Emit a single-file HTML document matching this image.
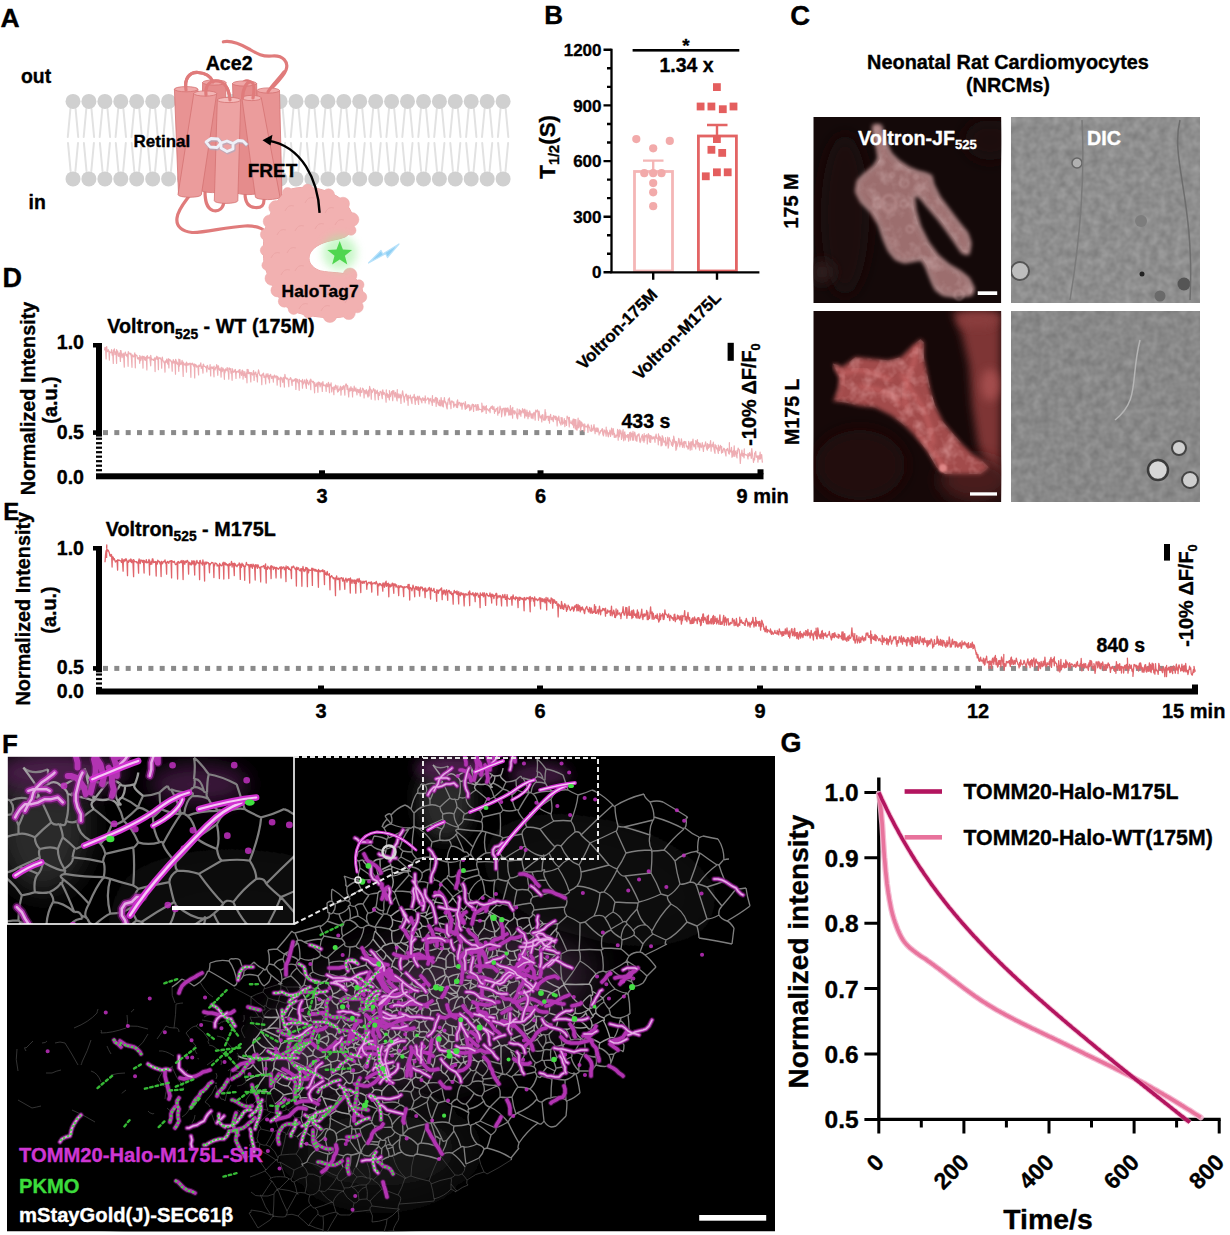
<!DOCTYPE html>
<html><head><meta charset="utf-8"><title>Figure</title>
<style>html,body{margin:0;padding:0;background:#fff;overflow:hidden;width:1230px;height:1235px;} svg{display:block;} text{font-family:'Liberation Sans',Arial,Helvetica,sans-serif;font-weight:bold;stroke:currentColor;stroke-width:0.35px;stroke-linejoin:round;}</style>
</head><body>
<svg width="1230" height="1235" viewBox="0 0 1230 1235">
<defs>
<filter id="blur1" x="-20%" y="-20%" width="140%" height="140%"><feGaussianBlur stdDeviation="1"/></filter>
<filter id="blur2" x="-20%" y="-20%" width="140%" height="140%"><feGaussianBlur stdDeviation="2"/></filter>
<filter id="blur4" x="-50%" y="-50%" width="200%" height="200%"><feGaussianBlur stdDeviation="4"/></filter>
<filter id="blur6" x="-50%" y="-50%" width="200%" height="200%"><feGaussianBlur stdDeviation="6"/></filter>
<filter id="blur8" x="-50%" y="-50%" width="200%" height="200%"><feGaussianBlur stdDeviation="8"/></filter>
<filter id="blur20" x="-50%" y="-50%" width="200%" height="200%"><feGaussianBlur stdDeviation="20"/></filter>
<filter id="noise" x="0" y="0" width="100%" height="100%"><feTurbulence type="fractalNoise" baseFrequency="0.12" numOctaves="2" seed="4"/><feColorMatrix type="matrix" values="0 0 0 0 0  0 0 0 0 0  0 0 0 0 0  0 0 0 -1.2 1.05"/></filter>
<filter id="noise2" x="0" y="0" width="100%" height="100%"><feTurbulence type="fractalNoise" baseFrequency="0.07" numOctaves="3" seed="9"/><feColorMatrix type="matrix" values="0 0 0 0 0.85  0 0 0 0 0.66  0 0 0 0 0.66  0 0 0 2.2 -0.9"/></filter>
<filter id="noise3" x="0" y="0" width="100%" height="100%"><feTurbulence type="fractalNoise" baseFrequency="0.07" numOctaves="3" seed="13"/><feColorMatrix type="matrix" values="0 0 0 0 0.92  0 0 0 0 0.5  0 0 0 0 0.5  0 0 0 2.4 -1.0"/></filter>
</defs>
<rect width="1230" height="1235" fill="#fff"/>
<g stroke="#e2e2e2" stroke-width="2" fill="none" stroke-linecap="round">
<path d="M70.4 109 L67.8 137 M75.6 109 L78.2 137 M68.0 143 L70.6 171 M78.0 143 L75.4 171"/>
<path d="M86.3 109 L83.7 137 M91.5 109 L94.1 137 M83.9 143 L86.5 171 M93.9 143 L91.3 171"/>
<path d="M102.3 109 L99.7 137 M107.5 109 L110.1 137 M99.9 143 L102.5 171 M109.9 143 L107.3 171"/>
<path d="M118.2 109 L115.6 137 M123.4 109 L126.0 137 M115.8 143 L118.4 171 M125.8 143 L123.2 171"/>
<path d="M134.1 109 L131.5 137 M139.3 109 L141.9 137 M131.7 143 L134.3 171 M141.7 143 L139.1 171"/>
<path d="M150.1 109 L147.5 137 M155.2 109 L157.8 137 M147.7 143 L150.2 171 M157.7 143 L155.1 171"/>
<path d="M166.0 109 L163.4 137 M171.2 109 L173.8 137 M163.6 143 L166.2 171 M173.6 143 L171.0 171"/>
<path d="M181.9 109 L179.3 137 M187.1 109 L189.7 137 M179.5 143 L182.1 171 M189.5 143 L186.9 171"/>
<path d="M197.8 109 L195.2 137 M203.0 109 L205.6 137 M195.4 143 L198.0 171 M205.4 143 L202.8 171"/>
<path d="M213.8 109 L211.2 137 M219.0 109 L221.6 137 M211.4 143 L214.0 171 M221.4 143 L218.8 171"/>
<path d="M229.7 109 L227.1 137 M234.9 109 L237.5 137 M227.3 143 L229.9 171 M237.3 143 L234.7 171"/>
<path d="M245.6 109 L243.0 137 M250.8 109 L253.4 137 M243.2 143 L245.8 171 M253.2 143 L250.6 171"/>
<path d="M261.6 109 L259.0 137 M266.8 109 L269.4 137 M259.2 143 L261.8 171 M269.2 143 L266.6 171"/>
<path d="M277.5 109 L274.9 137 M282.7 109 L285.3 137 M275.1 143 L277.7 171 M285.1 143 L282.5 171"/>
<path d="M293.4 109 L290.8 137 M298.6 109 L301.2 137 M291.0 143 L293.6 171 M301.0 143 L298.4 171"/>
<path d="M309.3 109 L306.8 137 M314.6 109 L317.1 137 M306.9 143 L309.6 171 M316.9 143 L314.3 171"/>
<path d="M325.3 109 L322.7 137 M330.5 109 L333.1 137 M322.9 143 L325.5 171 M332.9 143 L330.3 171"/>
<path d="M341.2 109 L338.6 137 M346.4 109 L349.0 137 M338.8 143 L341.4 171 M348.8 143 L346.2 171"/>
<path d="M357.1 109 L354.5 137 M362.3 109 L364.9 137 M354.7 143 L357.3 171 M364.7 143 L362.1 171"/>
<path d="M373.1 109 L370.5 137 M378.3 109 L380.9 137 M370.7 143 L373.3 171 M380.7 143 L378.1 171"/>
<path d="M389.0 109 L386.4 137 M394.2 109 L396.8 137 M386.6 143 L389.2 171 M396.6 143 L394.0 171"/>
<path d="M404.9 109 L402.3 137 M410.1 109 L412.7 137 M402.5 143 L405.1 171 M412.5 143 L409.9 171"/>
<path d="M420.9 109 L418.3 137 M426.1 109 L428.7 137 M418.5 143 L421.1 171 M428.5 143 L425.9 171"/>
<path d="M436.8 109 L434.2 137 M442.0 109 L444.6 137 M434.4 143 L437.0 171 M444.4 143 L441.8 171"/>
<path d="M452.7 109 L450.1 137 M457.9 109 L460.5 137 M450.3 143 L452.9 171 M460.3 143 L457.7 171"/>
<path d="M468.6 109 L466.1 137 M473.9 109 L476.4 137 M466.2 143 L468.9 171 M476.2 143 L473.6 171"/>
<path d="M484.6 109 L482.0 137 M489.8 109 L492.4 137 M482.2 143 L484.8 171 M492.2 143 L489.6 171"/>
<path d="M500.5 109 L497.9 137 M505.7 109 L508.3 137 M498.1 143 L500.7 171 M508.1 143 L505.5 171"/>
</g><g fill="#d0d0d0">
<circle cx="73.0" cy="101.4" r="7.5"/><circle cx="73.0" cy="178.9" r="7.5"/>
<circle cx="88.9" cy="101.4" r="7.5"/><circle cx="88.9" cy="178.9" r="7.5"/>
<circle cx="104.9" cy="101.4" r="7.5"/><circle cx="104.9" cy="178.9" r="7.5"/>
<circle cx="120.8" cy="101.4" r="7.5"/><circle cx="120.8" cy="178.9" r="7.5"/>
<circle cx="136.7" cy="101.4" r="7.5"/><circle cx="136.7" cy="178.9" r="7.5"/>
<circle cx="152.7" cy="101.4" r="7.5"/><circle cx="152.7" cy="178.9" r="7.5"/>
<circle cx="168.6" cy="101.4" r="7.5"/><circle cx="168.6" cy="178.9" r="7.5"/>
<circle cx="184.5" cy="101.4" r="7.5"/><circle cx="184.5" cy="178.9" r="7.5"/>
<circle cx="200.4" cy="101.4" r="7.5"/><circle cx="200.4" cy="178.9" r="7.5"/>
<circle cx="216.4" cy="101.4" r="7.5"/><circle cx="216.4" cy="178.9" r="7.5"/>
<circle cx="232.3" cy="101.4" r="7.5"/><circle cx="232.3" cy="178.9" r="7.5"/>
<circle cx="248.2" cy="101.4" r="7.5"/><circle cx="248.2" cy="178.9" r="7.5"/>
<circle cx="264.2" cy="101.4" r="7.5"/><circle cx="264.2" cy="178.9" r="7.5"/>
<circle cx="280.1" cy="101.4" r="7.5"/><circle cx="280.1" cy="178.9" r="7.5"/>
<circle cx="296.0" cy="101.4" r="7.5"/><circle cx="296.0" cy="178.9" r="7.5"/>
<circle cx="311.9" cy="101.4" r="7.5"/><circle cx="311.9" cy="178.9" r="7.5"/>
<circle cx="327.9" cy="101.4" r="7.5"/><circle cx="327.9" cy="178.9" r="7.5"/>
<circle cx="343.8" cy="101.4" r="7.5"/><circle cx="343.8" cy="178.9" r="7.5"/>
<circle cx="359.7" cy="101.4" r="7.5"/><circle cx="359.7" cy="178.9" r="7.5"/>
<circle cx="375.7" cy="101.4" r="7.5"/><circle cx="375.7" cy="178.9" r="7.5"/>
<circle cx="391.6" cy="101.4" r="7.5"/><circle cx="391.6" cy="178.9" r="7.5"/>
<circle cx="407.5" cy="101.4" r="7.5"/><circle cx="407.5" cy="178.9" r="7.5"/>
<circle cx="423.5" cy="101.4" r="7.5"/><circle cx="423.5" cy="178.9" r="7.5"/>
<circle cx="439.4" cy="101.4" r="7.5"/><circle cx="439.4" cy="178.9" r="7.5"/>
<circle cx="455.3" cy="101.4" r="7.5"/><circle cx="455.3" cy="178.9" r="7.5"/>
<circle cx="471.2" cy="101.4" r="7.5"/><circle cx="471.2" cy="178.9" r="7.5"/>
<circle cx="487.2" cy="101.4" r="7.5"/><circle cx="487.2" cy="178.9" r="7.5"/>
<circle cx="503.1" cy="101.4" r="7.5"/><circle cx="503.1" cy="178.9" r="7.5"/>
</g>
<g fill="none" stroke="#e07b7b" stroke-width="3.2" stroke-linecap="round" stroke-linejoin="round">
<path d="M223.4 41.8 C232 40 242 45 249 49 C256 53 262 57 272 56 C283 55 289 62 286 70 C283 78 275 84 268 92"/>
<path d="M186 90 C184 78 190 72 198 72.5 C206 73 211 77 213 82"/>
<path d="M206 95 C205 86 209 81 216 81 C224 81 229 88 230 100"/>
<path d="M242.5 86 C243 80 249 79 251 84 C253 89 252 93 252 98"/>
<path d="M205 191 C205 200 206 208 213 210.5 C219 212 224 208 224 200"/>
<path d="M245 193 C245 200 247 207 255 207.5 C262 208 264 205 264 200"/>
<path d="M188.5 197 C184 203 178 210 177 218 C176 226 181 231 192 232.5 C205 233 225 227 245 226 C255 225.5 262 228 266 232"/>
</g>
<path d="M202.6 82.5 L201 190 A11.5 2.6 0 0 0 224 190 L226 82.5 Z" fill="#e58c8c" stroke="#d47272" stroke-width="0.8"/><ellipse cx="214.3" cy="82.5" rx="11.700000000000003" ry="2.6" fill="#efa6a6" stroke="#d47272" stroke-width="0.8"/>
<path d="M232.5 83.5 L236 192 A12.0 2.6 0 0 0 260 192 L256.6 83.5 Z" fill="#e58c8c" stroke="#d47272" stroke-width="0.8"/><ellipse cx="244.55" cy="83.5" rx="12.050000000000011" ry="2.6" fill="#efa6a6" stroke="#d47272" stroke-width="0.8"/>
<path d="M174.4 89.2 L178.5 194 A11.25 2.6 0 0 0 201 194 L197.9 89.2 Z" fill="#e89393" stroke="#d47272" stroke-width="0.8"/><ellipse cx="186.15" cy="89.2" rx="11.75" ry="2.6" fill="#f0aaaa" stroke="#d47272" stroke-width="0.8"/>
<path d="M257 90.5 L256 196 A13.0 2.6 0 0 0 282 196 L279.5 90.5 Z" fill="#e89393" stroke="#d47272" stroke-width="0.8"/><ellipse cx="268.25" cy="90.5" rx="11.25" ry="2.6" fill="#f0aaaa" stroke="#d47272" stroke-width="0.8"/>
<path d="M193.8 93.5 L178 194.7 A11.700000000000003 2.6 0 0 0 201.4 194.7 L216.7 93.5 Z" fill="#eb9c9c" stroke="#d47272" stroke-width="0.8"/><ellipse cx="205.25" cy="93.5" rx="11.449999999999989" ry="2.6" fill="#f2b4b4" stroke="#d47272" stroke-width="0.8"/>
<path d="M241.9 98 L255.4 197 A12.299999999999997 2.6 0 0 0 280 197 L261.3 98 Z" fill="#eb9c9c" stroke="#d47272" stroke-width="0.8"/><ellipse cx="251.60000000000002" cy="98" rx="9.700000000000003" ry="2.6" fill="#f2b4b4" stroke="#d47272" stroke-width="0.8"/>
<path d="M217.3 100 L214.3 200.8 A11.75 2.6 0 0 0 237.8 200.8 L240.7 100 Z" fill="#eda3a3" stroke="#d47272" stroke-width="0.8"/><ellipse cx="229.0" cy="100" rx="11.699999999999989" ry="2.6" fill="#f4baba" stroke="#d47272" stroke-width="0.8"/>
<g fill="none" stroke="#e07b7b" stroke-width="3.2" stroke-linecap="round" stroke-linejoin="round">
<path d="M206 95 C205 86 209 81 216 81 C224 81 229 88 230 100"/>
<path d="M186 90 C184 78 190 72 198 72.5 C206 73 211 77 213 82"/>
<path d="M242.5 98 C243 88 247 81 251 82 C255 83 254 92 253 98"/>
<path d="M268 92 C272 85 278 80 284 72"/>
</g>
<g fill="none" stroke="#a8aac0" stroke-width="4.2" stroke-linejoin="round" opacity="0.6" transform="translate(0.6 0.8)"><path d="M206 142 L211 138.5 L218 139 L221 143 L217 147.5 L210 147 Z"/><path d="M221 143 L227 141 L233 143.5 L233 149 L227 151.5 L221 148 Z"/><path d="M233 143.5 L238 140.5 L243 141 L247 145"/></g>
<g fill="none" stroke="#eef0f8" stroke-width="2.8" stroke-linejoin="round"><path d="M206 142 L211 138.5 L218 139 L221 143 L217 147.5 L210 147 Z"/><path d="M221 143 L227 141 L233 143.5 L233 149 L227 151.5 L221 148 Z"/><path d="M233 143.5 L238 140.5 L243 141 L247 145"/></g>
<path d="M286.8 190.6 C296 186 318 186 329 192.7 C340 196 350 205 353.4 218 C356 226 352 233 345 237 C338 240 330 240 322 243.4 C314 247 309 252 309 258.2 C309 264 314 269 320.7 270.9 C330 273 344 272 352 276 C360 281 364 290 363 298.4 C362 306 357 312 350 315 C340 319 322 318 308 315.3 C296 313 288 310 283 303 C277 296 274 288 270 279.4 C265 270 263 262 263.6 250 C263 238 265 228 268 220 C271 212 276 200 286.8 190.6 Z" fill="#f2b1b1" stroke="#eaa2a2" stroke-width="1"/>
<g fill="#f2b1b1" stroke="#eda9a9" stroke-width="0.5"><circle cx="287.6" cy="192.6" r="5.0"/><circle cx="307.5" cy="189.6" r="5.5"/><circle cx="328.5" cy="194.8" r="6.0"/><circle cx="343.0" cy="203.7" r="6.5"/><circle cx="351.9" cy="219.6" r="7.0"/><circle cx="351.0" cy="230.3" r="5.0"/><circle cx="350.0" cy="275.0" r="7.0"/><circle cx="359.0" cy="284.8" r="5.0"/><circle cx="361.3" cy="297.0" r="5.5"/><circle cx="357.3" cy="306.8" r="6.0"/><circle cx="348.8" cy="313.1" r="6.5"/><circle cx="329.9" cy="315.5" r="7.0"/><circle cx="308.3" cy="313.1" r="5.0"/><circle cx="293.7" cy="308.9" r="5.5"/><circle cx="284.3" cy="301.2" r="6.0"/><circle cx="277.4" cy="290.4" r="6.5"/><circle cx="272.0" cy="278.4" r="7.0"/><circle cx="266.9" cy="265.3" r="5.0"/><circle cx="265.8" cy="250.3" r="5.5"/><circle cx="266.4" cy="234.5" r="6.0"/><circle cx="269.7" cy="221.4" r="6.5"/><circle cx="275.8" cy="207.6" r="7.0"/></g>
<path d="M286.8 190.6 C296 186 318 186 329 192.7 C340 196 350 205 353.4 218 C356 226 352 233 345 237 C338 240 330 240 322 243.4 C314 247 309 252 309 258.2 C309 264 314 269 320.7 270.9 C330 273 344 272 352 276 C360 281 364 290 363 298.4 C362 306 357 312 350 315 C340 319 322 318 308 315.3 C296 313 288 310 283 303 C277 296 274 288 270 279.4 C265 270 263 262 263.6 250 C263 238 265 228 268 220 C271 212 276 200 286.8 190.6 Z" fill="#f2b1b1"/>
<g fill="none" stroke="#eaa5a5" stroke-width="0.9" opacity="0.9">
<path d="M285 211 Q288 204 294 206"/>
<path d="M305 203 Q308 196 314 198"/>
<path d="M325 213 Q328 206 334 208"/>
<path d="M277 235 Q280 228 286 230"/>
<path d="M295 231 Q298 224 304 226"/>
<path d="M315 229 Q318 222 324 224"/>
<path d="M335 225 Q338 218 344 220"/>
<path d="M271 258 Q274 251 280 253"/>
<path d="M287 253 Q290 246 296 248"/>
<path d="M281 275 Q284 268 290 270"/>
<path d="M295 271 Q298 264 304 266"/>
<path d="M287 295 Q290 288 296 290"/>
<path d="M307 293 Q310 286 316 288"/>
<path d="M327 295 Q330 288 336 290"/>
<path d="M345 303 Q348 296 354 298"/>
<path d="M299 309 Q302 302 308 304"/>
<path d="M321 311 Q324 304 330 306"/>
</g>
<circle cx="339.7" cy="253" r="17" fill="#9cf09c" opacity="0.55" filter="url(#blur4)"/>
<polygon points="339.7,241.0 342.9,249.6 352.1,250.0 344.9,255.7 347.3,264.5 339.7,259.5 332.1,264.5 334.5,255.7 327.3,250.0 336.5,249.6" fill="#4fd64f"/>
<polygon points="368.5,263 381,250.5 382.8,254 399,244 387.5,257.5 385.6,253.8" fill="#8fd0f5" stroke="#b8e2fa" stroke-width="1.2" stroke-linejoin="round"/>
<path d="M319.6 212.9 C318 180 302 146 268 140.6" fill="none" stroke="#000" stroke-width="2.4"/>
<polygon points="262.5,140.2 272.5,134.8 270.5,145.5" fill="#000"/>
<text x="0.5" y="27" font-size="26.5" text-anchor="start" fill="#000" >A</text>
<text x="21" y="82.5" font-size="19.4" text-anchor="start" fill="#000" >out</text>
<text x="28.5" y="209" font-size="19.4" text-anchor="start" fill="#000" >in</text>
<text x="205.7" y="69.8" font-size="19.6" text-anchor="start" fill="#000" >Ace2</text>
<text x="133.6" y="146.5" font-size="17" text-anchor="start" fill="#000" >Retinal</text>
<text x="247.7" y="177" font-size="19" text-anchor="start" fill="#000" >FRET</text>
<text x="281.6" y="297.3" font-size="17.4" text-anchor="start" fill="#000" >HaloTag7</text>
<rect x="634.5" y="171.5" width="38" height="99.5" fill="none" stroke="#f4b6b6" stroke-width="2.8"/>
<rect x="698.4" y="136" width="38" height="135.0" fill="none" stroke="#e36464" stroke-width="2.8"/>
<path d="M611.5 48.80000000000001 L611.5 272.3 L759.4 272.3" fill="none" stroke="#000" stroke-width="2.3"/>
<path d="M603.5 272.3 L611.5 272.3 M607.0 253.8 L611.5 253.8 M607.0 235.2 L611.5 235.2 M603.5 216.7 L611.5 216.7 M607.0 198.1 L611.5 198.1 M607.0 179.6 L611.5 179.6 M603.5 161.1 L611.5 161.1 M607.0 142.5 L611.5 142.5 M607.0 124.0 L611.5 124.0 M603.5 105.4 L611.5 105.4 M607.0 86.9 L611.5 86.9 M607.0 68.3 L611.5 68.3 M603.5 49.8 L611.5 49.8 M653.2 272.3 L653.2 279.8 M717 272.3 L717 279.8" stroke="#000" stroke-width="2.4"/>
<text x="601.5" y="278.40000000000003" font-size="17" text-anchor="end" fill="#000" >0</text>
<text x="601.5" y="222.775" font-size="17" text-anchor="end" fill="#000" >300</text>
<text x="601.5" y="167.15" font-size="17" text-anchor="end" fill="#000" >600</text>
<text x="601.5" y="111.525" font-size="17" text-anchor="end" fill="#000" >900</text>
<text x="601.5" y="55.90000000000001" font-size="17" text-anchor="end" fill="#000" >1200</text>
<path d="M643 160.6 L663.5 160.6 M653.2 160.6 L653.2 172" stroke="#f4b6b6" stroke-width="2.4"/>
<path d="M707 125 L727.5 125 M717 125 L717 137" stroke="#e36464" stroke-width="2.4"/>
<g fill="#f2aaaa">
<circle cx="636.3" cy="139.1" r="4.1"/>
<circle cx="653.2" cy="148.3" r="4.1"/>
<circle cx="669.8" cy="140.9" r="4.1"/>
<circle cx="644.3" cy="173.2" r="4.1"/>
<circle cx="653.2" cy="173.2" r="4.1"/>
<circle cx="661.5" cy="173.2" r="4.1"/>
<circle cx="653.2" cy="183.1" r="4.1"/>
<circle cx="653.2" cy="192.3" r="4.1"/>
<circle cx="653.2" cy="206.2" r="4.1"/>
</g>
<g fill="#e45e5e">
<rect x="713.0" y="83.2" width="7.8" height="7.8"/>
<rect x="696.7" y="102.6" width="7.8" height="7.8"/>
<rect x="707.5" y="102.6" width="7.8" height="7.8"/>
<rect x="718.9" y="105.3" width="7.8" height="7.8"/>
<rect x="729.6" y="102.6" width="7.8" height="7.8"/>
<rect x="713.0" y="135.2" width="7.8" height="7.8"/>
<rect x="707.5" y="145.9" width="7.8" height="7.8"/>
<rect x="718.3" y="149.0" width="7.8" height="7.8"/>
<rect x="701.9" y="172.4" width="7.8" height="7.8"/>
<rect x="713.0" y="168.4" width="7.8" height="7.8"/>
<rect x="723.8" y="168.4" width="7.8" height="7.8"/>
</g>
<rect x="632.6" y="49" width="106.7" height="2.6" fill="#000"/>
<text x="686" y="51.5" font-size="19" text-anchor="middle" fill="#000" >*</text>
<text x="686.5" y="72.2" font-size="19.5" text-anchor="middle" fill="#000" >1.34 x</text>
<g transform="translate(555.2 146.8) rotate(-90)"><text x="0" y="0" font-size="22.4" text-anchor="middle">T<tspan font-size="14.5" dy="4">1/2</tspan><tspan dy="-4">(S)</tspan></text></g>
<text x="0" y="0" font-size="16.9" text-anchor="end" transform="translate(658.5 295.7) rotate(-45)">Voltron-175M</text>
<text x="0" y="0" font-size="16.9" text-anchor="end" transform="translate(722 298.7) rotate(-45)">Voltron-M175L</text>
<text x="544.3" y="24.2" font-size="26" text-anchor="start" fill="#000" >B</text>
<text x="790.3" y="24.6" font-size="27.5" text-anchor="start" fill="#000" >C</text>
<text x="1008" y="68.9" font-size="19.9" text-anchor="middle" fill="#000" >Neonatal Rat Cardiomyocytes</text>
<text x="1008" y="92.3" font-size="19.9" text-anchor="middle" fill="#000" >(NRCMs)</text>
<text x="0" y="0" font-size="19.8" text-anchor="middle" transform="translate(798.3 201) rotate(-90)">175 M</text>
<text x="0" y="0" font-size="19.6" text-anchor="middle" transform="translate(798.5 411.7) rotate(-90)">M175 L</text>
<defs><clipPath id="cl1"><rect x="813.3" y="117" width="188" height="186"/></clipPath><clipPath id="cl2"><rect x="813.3" y="311" width="188" height="191"/></clipPath><clipPath id="cd1"><rect x="1011" y="117" width="189" height="186"/></clipPath><clipPath id="cd2"><rect x="1011" y="311" width="189" height="191"/></clipPath></defs>
<g clip-path="url(#cl1)"><rect x="813.3" y="117" width="188" height="186" fill="#140909"/>
<ellipse cx="845" cy="215" rx="24" ry="80" fill="#1f1111" filter="url(#blur8)"/>
<ellipse cx="822" cy="272" rx="12" ry="12" fill="#2e1a1a" filter="url(#blur6)"/>
<ellipse cx="990" cy="140" rx="25" ry="20" fill="#1e1010" filter="url(#blur8)"/>
<polygon points="874.2,126.3 879.9,126.3 883.2,139.3 889.7,153.9 897.8,162.0 907.6,168.5 917.3,172.6 923.8,174.2 930.3,176.7 932.0,184.8 938.5,197.8 948.2,210.8 958.0,223.8 966.1,233.6 969.3,243.3 967.7,253.1 962.8,251.5 956.3,241.7 948.2,230.3 938.5,217.3 928.7,205.9 922.2,197.8 916.5,192.9 912.4,196.2 914.1,210.8 918.9,227.1 927.1,243.3 936.8,256.3 948.2,266.1 959.6,272.6 967.7,279.1 972.6,288.9 971.0,293.7 956.3,295.4 943.3,293.7 936.8,288.9 933.6,282.4 930.3,274.2 927.1,266.1 922.2,258.0 914.1,259.6 904.3,261.2 896.2,258.0 889.7,249.8 884.8,238.5 879.9,223.8 871.8,210.8 862.0,201.1 857.2,191.3 858.8,181.5 865.3,175.0 875.0,166.9 879.9,158.8 878.3,147.4 875.0,136.0" fill="#9c6e6e" filter="url(#blur2)"/>
<polygon points="874.2,126.3 879.9,126.3 883.2,139.3 889.7,153.9 897.8,162.0 907.6,168.5 917.3,172.6 923.8,174.2 930.3,176.7 932.0,184.8 938.5,197.8 948.2,210.8 958.0,223.8 966.1,233.6 969.3,243.3 967.7,253.1 962.8,251.5 956.3,241.7 948.2,230.3 938.5,217.3 928.7,205.9 922.2,197.8 916.5,192.9 912.4,196.2 914.1,210.8 918.9,227.1 927.1,243.3 936.8,256.3 948.2,266.1 959.6,272.6 967.7,279.1 972.6,288.9 971.0,293.7 956.3,295.4 943.3,293.7 936.8,288.9 933.6,282.4 930.3,274.2 927.1,266.1 922.2,258.0 914.1,259.6 904.3,261.2 896.2,258.0 889.7,249.8 884.8,238.5 879.9,223.8 871.8,210.8 862.0,201.1 857.2,191.3 858.8,181.5 865.3,175.0 875.0,166.9 879.9,158.8 878.3,147.4 875.0,136.0" fill="none" stroke="#c69a9a" stroke-width="3.5" stroke-linejoin="round" filter="url(#blur2)"/>
<g filter="url(#blur1)"><circle cx="959" cy="295" r="4.6" fill="none" stroke="#c39c9c" stroke-width="1.3" opacity="0.7"/><circle cx="916" cy="177" r="2.0" fill="none" stroke="#c39c9c" stroke-width="1.3" opacity="0.7"/><circle cx="904" cy="204" r="3.6" fill="none" stroke="#c39c9c" stroke-width="1.3" opacity="0.7"/><circle cx="910" cy="229" r="3.6" fill="none" stroke="#c39c9c" stroke-width="1.3" opacity="0.7"/><circle cx="892" cy="175" r="2.2" fill="none" stroke="#c39c9c" stroke-width="1.3" opacity="0.7"/><circle cx="878" cy="203" r="4.7" fill="none" stroke="#c39c9c" stroke-width="1.3" opacity="0.7"/><circle cx="904" cy="183" r="4.4" fill="none" stroke="#c39c9c" stroke-width="1.3" opacity="0.7"/></g>
<clipPath id="cc1"><polygon points="874.2,126.3 879.9,126.3 883.2,139.3 889.7,153.9 897.8,162.0 907.6,168.5 917.3,172.6 923.8,174.2 930.3,176.7 932.0,184.8 938.5,197.8 948.2,210.8 958.0,223.8 966.1,233.6 969.3,243.3 967.7,253.1 962.8,251.5 956.3,241.7 948.2,230.3 938.5,217.3 928.7,205.9 922.2,197.8 916.5,192.9 912.4,196.2 914.1,210.8 918.9,227.1 927.1,243.3 936.8,256.3 948.2,266.1 959.6,272.6 967.7,279.1 972.6,288.9 971.0,293.7 956.3,295.4 943.3,293.7 936.8,288.9 933.6,282.4 930.3,274.2 927.1,266.1 922.2,258.0 914.1,259.6 904.3,261.2 896.2,258.0 889.7,249.8 884.8,238.5 879.9,223.8 871.8,210.8 862.0,201.1 857.2,191.3 858.8,181.5 865.3,175.0 875.0,166.9 879.9,158.8 878.3,147.4 875.0,136.0"/></clipPath>
<g clip-path="url(#cc1)"><rect x="813" y="117" width="188" height="186" filter="url(#noise2)" opacity="0.3"/></g>
<ellipse cx="889" cy="203" rx="7" ry="8" fill="none" stroke="#b08484" stroke-width="2.5" filter="url(#blur1)"/>
<rect x="977.7" y="291.3" width="19.5" height="3.7" fill="#fff"/></g>
<g clip-path="url(#cl2)"><rect x="813.3" y="311" width="188" height="191" fill="#160808"/>
<polygon points="952,311 1001,311 1001,478 988,470 978,445 972,405 969,365 962,335" fill="#7e3636" filter="url(#blur4)"/>
<ellipse cx="990" cy="385" rx="9" ry="16" fill="#a44e4e" filter="url(#blur4)"/>
<ellipse cx="978" cy="320" rx="20" ry="8" fill="#8a3e3e" filter="url(#blur4)"/>
<ellipse cx="975" cy="480" rx="35" ry="22" fill="#4a1e1e" filter="url(#blur8)"/>
<ellipse cx="860" cy="465" rx="45" ry="35" fill="#221010" filter="url(#blur8)"/>
<polygon points="832.8,363.5 842.5,366.8 855.5,357.0 871.8,358.7 888.0,360.3 901.1,357.0 910.8,347.3 920.6,339.1 923.8,342.4 923.8,357.0 927.1,373.3 930.3,389.6 935.2,405.8 943.3,422.1 953.1,433.5 962.8,444.8 972.6,454.6 982.4,461.1 988.9,467.6 980.7,474.1 956.3,474.1 945.0,474.1 936.8,467.6 927.1,451.3 917.3,438.3 904.3,425.3 891.3,415.6 875.0,407.4 858.8,405.8 845.8,402.6 832.8,400.9 839.3,389.6 839.3,376.5" fill="#a24c4c" filter="url(#blur2)"/>
<polyline points="915.7,345.7 914.1,361.9 907.6,378.2 904.3,396.1 907.6,410.7" fill="none" stroke="#d87070" stroke-width="3.5" stroke-linejoin="round" filter="url(#blur2)" opacity="0.6"/>
<polyline points="901.1,373.3 910.8,389.6 923.8,409.1 930.3,428.6 933.6,444.8" fill="none" stroke="#d87070" stroke-width="3.5" stroke-linejoin="round" filter="url(#blur2)" opacity="0.6"/>
<polyline points="917.3,435.1 927.1,444.8 940.1,461.1 943.3,470.9" fill="none" stroke="#d87070" stroke-width="3.5" stroke-linejoin="round" filter="url(#blur2)" opacity="0.6"/>
<polyline points="842.5,373.3 858.8,370.0 875.0,373.3 891.3,379.8" fill="none" stroke="#d87070" stroke-width="3.5" stroke-linejoin="round" filter="url(#blur2)" opacity="0.6"/>
<polyline points="834.4,365.2 842.5,378.2 837.6,396.1" fill="none" stroke="#d87070" stroke-width="3.5" stroke-linejoin="round" filter="url(#blur2)" opacity="0.6"/>
<polyline points="858.8,386.3 878.3,389.6 894.6,396.1 901.1,405.8" fill="none" stroke="#d87070" stroke-width="3.5" stroke-linejoin="round" filter="url(#blur2)" opacity="0.6"/>
<circle cx="943" cy="468" r="4" fill="#e08888" filter="url(#blur1)"/>
<clipPath id="cc2"><polygon points="832.8,363.5 842.5,366.8 855.5,357.0 871.8,358.7 888.0,360.3 901.1,357.0 910.8,347.3 920.6,339.1 923.8,342.4 923.8,357.0 927.1,373.3 930.3,389.6 935.2,405.8 943.3,422.1 953.1,433.5 962.8,444.8 972.6,454.6 982.4,461.1 988.9,467.6 980.7,474.1 956.3,474.1 945.0,474.1 936.8,467.6 927.1,451.3 917.3,438.3 904.3,425.3 891.3,415.6 875.0,407.4 858.8,405.8 845.8,402.6 832.8,400.9 839.3,389.6 839.3,376.5"/></clipPath>
<g clip-path="url(#cc2)"><rect x="813" y="311" width="188" height="191" filter="url(#noise3)" opacity="0.45"/></g>
<rect x="970" y="492.3" width="27" height="3.3" fill="#fff"/></g>
<g clip-path="url(#cd1)"><rect x="1011" y="117" width="189" height="186" fill="#9e9e9e"/>
<rect x="1011" y="117" width="189" height="186" filter="url(#noise)" opacity="0.22"/>
</g>
<g clip-path="url(#cd2)"><rect x="1011" y="311" width="189" height="191" fill="#989898"/>
<rect x="1011" y="311" width="189" height="191" filter="url(#noise)" opacity="0.22"/>
</g>
<g clip-path="url(#cd1)"><circle cx="1020" cy="271" r="9" fill="#bdbdbd" stroke="#555" stroke-width="2"/><circle cx="1077" cy="163" r="5" fill="#b0b0b0" stroke="#666" stroke-width="1.5"/><circle cx="1184" cy="284" r="6.5" fill="#555"/><circle cx="1160" cy="296" r="5.5" fill="#6a6a6a"/><circle cx="1142" cy="274" r="2.5" fill="#222"/><circle cx="1141" cy="221" r="6" fill="#7d7d7d"/><path d="M1082 120 C1085 180 1080 240 1070 300" stroke="#7a7a7a" stroke-width="1.5" fill="none"/><path d="M1180 120 C1170 160 1195 200 1190 300" stroke="#6d6d6d" stroke-width="1.5" fill="none"/></g>
<g clip-path="url(#cd2)"><circle cx="1158" cy="470" r="10" fill="#d6d6d6" stroke="#3a3a3a" stroke-width="2.5"/><circle cx="1179" cy="448" r="7" fill="#d0d0d0" stroke="#444" stroke-width="2"/><circle cx="1190" cy="480" r="8" fill="#cfcfcf" stroke="#444" stroke-width="2"/><path d="M1140 340 C1130 380 1140 400 1115 420" stroke="#b5b5b5" stroke-width="1.5" fill="none"/></g>
<text x="858" y="144.8" font-size="19.7" text-anchor="start" fill="#fff" color="#fff" >Voltron-JF<tspan font-size="13" dy="4">525</tspan></text>
<text x="1104" y="145.4" font-size="19.7" text-anchor="middle" fill="#fff" color="#fff" >DIC</text>
<text x="2.6" y="286.6" font-size="27" text-anchor="start" fill="#000" >D</text>
<text x="0" y="0" font-size="19.8" text-anchor="middle" transform="translate(34.5 398.5) rotate(-90)">Normalized Intensity</text>
<text x="0" y="0" font-size="19.8" text-anchor="middle" transform="translate(56.5 400) rotate(-90)">(a.u.)</text>
<text x="84" y="349.4" font-size="19.6" text-anchor="end" fill="#000" >1.0</text>
<text x="84" y="439.3" font-size="19.6" text-anchor="end" fill="#000" >0.5</text>
<text x="84" y="483.5" font-size="19.6" text-anchor="end" fill="#000" >0.0</text>
<g fill="#8a8a8a"><rect x="103.0" y="430.1" width="5" height="5"/><rect x="114.3" y="430.1" width="5" height="5"/><rect x="125.7" y="430.1" width="5" height="5"/><rect x="137.0" y="430.1" width="5" height="5"/><rect x="148.4" y="430.1" width="5" height="5"/><rect x="159.7" y="430.1" width="5" height="5"/><rect x="171.1" y="430.1" width="5" height="5"/><rect x="182.4" y="430.1" width="5" height="5"/><rect x="193.8" y="430.1" width="5" height="5"/><rect x="205.1" y="430.1" width="5" height="5"/><rect x="216.5" y="430.1" width="5" height="5"/><rect x="227.8" y="430.1" width="5" height="5"/><rect x="239.2" y="430.1" width="5" height="5"/><rect x="250.5" y="430.1" width="5" height="5"/><rect x="261.9" y="430.1" width="5" height="5"/><rect x="273.2" y="430.1" width="5" height="5"/><rect x="284.6" y="430.1" width="5" height="5"/><rect x="295.9" y="430.1" width="5" height="5"/><rect x="307.3" y="430.1" width="5" height="5"/><rect x="318.7" y="430.1" width="5" height="5"/><rect x="330.0" y="430.1" width="5" height="5"/><rect x="341.4" y="430.1" width="5" height="5"/><rect x="352.7" y="430.1" width="5" height="5"/><rect x="364.1" y="430.1" width="5" height="5"/><rect x="375.4" y="430.1" width="5" height="5"/><rect x="386.8" y="430.1" width="5" height="5"/><rect x="398.1" y="430.1" width="5" height="5"/><rect x="409.5" y="430.1" width="5" height="5"/><rect x="420.8" y="430.1" width="5" height="5"/><rect x="432.2" y="430.1" width="5" height="5"/><rect x="443.5" y="430.1" width="5" height="5"/><rect x="454.9" y="430.1" width="5" height="5"/><rect x="466.2" y="430.1" width="5" height="5"/><rect x="477.6" y="430.1" width="5" height="5"/><rect x="488.9" y="430.1" width="5" height="5"/><rect x="500.3" y="430.1" width="5" height="5"/><rect x="511.6" y="430.1" width="5" height="5"/><rect x="523.0" y="430.1" width="5" height="5"/><rect x="534.3" y="430.1" width="5" height="5"/><rect x="545.7" y="430.1" width="5" height="5"/><rect x="557.0" y="430.1" width="5" height="5"/><rect x="568.4" y="430.1" width="5" height="5"/><rect x="579.7" y="430.1" width="5" height="5"/></g>
<polyline points="104.5,350.4 105.0,347.3 105.6,348.7 106.1,359.0 106.3,349.8 106.1,349.1 106.7,346.5 107.2,351.7 107.8,351.4 108.3,349.7 108.9,350.9 109.4,360.1 109.6,351.6 109.4,351.6 110.0,352.9 110.5,352.3 111.1,352.6 111.6,349.7 112.2,355.1 112.7,352.7 113.3,363.5 113.4,350.1 113.3,352.2 113.8,351.9 114.4,348.8 114.9,354.6 115.5,352.1 116.0,351.7 116.6,363.4 116.7,354.8 116.6,349.5 117.1,352.0 117.7,351.2 118.2,355.8 118.8,356.4 119.3,352.9 119.9,355.0 120.4,361.4 120.6,353.3 120.4,350.7 121.0,350.6 121.5,354.4 122.1,357.7 122.6,354.4 123.2,353.2 123.7,357.4 124.3,367.1 124.4,354.6 124.3,354.0 124.8,353.8 125.4,352.0 125.9,355.3 126.5,354.4 127.0,356.7 127.6,354.1 128.1,366.3 128.3,351.6 128.1,354.2 128.7,353.4 129.2,353.0 129.8,353.3 130.3,354.7 130.9,353.2 131.4,357.9 132.0,367.3 132.1,354.9 132.0,358.0 132.5,355.1 133.1,356.2 133.7,356.9 134.2,355.4 134.8,352.8 135.3,367.8 135.5,354.7 135.3,356.7 135.9,355.7 136.4,355.1 137.0,355.7 137.5,358.5 138.1,359.0 138.6,357.6 139.2,357.5 139.7,363.3 139.9,357.8 139.7,355.5 140.3,356.6 140.8,360.6 141.4,358.4 141.9,356.4 142.5,356.2 143.0,368.1 143.2,356.5 143.0,356.3 143.6,358.0 144.1,356.3 144.7,359.8 145.2,357.7 145.8,360.5 146.3,356.9 146.9,369.9 147.0,358.6 146.9,356.1 147.4,355.7 148.0,358.2 148.5,358.0 149.1,357.3 149.6,357.1 150.2,361.2 150.7,365.8 150.9,359.9 150.7,355.4 151.3,358.3 151.8,359.8 152.4,359.4 152.9,359.3 153.5,360.4 154.0,359.3 154.6,357.9 155.1,371.6 155.3,358.4 155.1,358.1 155.7,359.5 156.2,357.4 156.8,356.2 157.3,359.5 157.9,357.2 158.4,369.7 158.6,361.5 158.4,358.0 159.0,358.7 159.5,357.8 160.1,357.7 160.6,359.0 161.2,359.5 161.7,368.2 161.9,358.6 161.7,360.1 162.3,357.1 162.8,359.9 163.4,361.5 163.9,362.2 164.5,363.4 165.0,372.1 165.2,360.8 165.0,361.5 165.6,362.7 166.1,362.4 166.7,359.2 167.2,361.6 167.8,364.1 168.3,358.5 168.9,368.0 169.0,363.3 168.9,362.3 169.4,359.4 170.0,359.9 170.5,360.0 171.1,361.8 171.6,361.4 172.2,371.2 172.3,363.3 172.2,363.3 172.7,362.7 173.3,359.6 173.8,363.1 174.4,361.2 174.9,362.8 175.5,374.2 175.6,359.3 175.5,363.3 176.0,359.9 176.6,363.6 177.1,362.0 177.7,364.5 178.2,363.1 178.8,371.3 178.9,361.4 178.8,359.2 179.3,366.3 179.9,359.6 180.4,364.0 181.0,364.6 181.5,363.4 182.1,360.3 182.6,365.0 183.2,376.5 183.3,362.1 183.2,365.7 183.7,362.8 184.3,364.9 184.8,364.1 185.4,365.1 185.9,363.1 186.5,372.1 186.6,363.6 186.5,362.0 187.0,363.4 187.6,365.1 188.1,363.6 188.7,365.0 189.2,363.3 189.8,363.4 190.3,364.6 190.9,377.3 191.0,366.8 190.9,363.2 191.4,364.3 192.0,364.4 192.5,363.1 193.1,365.0 193.6,366.2 194.2,363.8 194.7,378.0 194.9,364.8 194.7,365.2 195.3,365.0 195.8,364.5 196.4,367.1 196.9,365.7 197.5,366.3 198.0,367.7 198.6,375.0 198.7,365.9 198.6,365.9 199.1,365.0 199.7,366.4 200.2,365.8 200.8,362.9 201.3,368.4 201.9,366.3 202.4,367.6 203.0,373.1 203.1,364.5 203.0,366.3 203.5,364.2 204.1,366.3 204.6,366.3 205.2,366.5 205.7,367.6 206.3,367.1 206.8,372.0 207.0,368.7 206.8,366.3 207.4,365.4 207.9,367.2 208.5,368.4 209.0,369.5 209.6,368.9 210.1,364.6 210.7,376.0 210.8,368.3 210.7,370.1 211.2,367.8 211.8,366.9 212.3,368.4 212.9,367.1 213.4,369.1 214.0,376.8 214.1,366.0 214.0,368.1 214.5,369.3 215.1,369.9 215.6,367.4 216.2,367.8 216.7,364.7 217.3,370.2 217.8,375.3 218.0,365.8 217.8,368.2 218.4,365.8 218.9,368.5 219.5,370.3 220.0,368.9 220.6,370.0 221.1,377.1 221.3,367.4 221.1,370.1 221.7,369.3 222.2,371.6 222.8,367.9 223.3,368.9 223.9,371.4 224.4,379.3 224.6,369.8 224.4,373.7 225.0,372.7 225.5,368.9 226.1,370.6 226.6,369.8 227.2,367.5 227.7,370.7 228.3,371.9 228.8,379.1 229.0,370.2 228.8,368.3 229.4,368.0 229.9,369.5 230.5,368.7 231.0,373.1 231.6,371.4 232.1,380.3 232.3,370.8 232.1,368.6 232.7,369.7 233.2,371.6 233.8,372.3 234.3,371.7 234.9,369.8 235.4,369.5 236.0,378.5 236.1,371.7 236.0,372.4 236.5,372.9 237.1,371.3 237.6,371.3 238.2,372.3 238.7,370.8 239.3,369.7 239.8,378.0 240.0,369.6 239.8,372.7 240.4,372.0 240.9,372.1 241.5,375.4 242.0,370.7 242.6,370.1 243.1,379.1 243.3,371.5 243.1,373.3 243.7,374.0 244.2,375.6 244.8,371.6 245.3,377.5 245.9,376.4 246.4,372.8 247.0,382.8 247.1,369.3 247.0,373.1 247.5,373.4 248.1,369.5 248.6,373.6 249.2,373.2 249.7,372.3 250.3,374.8 250.8,382.0 251.0,375.5 250.8,372.7 251.4,372.6 251.9,374.1 252.5,375.0 253.0,373.2 253.6,370.5 254.1,380.4 254.3,377.1 254.1,375.3 254.7,374.4 255.2,372.5 255.8,372.1 256.3,376.7 256.9,374.7 257.4,381.9 257.6,375.7 257.4,374.3 258.0,373.3 258.5,369.8 259.1,372.5 259.6,375.1 260.2,375.0 260.7,376.0 261.3,375.2 261.8,384.7 262.0,376.7 261.8,375.7 262.4,374.1 262.9,375.2 263.5,373.0 264.0,377.5 264.6,376.0 265.1,376.8 265.7,383.9 265.8,377.0 265.7,376.5 266.2,373.8 266.8,377.0 267.3,376.6 267.9,373.7 268.4,378.8 269.0,375.4 269.5,382.8 269.7,377.4 269.5,378.0 270.1,375.4 270.6,374.3 271.2,376.7 271.7,378.5 272.3,376.5 272.8,376.2 273.4,382.1 273.5,377.2 273.4,376.6 273.9,376.2 274.5,375.1 275.0,378.0 275.6,376.4 276.1,375.8 276.7,377.2 277.2,385.1 277.4,376.7 277.2,376.3 277.8,376.7 278.3,379.6 278.9,377.9 279.4,379.1 280.0,379.1 280.5,386.7 280.7,377.0 280.5,378.9 281.1,377.8 281.6,377.8 282.2,380.0 282.7,382.4 283.3,377.4 283.8,379.8 284.4,387.1 284.5,378.4 284.4,380.8 284.9,374.3 285.5,378.1 286.0,377.6 286.6,379.1 287.1,378.2 287.7,378.4 288.2,380.7 288.8,386.7 288.9,381.8 288.8,379.8 289.3,379.7 289.9,379.2 290.4,377.6 291.0,378.4 291.5,381.3 292.1,385.4 292.2,382.0 292.1,380.3 292.6,379.8 293.2,381.3 293.7,380.6 294.3,379.4 294.8,380.9 295.4,378.7 295.9,389.5 296.1,382.1 295.9,382.8 296.5,378.8 297.0,381.6 297.6,379.3 298.1,382.9 298.7,382.7 299.2,390.3 299.4,379.4 299.2,380.8 299.8,380.4 300.3,381.2 300.9,381.0 301.4,381.9 302.0,380.6 302.5,388.2 302.7,383.1 302.5,379.3 303.1,383.1 303.6,383.9 304.2,381.7 304.7,379.9 305.3,382.6 305.8,384.9 306.4,388.3 306.5,379.2 306.4,380.9 306.9,383.3 307.5,380.3 308.0,383.1 308.6,384.9 309.1,383.1 309.7,381.4 310.2,379.9 310.8,389.7 310.9,381.1 310.8,379.1 311.3,381.3 311.9,381.0 312.4,381.5 313.0,382.8 313.5,381.3 314.1,386.4 314.6,392.8 314.8,382.7 314.6,384.7 315.2,384.2 315.7,386.3 316.3,386.1 316.8,383.1 317.4,384.5 317.9,392.3 318.1,384.4 317.9,382.5 318.5,382.1 319.0,384.6 319.6,382.4 320.1,386.8 320.7,384.6 321.2,382.9 321.8,384.2 322.3,391.5 322.5,384.7 322.3,384.5 322.9,381.7 323.4,385.6 324.0,384.8 324.5,385.4 325.1,386.0 325.6,385.0 326.2,391.4 326.3,384.8 326.2,385.7 326.7,383.6 327.3,386.6 327.8,386.6 328.4,382.4 328.9,383.9 329.5,392.7 329.6,386.4 329.5,387.7 330.0,384.5 330.6,385.7 331.1,382.9 331.7,392.0 332.2,387.4 332.8,388.4 333.3,388.0 333.9,394.7 334.0,387.0 333.9,386.9 334.4,386.8 335.0,389.7 335.5,385.1 336.1,385.6 336.6,388.4 337.2,389.9 337.7,392.2 337.9,385.8 337.7,387.3 338.3,391.5 338.8,389.3 339.4,390.2 339.9,388.1 340.5,386.2 341.0,395.1 341.2,390.2 341.0,387.5 341.6,390.1 342.1,386.8 342.7,389.5 343.2,386.2 343.8,385.7 344.3,389.3 344.9,395.1 345.0,388.8 344.9,388.1 345.4,385.5 346.0,383.9 346.5,384.2 347.1,389.4 347.6,385.7 348.2,391.1 348.7,397.0 348.9,391.9 348.7,389.1 349.3,391.3 349.8,388.2 350.4,391.0 350.9,386.7 351.5,390.4 352.0,388.0 352.6,396.9 352.7,388.8 352.6,389.0 353.1,390.9 353.7,391.1 354.2,386.2 354.8,390.7 355.3,391.1 355.9,387.9 356.4,390.6 357.0,394.8 357.1,391.6 357.0,392.8 357.5,389.3 358.1,389.7 358.6,392.7 359.2,389.7 359.7,391.5 360.3,396.2 360.4,387.8 360.3,389.7 360.8,392.7 361.4,390.9 361.9,392.5 362.5,388.2 363.0,388.6 363.6,389.6 364.1,397.9 364.3,392.1 364.1,392.2 364.7,390.5 365.2,390.9 365.8,394.0 366.3,389.7 366.9,391.6 367.4,394.9 368.0,397.2 368.1,391.5 368.0,392.9 368.5,390.0 369.1,395.9 369.6,386.4 370.2,389.0 370.7,389.3 371.3,399.2 371.4,390.1 371.3,393.1 371.8,392.7 372.4,392.2 372.9,390.4 373.5,388.6 374.0,389.6 374.6,392.7 375.1,400.0 375.3,389.9 375.1,392.2 375.7,392.5 376.2,393.5 376.8,391.0 377.3,390.2 377.9,395.0 378.4,399.7 378.6,393.6 378.4,392.6 379.0,394.3 379.5,395.5 380.1,391.4 380.6,391.6 381.2,392.1 381.7,395.1 382.3,398.6 382.4,390.6 382.3,393.9 382.8,389.8 383.4,394.3 383.9,392.4 384.5,393.1 385.0,394.9 385.6,396.4 386.1,402.2 386.3,389.9 386.1,396.1 386.7,395.2 387.2,393.3 387.8,397.3 388.3,394.6 388.9,397.2 389.4,400.0 389.6,395.9 389.4,390.6 390.0,395.8 390.5,396.5 391.1,393.4 391.6,391.5 392.2,394.2 392.7,400.6 392.9,398.2 392.7,390.5 393.3,393.7 393.8,390.5 394.4,395.2 394.9,397.1 395.5,392.3 396.0,394.3 396.6,398.3 397.1,400.9 397.3,389.7 397.1,394.0 397.7,397.2 398.2,393.8 398.8,398.0 399.3,397.7 399.9,394.2 400.4,394.6 401.0,403.5 401.1,395.5 401.0,396.6 401.5,398.0 402.1,394.0 402.6,390.9 403.2,394.8 403.7,397.3 404.3,402.1 404.4,401.2 404.3,401.2 404.8,396.8 405.4,395.9 405.9,394.1 406.5,394.4 407.0,400.1 407.6,396.2 408.1,405.3 408.3,395.7 408.1,395.5 408.7,398.4 409.2,397.7 409.8,397.7 410.3,395.2 410.9,398.8 411.4,401.1 412.0,403.6 412.1,397.3 412.0,397.9 412.5,396.9 413.1,397.3 413.6,397.7 414.2,394.3 414.7,399.6 415.3,404.4 415.4,398.2 415.3,397.1 415.8,398.5 416.4,400.2 416.9,398.2 417.5,396.2 418.0,401.0 418.6,404.5 418.7,397.4 418.6,398.4 419.1,396.0 419.7,397.3 420.2,399.6 420.8,398.7 421.3,401.1 421.9,402.9 422.0,399.6 421.9,399.4 422.4,398.1 423.0,397.8 423.5,400.5 424.1,399.2 424.6,398.3 425.2,403.0 425.3,401.2 425.2,395.8 425.7,400.4 426.3,400.0 426.8,399.6 427.4,398.6 427.9,397.7 428.5,399.2 429.0,403.9 429.2,400.3 429.0,398.7 429.6,400.7 430.1,400.5 430.7,398.3 431.2,401.9 431.8,402.0 432.3,405.4 432.5,395.6 432.3,398.2 432.9,399.5 433.4,399.6 434.0,402.5 434.5,400.6 435.1,398.4 435.6,397.5 436.2,406.4 436.3,397.6 436.2,404.1 436.7,403.2 437.3,398.4 437.8,401.1 438.4,404.8 438.9,402.5 439.5,405.6 439.6,400.2 439.5,401.3 440.0,404.9 440.6,405.8 441.1,397.6 441.7,403.2 442.2,406.1 442.8,400.5 443.3,406.9 443.5,402.4 443.3,402.8 443.9,401.7 444.4,397.5 445.0,402.8 445.5,401.7 446.1,404.3 446.6,407.1 447.2,409.0 447.3,403.9 447.2,402.8 447.7,404.8 448.3,399.2 448.8,399.9 449.4,397.9 449.9,404.1 450.5,402.8 451.0,408.6 451.2,401.4 451.0,401.2 451.6,401.6 452.1,400.9 452.7,402.4 453.2,402.1 453.8,407.3 453.9,406.5 453.8,401.9 454.3,406.1 454.9,404.5 455.4,404.2 456.0,405.2 456.5,407.3 457.1,400.9 457.6,407.6 457.8,402.1 457.6,399.8 458.2,405.0 458.7,403.1 459.3,402.5 459.8,402.4 460.4,405.8 460.9,403.9 461.5,403.1 462.0,409.2 462.2,405.6 462.0,408.6 462.6,403.6 463.1,403.3 463.7,403.0 464.2,404.4 464.8,406.6 465.3,409.5 465.5,406.6 465.3,401.5 465.9,405.6 466.4,408.5 467.0,407.6 467.5,404.8 468.1,407.1 468.6,404.5 469.2,405.3 469.7,410.6 469.9,405.3 469.7,405.3 470.3,407.3 470.8,410.0 471.4,408.8 471.9,405.1 472.5,404.2 473.0,404.5 473.6,411.5 473.7,406.8 473.6,404.5 474.1,406.6 474.7,406.5 475.2,406.0 475.8,404.6 476.3,410.4 476.9,408.9 477.4,404.5 478.0,410.5 478.1,404.6 478.0,405.3 478.5,406.8 479.1,409.7 479.6,409.2 480.2,409.4 480.7,409.5 481.3,409.6 481.8,412.1 482.0,408.9 481.8,403.2 482.4,407.0 482.9,411.5 483.5,406.2 484.0,406.0 484.6,409.9 485.1,407.8 485.7,406.6 486.2,413.5 486.4,405.7 486.2,409.8 486.8,409.0 487.3,408.8 487.9,409.8 488.4,410.7 489.0,410.8 489.5,408.6 490.1,412.7 490.2,410.9 490.1,409.8 490.6,407.5 491.2,406.7 491.7,408.4 492.3,405.8 492.8,409.5 493.4,409.5 493.9,406.7 494.5,413.3 494.6,409.1 494.5,411.4 495.0,411.5 495.6,411.4 496.1,408.8 496.7,408.5 497.2,408.4 497.8,415.2 497.9,407.0 497.8,409.6 498.3,412.7 498.9,413.2 499.4,412.7 500.0,406.0 500.5,409.2 501.1,408.7 501.6,415.8 501.8,411.7 501.6,416.8 502.2,411.6 502.7,408.7 503.3,408.4 503.8,408.4 504.4,412.8 504.9,415.9 505.1,407.9 504.9,412.5 505.5,414.8 506.0,408.7 506.6,408.3 507.1,411.9 507.7,407.9 508.2,408.8 508.8,415.1 508.9,410.6 508.8,409.9 509.3,412.6 509.9,414.9 510.4,405.7 511.0,414.9 511.5,413.8 512.1,408.4 512.6,418.2 512.8,407.4 512.6,412.6 513.2,410.4 513.7,412.0 514.3,414.1 514.8,410.7 515.4,412.3 515.9,413.3 516.5,414.5 517.0,417.8 517.2,408.8 517.0,412.9 517.6,418.8 518.1,414.0 518.7,413.5 519.2,409.3 519.8,414.6 520.3,410.4 520.9,416.3 521.0,411.8 520.9,411.6 521.4,411.3 522.0,413.0 522.5,408.7 523.1,410.4 523.6,412.8 524.2,409.6 524.7,418.0 524.9,415.1 524.7,409.1 525.3,410.5 525.8,415.5 526.4,416.0 526.9,410.1 527.5,413.7 528.0,418.7 528.2,412.3 528.0,413.0 528.6,415.7 529.1,416.6 529.7,410.8 530.2,412.8 530.8,415.5 531.3,418.1 531.5,413.9 531.3,415.6 531.9,417.7 532.4,413.8 533.0,418.6 533.5,413.2 534.1,412.2 534.6,414.7 535.2,420.1 535.3,414.9 535.2,417.9 535.7,410.2 536.3,412.0 536.8,411.6 537.4,409.8 537.9,411.5 538.5,420.3 538.6,412.3 538.5,414.2 539.0,411.0 539.6,414.7 540.1,418.0 540.7,418.0 541.2,415.8 541.8,422.0 541.9,417.9 541.8,419.7 542.3,414.7 542.9,414.9 543.4,419.9 544.0,420.2 544.5,420.2 545.1,409.5 545.6,420.0 545.8,415.7 545.6,412.1 546.2,418.3 546.7,416.6 547.3,416.7 547.8,416.3 548.4,420.5 548.9,416.2 549.5,423.1 549.6,418.0 549.5,417.9 550.0,417.6 550.6,414.3 551.1,419.6 551.7,419.7 552.2,417.4 552.8,420.0 553.3,421.7 553.5,415.5 553.3,420.8 553.9,417.8 554.4,417.1 555.0,416.0 555.5,419.6 556.1,416.4 556.6,417.7 557.2,425.9 557.3,420.8 557.2,422.6 557.7,417.8 558.3,420.1 558.8,416.1 559.4,421.0 559.9,423.0 560.5,423.3 561.0,425.1 561.2,419.9 561.0,417.5 561.6,422.9 562.1,417.6 562.7,424.3 563.2,423.5 563.8,422.1 564.3,418.7 564.9,426.6 565.0,420.7 564.9,421.9 565.4,420.6 566.0,421.9 566.5,425.4 567.1,416.0 567.6,417.9 568.2,417.5 568.7,420.1 569.3,426.9 569.4,417.3 569.3,421.4 569.8,420.4 570.4,422.9 570.9,423.1 571.5,423.6 572.0,420.8 572.6,424.8 573.1,419.0 573.7,427.7 573.8,419.1 573.7,423.4 574.2,425.6 574.8,419.4 575.3,428.8 575.9,419.5 576.4,429.6 577.0,430.0 577.1,425.4 577.0,430.2 577.5,426.7 578.1,418.1 578.6,427.9 579.2,425.3 579.7,420.3 580.3,427.1 580.8,430.7 581.0,421.7 580.8,423.3 581.4,427.0 581.9,422.5 582.5,426.0 583.0,424.1 583.6,425.3 584.1,431.3 584.7,430.4 584.8,426.4 584.7,423.9 585.2,426.3 585.8,426.8 586.3,426.7 586.9,426.8 587.4,425.2 588.0,432.4 588.1,424.1 588.0,428.0 588.5,425.3 589.1,427.0 589.6,427.5 590.2,431.0 590.7,430.6 591.3,431.4 591.4,425.7 591.3,425.0 591.8,427.9 592.4,429.8 592.9,430.8 593.5,427.4 594.0,424.6 594.6,429.7 595.1,433.7 595.3,428.2 595.1,430.7 595.7,430.7 596.2,431.3 596.8,427.8 597.3,432.0 597.9,428.0 598.4,429.8 599.0,433.2 599.1,434.9 599.0,433.9 599.5,432.6 600.1,433.1 600.6,430.6 601.2,431.2 601.7,429.7 602.3,428.6 602.8,434.1 603.0,434.9 602.8,429.4 603.4,436.0 603.9,433.4 604.5,430.0 605.0,431.1 605.6,432.8 606.1,435.4 606.2,427.2 606.1,436.2 606.6,429.7 607.2,430.7 607.7,434.1 608.3,437.0 608.8,432.6 609.4,433.9 609.9,430.2 610.5,436.5 610.6,434.0 610.5,431.2 611.0,435.0 611.6,428.0 612.1,432.0 612.7,434.8 613.2,428.6 613.8,432.3 614.3,437.4 614.5,433.7 614.3,436.7 614.9,434.6 615.4,437.2 616.0,437.3 616.5,435.0 617.1,435.5 617.6,429.3 618.2,440.2 618.3,430.5 618.2,431.5 618.7,433.4 619.3,437.0 619.8,429.5 620.4,433.7 620.9,430.9 621.5,439.5 621.6,438.6 621.5,433.0 622.0,438.1 622.6,432.3 623.1,429.7 623.7,440.8 624.2,433.9 624.8,431.9 625.3,440.0 625.5,434.7 625.3,436.3 625.9,435.7 626.4,435.6 627.0,437.6 627.5,434.5 628.1,434.6 628.6,441.2 628.8,437.3 628.6,435.0 629.2,435.5 629.7,432.6 630.3,440.1 630.8,432.0 631.4,436.6 631.9,433.6 632.5,440.1 632.6,437.1 632.5,435.6 633.0,431.3 633.6,440.2 634.1,435.1 634.7,432.0 635.2,434.6 635.8,440.3 636.3,440.7 636.5,440.8 636.3,436.2 636.9,441.3 637.4,434.8 638.0,435.9 638.5,434.3 639.1,433.8 639.6,440.5 640.2,442.7 640.3,438.9 640.2,440.0 640.7,441.5 641.3,437.3 641.8,436.4 642.4,434.6 642.9,440.6 643.5,436.2 644.0,442.3 644.2,433.5 644.0,440.0 644.6,440.6 645.1,435.8 645.7,435.6 646.2,437.0 646.8,434.6 647.3,444.0 647.5,440.0 647.3,437.6 647.9,438.3 648.4,433.7 649.0,435.0 649.5,442.0 650.1,435.6 650.6,442.4 650.8,440.6 650.6,435.7 651.2,439.2 651.7,436.2 652.3,438.3 652.8,439.1 653.4,436.9 653.9,438.3 654.5,438.2 655.0,442.3 655.2,438.8 655.0,436.4 655.6,437.4 656.1,434.2 656.7,438.4 657.2,438.6 657.8,437.8 658.3,444.8 658.5,433.8 658.3,441.4 658.9,440.5 659.4,436.2 660.0,440.1 660.5,437.2 661.1,446.0 661.6,438.5 662.2,445.1 662.3,441.9 662.2,435.7 662.7,436.8 663.3,438.7 663.8,442.2 664.4,441.9 664.9,441.2 665.5,445.2 665.6,444.5 665.5,437.6 666.0,445.8 666.6,442.9 667.1,443.5 667.7,437.2 668.2,448.1 668.8,444.8 668.9,441.5 668.8,440.7 669.3,437.7 669.9,440.4 670.4,441.2 671.0,441.9 671.5,445.2 672.1,442.7 672.6,446.5 672.8,442.1 672.6,439.8 673.2,444.8 673.7,436.1 674.3,439.2 674.8,442.9 675.4,441.3 675.9,450.3 676.5,446.1 676.6,449.1 676.5,441.5 677.0,446.9 677.6,445.2 678.1,443.1 678.7,438.3 679.2,439.9 679.8,446.8 679.9,445.9 679.8,441.9 680.3,443.6 680.9,444.7 681.4,438.9 682.0,443.0 682.5,447.3 683.1,443.3 683.6,442.0 684.2,447.7 684.3,444.7 684.2,441.4 684.7,441.8 685.3,443.3 685.8,441.6 686.4,447.0 686.9,445.8 687.5,446.4 688.0,449.1 688.6,448.3 688.7,441.3 688.6,444.1 689.1,444.6 689.7,443.1 690.2,450.2 690.8,441.9 691.3,442.1 691.9,449.7 692.0,441.5 691.9,446.8 692.4,443.4 693.0,439.2 693.5,445.1 694.1,447.0 694.6,444.4 695.2,444.0 695.7,448.9 695.9,446.0 695.7,440.5 696.3,442.9 696.8,444.1 697.4,439.6 697.9,446.9 698.5,442.7 699.0,446.3 699.6,450.2 699.7,445.5 699.6,443.4 700.1,443.2 700.7,446.0 701.2,447.6 701.8,445.4 702.3,442.7 702.9,447.5 703.4,451.2 703.6,447.4 703.4,451.5 704.0,445.2 704.5,446.5 705.1,444.4 705.6,441.9 706.2,446.4 706.7,448.7 707.3,450.1 707.4,443.6 707.3,450.2 707.8,444.8 708.4,448.3 708.9,444.3 709.5,447.1 710.0,445.2 710.6,440.5 711.1,451.2 711.3,447.4 711.1,446.7 711.7,446.1 712.2,444.4 712.8,446.8 713.3,442.2 713.9,448.4 714.4,451.2 715.0,453.4 715.1,444.4 715.0,448.3 715.5,446.6 716.1,445.6 716.6,448.8 717.2,448.0 717.7,450.3 718.3,453.5 718.4,445.3 718.3,445.1 718.8,447.6 719.4,450.6 719.9,446.9 720.5,445.4 721.0,447.6 721.6,453.1 721.7,446.6 721.6,448.2 722.1,451.2 722.7,452.5 723.2,450.1 723.8,448.2 724.3,448.5 724.9,451.6 725.4,453.2 726.0,456.0 726.1,449.5 726.0,449.6 726.5,449.3 727.1,450.0 727.6,448.3 728.2,451.1 728.7,453.3 729.3,454.0 729.4,442.6 729.3,444.2 729.8,451.8 730.4,450.7 730.9,452.1 731.5,447.4 732.0,457.3 732.6,451.7 733.1,456.3 733.3,450.6 733.1,453.9 733.7,454.9 734.2,445.9 734.8,456.5 735.3,451.0 735.9,452.9 736.4,454.8 737.0,457.9 737.1,450.3 737.0,452.2 737.5,453.8 738.1,448.0 738.6,449.3 739.2,449.5 739.7,453.9 740.3,463.4 740.8,456.9 741.0,453.8 740.8,455.8 741.4,455.1 741.9,450.0 742.5,456.2 743.0,453.4 743.6,455.9 744.1,458.0 744.3,448.8 744.1,451.7 744.7,454.9 745.2,454.8 745.8,454.4 746.3,455.1 746.9,455.0 747.4,455.6 748.0,458.9 748.1,454.5 748.0,453.3 748.5,456.3 749.1,455.8 749.6,452.7 750.2,455.5 750.7,454.3 751.3,458.3 751.4,457.7 751.3,452.5 751.8,448.6 752.4,453.7 752.9,457.4 753.5,462.4 754.0,458.5 754.6,460.0 754.7,455.2 754.6,453.0 755.1,453.3 755.7,451.4 756.2,457.3 756.8,456.7 757.3,455.8 757.9,459.8 758.0,457.4 757.9,462.1 758.4,456.8 759.0,455.5 759.5,459.1 760.1,452.2 760.6,459.0 761.2,454.8 761.7,454.7 762.3,462.2 762.4,461.3" fill="none" stroke="#eeadb3" stroke-width="1.2" stroke-linejoin="round"/>
<rect x="96" y="343" width="6" height="93.6" fill="#000"/>
<rect x="93" y="343" width="6" height="4.5" fill="#000"/>
<rect x="93" y="430.3" width="6" height="4.6" fill="#000"/>
<rect x="96" y="437.6" width="6" height="2.2" fill="#000"/>
<rect x="96" y="442.1" width="6" height="2.2" fill="#000"/>
<rect x="96" y="446.6" width="6" height="2.2" fill="#000"/>
<rect x="96" y="451.1" width="6" height="2.2" fill="#000"/>
<rect x="96" y="455.6" width="6" height="2.2" fill="#000"/>
<rect x="96" y="460.1" width="6" height="2.2" fill="#000"/>
<rect x="96" y="464.6" width="6" height="2.2" fill="#000"/>
<rect x="96" y="469.1" width="6" height="2.2" fill="#000"/>
<rect x="96" y="473.3" width="667.5" height="6" fill="#000"/>
<rect x="319.0" y="470.3" width="6" height="4" fill="#000"/>
<rect x="537.5" y="470.3" width="6" height="4" fill="#000"/>
<rect x="757.5" y="469.3" width="6" height="5" fill="#000"/>
<text x="322" y="502.90000000000003" font-size="20" text-anchor="middle" fill="#000" >3</text>
<text x="540.5" y="502.90000000000003" font-size="20" text-anchor="middle" fill="#000" >6</text>
<text x="736.5" y="502.90000000000003" font-size="20" text-anchor="start" fill="#000" >9 min</text>
<text x="107.3" y="333" font-size="19.8">Voltron<tspan font-size="13.8" dy="5.5">525</tspan><tspan dy="-5.5"> - WT (175M)</tspan></text>
<text x="621.5" y="428" font-size="19.5" text-anchor="start" fill="#000" >433 s</text>
<rect x="727.6" y="342.8" width="6.2" height="18" fill="#000"/>
<text x="0" y="0" font-size="19.9" transform="translate(755.7 445.8) rotate(-90)">-10% ΔF/F<tspan font-size="12.7" dy="4">0</tspan></text>
<text x="3.2" y="519.6" font-size="24" text-anchor="start" fill="#000" >E</text>
<text x="0" y="0" font-size="19.8" text-anchor="middle" transform="translate(30 608.7) rotate(-90)">Normalized Intensity</text>
<text x="0" y="0" font-size="19.8" text-anchor="middle" transform="translate(56 610) rotate(-90)">(a.u.)</text>
<text x="84" y="554.6" font-size="19.6" text-anchor="end" fill="#000" >1.0</text>
<text x="84" y="674" font-size="19.6" text-anchor="end" fill="#000" >0.5</text>
<text x="84" y="698" font-size="19.6" text-anchor="end" fill="#000" >0.0</text>
<g fill="#8a8a8a"><rect x="103.0" y="665.9" width="5" height="5"/><rect x="114.3" y="665.9" width="5" height="5"/><rect x="125.7" y="665.9" width="5" height="5"/><rect x="137.0" y="665.9" width="5" height="5"/><rect x="148.4" y="665.9" width="5" height="5"/><rect x="159.7" y="665.9" width="5" height="5"/><rect x="171.1" y="665.9" width="5" height="5"/><rect x="182.4" y="665.9" width="5" height="5"/><rect x="193.8" y="665.9" width="5" height="5"/><rect x="205.1" y="665.9" width="5" height="5"/><rect x="216.5" y="665.9" width="5" height="5"/><rect x="227.8" y="665.9" width="5" height="5"/><rect x="239.2" y="665.9" width="5" height="5"/><rect x="250.5" y="665.9" width="5" height="5"/><rect x="261.9" y="665.9" width="5" height="5"/><rect x="273.2" y="665.9" width="5" height="5"/><rect x="284.6" y="665.9" width="5" height="5"/><rect x="295.9" y="665.9" width="5" height="5"/><rect x="307.3" y="665.9" width="5" height="5"/><rect x="318.7" y="665.9" width="5" height="5"/><rect x="330.0" y="665.9" width="5" height="5"/><rect x="341.4" y="665.9" width="5" height="5"/><rect x="352.7" y="665.9" width="5" height="5"/><rect x="364.1" y="665.9" width="5" height="5"/><rect x="375.4" y="665.9" width="5" height="5"/><rect x="386.8" y="665.9" width="5" height="5"/><rect x="398.1" y="665.9" width="5" height="5"/><rect x="409.5" y="665.9" width="5" height="5"/><rect x="420.8" y="665.9" width="5" height="5"/><rect x="432.2" y="665.9" width="5" height="5"/><rect x="443.5" y="665.9" width="5" height="5"/><rect x="454.9" y="665.9" width="5" height="5"/><rect x="466.2" y="665.9" width="5" height="5"/><rect x="477.6" y="665.9" width="5" height="5"/><rect x="488.9" y="665.9" width="5" height="5"/><rect x="500.3" y="665.9" width="5" height="5"/><rect x="511.6" y="665.9" width="5" height="5"/><rect x="523.0" y="665.9" width="5" height="5"/><rect x="534.3" y="665.9" width="5" height="5"/><rect x="545.7" y="665.9" width="5" height="5"/><rect x="557.0" y="665.9" width="5" height="5"/><rect x="568.4" y="665.9" width="5" height="5"/><rect x="579.7" y="665.9" width="5" height="5"/><rect x="591.1" y="665.9" width="5" height="5"/><rect x="602.4" y="665.9" width="5" height="5"/><rect x="613.8" y="665.9" width="5" height="5"/><rect x="625.1" y="665.9" width="5" height="5"/><rect x="636.5" y="665.9" width="5" height="5"/><rect x="647.8" y="665.9" width="5" height="5"/><rect x="659.2" y="665.9" width="5" height="5"/><rect x="670.5" y="665.9" width="5" height="5"/><rect x="681.9" y="665.9" width="5" height="5"/><rect x="693.2" y="665.9" width="5" height="5"/><rect x="704.6" y="665.9" width="5" height="5"/><rect x="715.9" y="665.9" width="5" height="5"/><rect x="727.3" y="665.9" width="5" height="5"/><rect x="738.6" y="665.9" width="5" height="5"/><rect x="750.0" y="665.9" width="5" height="5"/><rect x="761.3" y="665.9" width="5" height="5"/><rect x="772.7" y="665.9" width="5" height="5"/><rect x="784.0" y="665.9" width="5" height="5"/><rect x="795.4" y="665.9" width="5" height="5"/><rect x="806.7" y="665.9" width="5" height="5"/><rect x="818.1" y="665.9" width="5" height="5"/><rect x="829.4" y="665.9" width="5" height="5"/><rect x="840.8" y="665.9" width="5" height="5"/><rect x="852.1" y="665.9" width="5" height="5"/><rect x="863.5" y="665.9" width="5" height="5"/><rect x="874.8" y="665.9" width="5" height="5"/><rect x="886.2" y="665.9" width="5" height="5"/><rect x="897.5" y="665.9" width="5" height="5"/><rect x="908.9" y="665.9" width="5" height="5"/><rect x="920.2" y="665.9" width="5" height="5"/><rect x="931.6" y="665.9" width="5" height="5"/><rect x="942.9" y="665.9" width="5" height="5"/><rect x="954.3" y="665.9" width="5" height="5"/><rect x="965.6" y="665.9" width="5" height="5"/><rect x="977.0" y="665.9" width="5" height="5"/><rect x="988.3" y="665.9" width="5" height="5"/><rect x="999.7" y="665.9" width="5" height="5"/><rect x="1011.0" y="665.9" width="5" height="5"/><rect x="1022.4" y="665.9" width="5" height="5"/><rect x="1033.7" y="665.9" width="5" height="5"/><rect x="1045.1" y="665.9" width="5" height="5"/><rect x="1056.4" y="665.9" width="5" height="5"/><rect x="1067.8" y="665.9" width="5" height="5"/><rect x="1079.1" y="665.9" width="5" height="5"/><rect x="1090.5" y="665.9" width="5" height="5"/><rect x="1101.8" y="665.9" width="5" height="5"/><rect x="1113.2" y="665.9" width="5" height="5"/><rect x="1124.5" y="665.9" width="5" height="5"/><rect x="1135.9" y="665.9" width="5" height="5"/><rect x="1147.2" y="665.9" width="5" height="5"/><rect x="1158.6" y="665.9" width="5" height="5"/><rect x="1169.9" y="665.9" width="5" height="5"/><rect x="1181.3" y="665.9" width="5" height="5"/></g>
<polyline points="105.0,562.3 105.5,555.2 106.1,550.6 106.6,557.4 106.8,544.9 106.6,547.6 107.2,549.8 107.7,551.0 108.3,550.2 108.8,551.5 109.4,553.2 109.9,555.8 110.5,556.2 111.0,554.3 111.6,555.0 112.1,567.0 112.3,557.3 112.1,556.4 112.7,557.4 113.2,557.1 113.8,559.9 114.3,558.6 114.9,560.4 115.4,562.0 116.0,561.3 116.5,560.6 117.1,561.5 117.6,570.1 117.8,559.7 117.6,560.3 118.2,559.9 118.7,560.3 119.3,560.1 119.8,560.7 120.4,560.7 120.9,561.0 121.5,562.5 122.0,558.7 122.6,562.4 123.1,571.2 123.3,562.8 123.1,560.1 123.7,562.1 124.2,559.4 124.8,561.0 125.3,560.9 125.9,558.6 126.4,559.3 127.0,561.6 127.5,575.7 127.7,561.7 127.5,561.3 128.1,561.0 128.6,562.4 129.2,559.8 129.7,560.7 130.3,561.4 130.8,558.9 131.4,562.7 131.9,559.9 132.5,560.9 133.0,563.8 133.6,576.7 133.8,559.9 133.6,559.6 134.2,560.5 134.7,561.7 135.3,561.7 135.8,561.8 136.4,561.6 136.9,562.9 137.5,562.4 138.0,561.9 138.6,573.2 138.7,560.3 138.6,562.0 139.1,558.8 139.7,562.3 140.2,563.6 140.8,559.8 141.3,560.3 141.9,560.6 142.4,562.3 143.0,560.2 143.5,561.1 144.1,573.0 144.2,561.0 144.1,560.5 144.6,561.4 145.2,561.7 145.7,562.5 146.3,559.7 146.8,562.8 147.4,562.0 147.9,562.6 148.5,561.5 149.0,559.3 149.6,575.1 149.7,560.6 149.6,561.4 150.1,563.8 150.7,564.4 151.2,561.5 151.8,564.1 152.3,559.0 152.9,558.9 153.4,562.7 154.0,561.3 154.5,562.4 155.1,562.3 155.6,561.5 156.2,576.0 156.3,561.8 156.2,562.6 156.7,561.9 157.3,564.1 157.8,560.2 158.4,561.8 158.9,561.2 159.5,561.6 160.0,563.9 160.6,562.3 161.1,576.6 161.3,561.5 161.1,562.0 161.7,561.5 162.2,563.8 162.8,563.0 163.3,561.8 163.9,561.3 164.4,561.7 165.0,559.9 165.5,563.2 166.1,562.4 166.6,574.2 166.8,562.2 166.6,562.6 167.2,562.3 167.7,561.4 168.3,562.7 168.8,563.3 169.4,561.2 169.9,561.4 170.5,561.0 171.0,560.6 171.6,577.9 171.7,563.2 171.6,560.6 172.1,560.8 172.7,562.1 173.2,561.6 173.8,562.3 174.3,561.3 174.9,563.1 175.4,564.6 176.0,564.3 176.5,564.4 177.1,562.4 177.6,579.0 177.8,563.5 177.6,561.8 178.2,561.7 178.7,561.5 179.3,563.2 179.8,562.7 180.4,562.6 180.9,560.9 181.5,562.6 182.0,560.5 182.6,564.4 183.1,579.6 183.3,561.5 183.1,561.5 183.7,560.7 184.2,562.4 184.8,564.4 185.3,561.1 185.9,561.6 186.4,562.5 187.0,560.4 187.5,560.4 188.1,562.1 188.6,574.1 188.8,562.6 188.6,562.1 189.2,564.6 189.7,562.4 190.3,563.1 190.8,564.8 191.4,564.9 191.9,560.6 192.5,562.2 193.0,564.2 193.6,561.0 194.1,561.6 194.7,575.0 194.8,561.1 194.7,563.0 195.2,564.5 195.8,564.8 196.3,562.8 196.9,560.3 197.4,562.8 198.0,562.4 198.5,563.4 199.1,562.7 199.6,579.7 199.8,560.6 199.6,563.5 200.2,560.3 200.7,562.1 201.3,563.4 201.8,563.4 202.4,565.1 202.9,560.0 203.5,563.5 204.0,564.0 204.6,581.1 204.7,562.7 204.6,564.0 205.1,561.8 205.7,564.1 206.2,564.0 206.8,562.0 207.3,562.5 207.9,563.1 208.4,562.6 209.0,564.8 209.5,572.8 209.7,563.7 209.5,565.2 210.1,565.0 210.6,563.6 211.2,563.3 211.7,562.4 212.3,562.6 212.8,562.6 213.4,564.2 213.9,577.6 214.1,565.2 213.9,564.6 214.5,565.9 215.0,562.8 215.6,563.6 216.1,563.4 216.7,563.6 217.2,566.0 217.8,564.9 218.3,565.7 218.9,566.4 219.4,578.5 219.6,563.5 219.4,565.4 220.0,564.0 220.5,565.0 221.1,565.7 221.6,565.8 222.2,564.9 222.7,563.3 223.3,562.3 223.8,579.1 224.0,563.7 223.8,565.6 224.4,563.8 224.9,562.3 225.5,564.8 226.0,563.5 226.6,564.2 227.1,565.6 227.7,564.5 228.2,565.4 228.8,578.5 228.9,566.8 228.8,564.7 229.3,563.5 229.9,565.7 230.4,565.0 231.0,563.9 231.5,561.4 232.1,567.0 232.6,563.4 233.2,563.7 233.7,565.2 234.3,575.6 234.4,565.1 234.3,563.1 234.8,566.2 235.4,563.9 235.9,565.4 236.5,565.9 237.0,566.8 237.6,565.0 238.1,564.9 238.7,565.0 239.2,563.0 239.8,564.4 240.3,579.4 240.5,564.1 240.3,565.0 240.9,567.5 241.4,567.4 242.0,563.1 242.5,565.7 243.1,564.3 243.6,566.4 244.2,565.9 244.7,580.3 244.9,566.2 244.7,566.7 245.3,566.7 245.8,565.4 246.4,562.5 246.9,564.3 247.5,564.8 248.0,565.3 248.6,564.6 249.1,568.1 249.7,583.0 249.8,568.2 249.7,565.6 250.2,564.5 250.8,566.9 251.3,564.4 251.9,566.7 252.4,568.3 253.0,564.1 253.5,565.1 254.1,566.6 254.6,566.1 255.2,580.0 255.3,564.6 255.2,568.0 255.7,566.8 256.3,564.9 256.8,565.8 257.4,568.3 257.9,564.7 258.5,566.0 259.0,567.4 259.6,568.0 260.1,567.8 260.7,581.9 260.8,566.8 260.7,567.3 261.2,566.5 261.8,566.8 262.3,566.8 262.9,566.6 263.4,565.6 264.0,566.5 264.5,568.7 265.1,565.2 265.6,563.9 266.2,583.0 266.3,567.8 266.2,567.5 266.7,568.0 267.3,569.4 267.8,566.2 268.4,567.4 268.9,567.9 269.5,568.9 270.0,568.6 270.6,566.2 271.1,578.6 271.3,565.6 271.1,568.8 271.7,566.9 272.2,567.0 272.8,566.3 273.3,569.5 273.9,567.9 274.4,567.0 275.0,568.4 275.5,567.5 276.1,577.9 276.2,568.5 276.1,569.4 276.6,567.4 277.2,568.4 277.7,568.4 278.3,569.3 278.8,568.6 279.4,567.9 279.9,567.1 280.5,568.4 281.0,578.0 281.2,566.6 281.0,568.9 281.6,568.1 282.1,568.8 282.7,567.4 283.2,567.1 283.8,567.0 284.3,569.7 284.9,568.0 285.4,568.0 286.0,581.6 286.1,566.0 286.0,570.1 286.5,568.0 287.1,568.4 287.6,566.6 288.2,567.0 288.7,569.3 289.3,568.3 289.8,569.1 290.4,570.2 290.9,569.5 291.5,578.6 291.6,568.3 291.5,567.0 292.0,567.2 292.6,567.6 293.1,566.1 293.7,566.1 294.2,567.9 294.8,568.1 295.3,569.6 295.9,568.5 296.4,586.0 296.6,568.5 296.4,567.5 297.0,567.2 297.5,569.4 298.1,568.7 298.6,567.8 299.2,570.2 299.7,570.6 300.3,570.9 300.8,568.7 301.4,569.3 301.9,586.3 302.1,569.6 301.9,568.7 302.5,569.8 303.0,566.5 303.6,570.4 304.1,571.6 304.7,569.5 305.2,570.9 305.8,567.4 306.3,569.2 306.9,567.6 307.4,586.7 307.6,568.7 307.4,571.4 308.0,568.9 308.5,572.9 309.1,569.7 309.6,570.0 310.2,570.3 310.7,570.3 311.3,569.6 311.8,568.2 312.4,585.4 312.5,568.8 312.4,569.7 312.9,568.3 313.5,570.0 314.0,570.1 314.6,569.3 315.1,571.3 315.7,569.4 316.2,570.0 316.8,571.4 317.3,570.6 317.9,571.8 318.4,587.3 318.6,569.3 318.4,569.6 319.0,571.0 319.5,570.7 320.1,572.0 320.6,571.0 321.2,570.5 321.7,571.2 322.3,571.6 322.8,569.7 323.4,571.3 323.9,571.4 324.5,584.6 324.6,570.7 324.5,570.8 325.0,572.5 325.6,574.4 326.1,573.0 326.7,575.2 327.2,571.5 327.8,574.5 328.3,575.0 328.9,575.0 329.4,573.6 330.0,589.8 330.1,576.8 330.0,576.3 330.5,577.6 331.1,576.4 331.6,575.6 332.2,576.8 332.7,577.2 333.3,578.8 333.8,577.7 334.4,578.7 334.9,578.9 335.5,595.7 335.6,578.0 335.5,577.9 336.0,580.2 336.6,575.9 337.1,578.0 337.7,579.5 338.2,579.5 338.8,578.0 339.3,578.4 339.9,589.8 340.0,578.7 339.9,579.0 340.4,578.2 341.0,578.2 341.5,577.6 342.1,578.6 342.6,581.0 343.2,578.0 343.7,580.6 344.3,581.9 344.8,589.3 345.0,579.8 344.8,581.7 345.4,579.5 345.9,578.1 346.5,580.2 347.0,582.2 347.6,579.1 348.1,580.5 348.7,578.7 349.2,578.9 349.8,580.7 350.3,593.0 350.5,578.0 350.3,578.7 350.9,579.4 351.4,580.4 352.0,583.4 352.5,580.1 353.1,579.9 353.6,581.2 354.2,583.4 354.7,580.0 355.3,580.4 355.8,593.2 356.0,581.0 355.8,581.9 356.4,583.8 356.9,579.4 357.5,579.0 358.0,581.4 358.6,582.0 359.1,578.4 359.7,580.6 360.2,582.7 360.8,592.6 360.9,580.9 360.8,582.4 361.3,582.2 361.9,582.0 362.4,583.4 363.0,581.1 363.5,582.1 364.1,583.4 364.6,581.3 365.2,581.6 365.7,581.2 366.3,581.0 366.8,589.3 367.0,585.0 366.8,582.9 367.4,584.8 367.9,583.4 368.5,582.6 369.0,582.2 369.6,583.0 370.1,582.7 370.7,584.0 371.2,581.7 371.8,592.1 371.9,583.2 371.8,582.6 372.3,583.7 372.9,583.8 373.4,583.0 374.0,583.2 374.5,582.6 375.1,584.1 375.6,583.3 376.2,581.4 376.7,583.1 377.3,584.4 377.8,595.2 378.0,584.0 377.8,584.5 378.4,584.5 378.9,585.8 379.5,583.4 380.0,584.7 380.6,583.7 381.1,585.3 381.7,585.6 382.2,584.8 382.8,591.2 382.9,585.2 382.8,583.2 383.3,585.1 383.9,582.8 384.4,587.3 385.0,586.0 385.5,582.6 386.1,581.2 386.6,586.4 387.2,583.7 387.7,585.5 388.3,583.2 388.8,596.8 389.0,585.1 388.8,584.5 389.4,586.9 389.9,584.1 390.5,586.8 391.0,585.2 391.6,586.0 392.1,583.3 392.7,583.1 393.2,586.8 393.8,593.3 393.9,584.0 393.8,584.4 394.3,585.9 394.9,583.8 395.4,584.2 396.0,587.0 396.5,584.8 397.1,586.9 397.6,586.9 398.2,588.1 398.7,595.6 398.9,586.7 398.7,585.6 399.3,587.8 399.8,586.7 400.4,585.7 400.9,587.0 401.5,586.0 402.0,587.3 402.6,586.8 403.1,588.1 403.7,596.6 403.8,587.2 403.7,587.7 404.2,586.6 404.8,587.7 405.3,587.3 405.9,586.9 406.4,586.6 407.0,586.8 407.5,587.9 408.1,584.3 408.6,589.0 409.2,584.4 409.7,600.0 409.9,587.3 409.7,587.8 410.3,587.5 410.8,587.8 411.4,588.9 411.9,590.8 412.5,588.3 413.0,585.2 413.6,587.4 414.1,588.6 414.7,596.8 414.8,592.4 414.7,588.8 415.2,588.6 415.8,586.5 416.3,589.6 416.9,586.7 417.4,588.1 418.0,590.3 418.5,586.9 419.1,588.2 419.6,596.2 419.8,590.9 419.6,588.0 420.2,589.9 420.7,586.8 421.3,588.1 421.8,587.1 422.4,587.6 422.9,590.8 423.5,589.1 424.0,588.7 424.6,589.9 425.1,597.6 425.3,591.1 425.1,588.0 425.7,588.4 426.2,590.5 426.8,591.5 427.3,590.3 427.9,590.4 428.4,588.2 429.0,589.7 429.5,587.5 430.1,591.5 430.6,599.1 430.8,589.9 430.6,591.2 431.2,588.1 431.7,589.7 432.3,591.0 432.8,590.8 433.4,590.4 433.9,588.4 434.5,592.3 435.0,591.5 435.6,592.2 436.1,592.3 436.7,601.3 436.8,590.4 436.7,589.8 437.2,591.4 437.8,590.2 438.3,593.3 438.9,591.3 439.4,589.8 440.0,590.5 440.5,589.5 441.1,588.4 441.6,587.9 442.2,599.7 442.3,590.7 442.2,591.2 442.7,591.9 443.3,594.0 443.8,590.2 444.4,590.2 444.9,593.2 445.5,595.0 446.0,590.9 446.6,589.8 447.1,591.8 447.7,600.3 447.8,591.7 447.7,591.9 448.2,591.9 448.8,590.3 449.3,590.3 449.9,593.1 450.4,593.3 451.0,591.6 451.5,594.7 452.1,594.0 452.6,593.4 453.2,604.2 453.3,593.3 453.2,593.4 453.7,593.0 454.3,590.3 454.8,592.8 455.4,592.0 455.9,591.6 456.5,594.0 457.0,590.9 457.6,594.4 458.1,592.5 458.7,603.9 458.8,591.7 458.7,595.3 459.2,593.0 459.8,594.8 460.3,595.8 460.9,592.4 461.4,593.2 462.0,594.8 462.5,594.2 463.1,593.2 463.6,595.9 464.2,605.9 464.3,594.0 464.2,596.2 464.7,597.3 465.3,594.3 465.8,593.7 466.4,594.1 466.9,595.2 467.5,594.9 468.0,594.6 468.6,592.2 469.1,592.7 469.7,605.6 469.8,593.9 469.7,591.0 470.2,594.1 470.8,593.7 471.3,594.2 471.9,594.7 472.4,593.3 473.0,592.7 473.5,595.8 474.1,595.5 474.6,594.0 475.2,601.7 475.3,595.4 475.2,594.5 475.7,592.8 476.3,595.6 476.8,593.9 477.4,593.3 477.9,594.0 478.5,597.1 479.0,595.5 479.6,595.3 480.1,607.7 480.3,592.9 480.1,595.4 480.7,594.7 481.2,594.2 481.8,595.4 482.3,595.1 482.9,592.6 483.4,596.8 484.0,595.7 484.5,593.0 485.1,596.9 485.6,605.4 485.8,595.6 485.6,595.6 486.2,594.8 486.7,593.3 487.3,594.7 487.8,595.8 488.4,595.7 488.9,596.5 489.5,595.6 490.0,592.8 490.6,596.8 491.1,594.8 491.7,603.0 491.8,594.1 491.7,595.4 492.2,594.1 492.8,596.4 493.3,594.8 493.9,598.6 494.4,595.7 495.0,595.4 495.5,595.3 496.1,593.3 496.6,605.1 496.8,595.1 496.6,593.3 497.2,596.3 497.7,598.0 498.3,595.8 498.8,596.3 499.4,597.0 499.9,595.4 500.5,596.0 501.0,597.8 501.6,605.9 501.7,596.9 501.6,599.7 502.1,597.3 502.7,594.6 503.2,597.0 503.8,597.7 504.3,597.0 504.9,594.4 505.4,599.4 506.0,597.8 506.5,596.8 507.1,606.0 507.2,598.2 507.1,594.6 507.6,597.7 508.2,598.2 508.7,598.5 509.3,599.4 509.8,599.3 510.4,598.6 510.9,596.9 511.5,598.4 512.0,605.2 512.2,599.0 512.0,596.7 512.6,599.2 513.1,594.8 513.7,598.5 514.2,598.6 514.8,597.9 515.3,599.8 515.9,596.7 516.4,598.4 517.0,597.5 517.5,598.0 518.1,607.6 518.2,598.4 518.1,599.5 518.6,598.5 519.2,597.1 519.7,600.3 520.3,597.3 520.8,598.3 521.4,599.1 521.9,598.1 522.5,599.4 523.0,598.7 523.6,600.7 524.1,610.8 524.3,599.1 524.1,597.7 524.7,597.5 525.2,599.2 525.8,600.0 526.3,599.2 526.9,597.5 527.4,598.1 528.0,598.5 528.5,598.9 529.1,597.1 529.6,601.4 530.2,611.8 530.3,598.8 530.2,596.5 530.7,601.5 531.3,597.8 531.8,598.4 532.4,597.8 532.9,598.5 533.5,601.2 534.0,598.4 534.6,606.0 534.7,598.7 534.6,596.9 535.1,598.9 535.7,599.7 536.2,598.8 536.8,599.0 537.3,600.6 537.9,600.3 538.4,599.5 539.0,598.6 539.5,597.7 540.1,601.9 540.6,608.9 540.8,597.8 540.6,598.8 541.2,601.0 541.7,598.9 542.3,601.6 542.8,598.6 543.4,600.6 543.9,601.7 544.5,598.8 545.0,602.9 545.6,601.3 546.1,597.3 546.7,610.0 546.8,602.1 546.7,600.0 547.2,600.8 547.8,597.9 548.3,600.6 548.9,601.7 549.4,599.8 550.0,602.0 550.5,603.4 551.1,598.0 551.6,598.3 552.2,599.8 552.7,608.2 552.9,601.6 552.7,599.2 553.3,599.8 553.8,603.0 554.4,599.9 554.9,600.8 555.5,603.3 556.0,602.1 556.6,601.7 557.1,605.3 557.7,604.3 558.2,616.9 558.4,603.9 558.2,605.1 558.8,606.0 559.3,604.8 559.9,606.0 560.4,608.3 561.0,608.6 561.5,601.3 562.1,604.9 562.6,608.6 562.8,605.3 562.6,606.5 563.2,608.3 563.7,609.4 564.3,605.3 564.8,603.6 565.4,607.1 565.9,605.1 566.5,611.3 567.0,607.8 567.6,609.3 567.7,607.0 567.6,609.5 568.1,605.2 568.7,606.1 569.2,606.6 569.8,608.9 570.3,610.6 570.9,609.4 571.4,609.4 572.0,606.9 572.5,608.5 573.1,607.0 573.6,611.1 573.8,610.7 573.6,608.3 574.2,609.8 574.7,605.9 575.3,607.3 575.8,605.8 576.4,604.5 576.9,610.9 577.5,609.4 578.0,604.3 578.6,610.7 578.7,605.7 578.6,609.7 579.1,606.8 579.7,605.7 580.2,611.8 580.8,607.3 581.3,607.7 581.9,610.2 582.4,606.9 583.0,608.9 583.5,609.3 584.1,611.8 584.2,610.2 584.1,612.2 584.6,613.7 585.2,609.7 585.7,607.8 586.3,607.8 586.8,606.3 587.4,609.3 587.9,609.3 588.5,611.8 589.0,609.8 589.6,607.4 590.1,612.9 590.3,610.8 590.1,611.1 590.7,613.1 591.2,607.9 591.8,609.6 592.3,613.4 592.9,612.6 593.4,611.5 594.0,612.5 594.5,604.6 595.1,609.5 595.6,613.4 595.8,606.6 595.6,611.5 596.2,613.4 596.7,612.5 597.3,611.2 597.8,609.6 598.4,614.0 598.9,611.4 599.5,606.1 600.0,610.6 600.6,614.7 600.7,612.2 600.6,614.8 601.1,610.2 601.7,610.8 602.2,610.9 602.8,608.5 603.3,609.9 603.9,608.6 604.4,610.5 605.0,609.2 605.5,616.2 605.6,613.9 605.5,608.1 606.0,611.4 606.6,613.0 607.1,613.4 607.7,610.0 608.2,611.4 608.8,612.1 609.3,611.0 609.9,610.8 610.4,615.5 610.6,613.4 610.4,610.7 611.0,612.8 611.5,606.1 612.1,615.8 612.6,612.5 613.2,613.9 613.7,610.2 614.3,612.4 614.8,617.4 615.4,617.5 615.9,615.9 616.1,608.8 615.9,612.2 616.5,612.4 617.0,615.2 617.6,610.1 618.1,613.9 618.7,614.0 619.2,613.5 619.8,612.8 620.3,615.7 620.9,616.5 621.0,617.6 620.9,618.6 621.4,614.1 622.0,612.4 622.5,612.6 623.1,606.7 623.6,612.8 624.2,615.0 624.7,615.1 625.3,611.7 625.8,607.3 626.4,610.6 626.9,618.3 627.1,613.2 626.9,607.7 627.5,615.2 628.0,615.3 628.6,613.5 629.1,606.4 629.7,615.4 630.2,614.2 630.8,615.3 631.3,611.4 631.9,618.5 632.0,610.4 631.9,612.5 632.4,612.2 633.0,617.4 633.5,609.8 634.1,612.8 634.6,615.4 635.2,614.2 635.7,616.6 636.3,618.0 636.4,615.5 636.3,614.0 636.8,615.2 637.4,609.8 637.9,618.2 638.5,612.2 639.0,617.6 639.6,618.5 640.1,617.4 640.7,615.3 641.2,613.1 641.8,609.2 642.3,617.8 642.5,616.4 642.3,614.3 642.9,619.5 643.4,614.2 644.0,616.7 644.5,614.0 645.1,616.2 645.6,614.2 646.2,614.7 646.7,610.3 647.3,619.7 647.4,613.4 647.3,616.0 647.8,612.1 648.4,619.5 648.9,616.3 649.5,618.4 650.0,613.1 650.6,606.9 651.1,613.5 651.7,612.9 652.2,619.1 652.4,616.3 652.2,612.0 652.8,616.0 653.3,613.3 653.9,619.4 654.4,617.9 655.0,618.1 655.5,615.3 656.1,616.6 656.6,618.3 657.2,613.8 657.7,618.9 657.9,616.0 657.7,617.7 658.3,619.5 658.8,622.1 659.4,620.3 659.9,613.4 660.5,619.5 661.0,615.5 661.6,615.2 662.1,615.8 662.7,613.3 663.2,619.3 663.4,617.1 663.2,614.6 663.8,619.5 664.3,617.4 664.9,609.8 665.4,614.1 666.0,614.0 666.5,614.9 667.1,615.0 667.6,617.3 668.2,616.4 668.7,614.0 669.3,618.0 669.8,620.6 670.0,617.5 669.8,619.0 670.4,615.5 670.9,616.0 671.5,617.1 672.0,618.5 672.6,617.6 673.1,619.8 673.7,620.3 674.2,614.6 674.8,614.2 675.3,621.6 675.5,617.1 675.3,618.5 675.9,619.8 676.4,619.1 677.0,619.1 677.5,615.1 678.1,618.5 678.6,615.9 679.2,618.7 679.7,620.0 680.3,615.9 680.8,617.1 681.4,624.2 681.9,620.9 682.1,616.6 681.9,615.4 682.5,620.5 683.0,616.1 683.6,616.3 684.1,615.9 684.7,610.6 685.2,620.0 685.8,616.6 686.3,618.0 686.9,621.7 687.0,616.6 686.9,621.2 687.4,616.7 688.0,612.5 688.5,618.4 689.1,620.0 689.6,617.3 690.2,623.7 690.7,621.0 691.3,623.7 691.8,619.0 692.4,622.9 692.5,623.4 692.4,619.0 692.9,617.6 693.5,623.1 694.0,622.3 694.6,617.0 695.1,620.7 695.7,619.2 696.2,619.4 696.8,620.6 697.3,623.6 697.5,617.8 697.3,619.6 697.9,619.9 698.4,617.6 699.0,617.9 699.5,621.5 700.1,619.4 700.6,625.6 701.2,625.0 701.7,617.5 702.3,620.3 702.8,614.2 703.4,622.4 703.5,617.8 703.4,613.8 703.9,620.1 704.5,619.9 705.0,617.4 705.6,619.3 706.1,622.0 706.7,623.8 707.2,616.2 707.8,623.9 708.3,622.9 708.5,615.2 708.3,623.8 708.9,621.3 709.4,621.3 710.0,623.9 710.5,620.5 711.1,618.7 711.6,623.8 712.2,619.4 712.7,616.7 713.3,624.2 713.4,615.5 713.3,622.0 713.8,620.2 714.4,623.3 714.9,616.3 715.5,621.4 716.0,618.9 716.6,623.9 717.1,618.1 717.7,622.5 718.2,620.9 718.8,623.1 718.9,624.3 718.8,620.6 719.3,620.0 719.9,614.8 720.4,624.4 721.0,624.1 721.5,622.0 722.1,624.4 722.6,622.6 723.2,618.6 723.7,615.4 724.3,625.4 724.4,618.1 724.3,620.1 724.8,622.3 725.4,617.2 725.9,618.6 726.5,625.0 727.0,619.2 727.6,619.2 728.1,618.6 728.7,625.0 728.8,624.0 728.7,624.2 729.2,623.7 729.8,624.8 730.3,622.3 730.9,623.6 731.4,623.0 732.0,623.2 732.5,618.4 733.1,620.9 733.6,620.6 734.2,625.7 734.3,619.9 734.2,624.0 734.7,621.8 735.3,622.5 735.8,625.4 736.4,618.5 736.9,622.8 737.5,626.1 738.0,626.5 738.6,624.2 739.1,623.3 739.7,625.4 739.8,617.2 739.7,618.8 740.2,620.5 740.8,622.7 741.3,620.0 741.9,621.5 742.4,623.4 743.0,622.9 743.5,622.6 744.1,624.1 744.6,625.2 745.2,625.5 745.3,621.5 745.2,621.0 745.7,622.2 746.3,618.4 746.8,620.4 747.4,621.8 747.9,626.1 748.5,623.9 749.0,622.2 749.6,624.9 750.1,627.2 750.3,623.1 750.1,623.6 750.7,623.1 751.2,624.6 751.8,621.4 752.3,623.0 752.9,617.4 753.4,621.8 754.0,627.0 754.5,622.1 755.1,623.1 755.6,625.9 755.8,622.1 755.6,617.4 756.2,626.0 756.7,620.9 757.3,623.3 757.8,622.4 758.4,621.8 758.9,626.2 759.5,621.5 760.0,621.5 760.6,630.1 761.1,623.4 761.7,626.4 761.8,626.6 761.7,620.2 762.2,621.5 762.8,623.8 763.3,624.0 763.9,629.5 764.4,628.1 765.0,631.7 765.5,631.7 766.1,626.1 766.6,629.8 766.8,629.4 766.6,629.7 767.2,632.5 767.7,629.6 768.3,630.6 768.8,630.9 769.4,631.5 769.9,632.0 770.5,629.0 771.0,633.6 771.6,634.4 771.7,631.4 771.6,631.1 772.1,631.7 772.7,632.8 773.2,634.3 773.8,633.2 774.3,633.0 774.9,630.5 775.4,633.3 776.0,632.9 776.5,633.1 777.1,634.3 777.2,630.4 777.1,634.1 777.6,632.6 778.2,631.7 778.7,634.9 779.3,629.0 779.8,631.3 780.4,631.8 780.9,634.1 781.5,631.8 782.0,636.3 782.6,634.6 782.7,635.3 782.6,632.0 783.1,631.4 783.7,635.4 784.2,631.9 784.8,633.5 785.3,629.0 785.9,634.3 786.4,633.2 787.0,628.0 787.5,632.7 788.1,634.5 788.2,632.2 788.1,633.5 788.6,636.4 789.2,630.8 789.7,638.0 790.3,633.8 790.8,632.5 791.4,629.6 791.9,628.6 792.5,635.7 793.0,632.1 793.6,631.7 794.1,635.3 794.3,636.1 794.1,629.5 794.7,628.3 795.2,635.9 795.8,633.3 796.3,632.8 796.9,638.5 797.4,632.4 798.0,634.5 798.5,639.2 799.1,635.2 799.6,632.2 800.2,635.3 800.3,631.5 800.2,635.9 800.7,638.0 801.3,633.5 801.8,636.0 802.4,634.0 802.9,637.6 803.5,634.6 804.0,632.1 804.6,634.9 805.1,634.4 805.7,635.5 805.8,631.5 805.7,630.7 806.2,630.9 806.8,631.9 807.3,635.8 807.9,629.4 808.4,635.0 809.0,634.3 809.5,632.8 810.1,638.0 810.6,635.8 810.8,634.6 810.6,634.6 811.2,630.3 811.7,635.0 812.3,633.8 812.8,635.5 813.4,640.0 813.9,632.8 814.5,633.7 815.0,631.5 815.6,635.2 816.1,636.2 816.3,636.3 816.1,628.2 816.7,638.6 817.2,638.9 817.8,627.8 818.3,630.9 818.9,636.1 819.4,635.1 820.0,638.0 820.5,634.2 821.1,638.4 821.6,631.5 822.2,636.4 822.3,636.2 822.2,630.5 822.7,634.1 823.3,638.8 823.8,633.5 824.4,634.6 824.9,635.6 825.5,632.8 826.0,636.1 826.6,636.9 827.1,637.2 827.3,634.8 827.1,635.6 827.7,635.4 828.2,635.0 828.8,634.0 829.3,631.3 829.9,635.5 830.4,636.1 831.0,638.3 831.5,640.0 832.1,633.9 832.6,637.5 832.8,633.6 832.6,637.4 833.2,636.8 833.7,633.4 834.3,637.7 834.8,632.7 835.4,636.1 835.9,635.0 836.5,637.0 837.0,636.8 837.6,636.6 838.1,638.1 838.3,634.9 838.1,634.2 838.7,638.2 839.2,634.6 839.8,636.6 840.3,636.1 840.9,636.2 841.4,638.5 842.0,631.8 842.5,639.9 843.1,632.0 843.6,639.9 844.2,638.4 844.3,638.2 844.2,635.9 844.7,633.6 845.3,640.0 845.8,639.8 846.4,637.9 846.9,641.3 847.5,637.4 848.0,636.3 848.6,640.5 849.1,638.9 849.3,635.1 849.1,637.7 849.7,637.4 850.2,638.5 850.8,637.9 851.3,635.4 851.9,627.9 852.4,636.0 853.0,633.5 853.5,640.0 854.1,636.3 854.6,639.4 854.8,633.7 854.6,640.2 855.2,643.2 855.7,640.0 856.3,639.3 856.8,635.3 857.4,643.0 857.9,639.5 858.5,640.7 859.0,637.0 859.6,642.8 860.1,641.8 860.7,639.6 860.8,642.2 860.7,637.6 861.2,639.6 861.8,639.8 862.3,636.1 862.9,637.0 863.4,640.6 864.0,640.9 864.5,637.9 865.1,637.4 865.6,640.0 865.8,636.7 865.6,637.7 866.2,633.1 866.7,633.4 867.3,635.2 867.8,632.8 868.4,637.1 868.9,637.4 869.5,635.6 870.0,637.1 870.6,639.7 870.7,630.8 870.6,636.9 871.1,643.4 871.7,634.4 872.2,638.4 872.8,637.4 873.3,639.4 873.9,636.4 874.4,639.9 875.0,634.4 875.5,640.5 876.1,640.8 876.2,637.8 876.1,635.4 876.6,637.0 877.2,636.7 877.7,638.4 878.3,639.1 878.8,640.7 879.4,639.4 879.9,638.4 880.5,640.3 881.0,641.6 881.6,641.5 882.1,641.0 882.3,644.5 882.1,635.4 882.7,637.2 883.2,640.7 883.8,642.4 884.3,637.8 884.9,640.4 885.4,639.4 886.0,640.6 886.5,640.6 886.7,638.2 886.5,644.1 887.1,640.3 887.6,639.1 888.2,644.9 888.7,639.6 889.3,641.9 889.8,636.4 890.4,635.9 890.9,640.1 891.5,644.0 892.0,641.9 892.2,640.7 892.0,641.3 892.6,640.9 893.1,639.8 893.7,637.0 894.2,636.8 894.8,638.5 895.3,639.5 895.9,636.5 896.4,644.1 897.0,642.2 897.1,641.5 897.0,646.3 897.5,640.7 898.1,640.6 898.6,642.8 899.2,636.6 899.7,638.7 900.3,638.2 900.8,642.2 901.4,635.9 901.9,641.8 902.1,641.2 901.9,638.9 902.5,644.2 903.0,638.1 903.6,637.3 904.1,641.3 904.7,639.0 905.2,641.9 905.8,640.4 906.3,642.9 906.5,639.7 906.3,644.3 906.9,645.9 907.4,637.6 908.0,642.0 908.5,637.8 909.1,640.5 909.6,640.1 910.2,644.6 910.7,640.3 911.3,636.9 911.8,643.2 912.0,637.2 911.8,646.2 912.4,646.5 912.9,637.3 913.5,640.7 914.0,637.9 914.6,641.9 915.1,643.3 915.7,636.4 916.2,643.5 916.8,643.2 917.3,642.6 917.5,640.6 917.3,636.1 917.9,638.5 918.4,641.7 919.0,644.1 919.5,643.2 920.1,636.4 920.6,638.0 921.2,640.5 921.7,642.0 922.3,642.0 922.8,638.4 923.4,643.7 923.5,640.8 923.4,644.6 923.9,641.4 924.5,637.8 925.0,641.9 925.6,642.3 926.1,640.7 926.7,643.4 927.2,646.7 927.8,640.3 928.3,643.5 928.5,643.1 928.3,645.0 928.9,642.1 929.4,640.5 930.0,644.2 930.5,642.0 931.1,639.0 931.6,639.6 932.2,641.9 932.7,648.0 933.3,645.2 933.8,644.5 934.0,646.0 933.8,646.3 934.4,639.6 934.9,644.1 935.5,644.2 936.0,643.9 936.6,643.7 937.1,636.1 937.7,643.1 938.2,639.2 938.8,645.2 939.3,641.4 939.9,644.4 940.0,642.1 939.9,642.4 940.4,639.5 941.0,645.4 941.5,641.5 942.1,640.0 942.6,646.2 943.2,642.2 943.7,640.5 944.3,642.8 944.8,644.5 945.0,642.6 944.8,645.9 945.4,644.0 945.9,647.4 946.5,644.7 947.0,640.7 947.6,646.1 948.1,642.7 948.7,643.7 949.2,637.0 949.8,640.2 950.3,647.1 950.9,645.4 951.0,646.4 950.9,644.4 951.4,646.8 952.0,640.8 952.5,639.1 953.1,644.5 953.6,642.0 954.2,642.2 954.7,641.5 955.3,647.1 955.8,645.3 956.0,641.6 955.8,646.4 956.4,645.5 956.9,642.3 957.5,646.5 958.0,647.3 958.6,645.0 959.1,643.5 959.7,646.1 960.2,642.3 960.8,645.5 961.3,648.3 961.9,646.2 962.0,640.8 961.9,642.0 962.4,643.2 963.0,644.8 963.5,642.8 964.1,644.8 964.6,641.9 965.2,643.1 965.7,644.3 966.3,646.0 966.8,646.9 967.0,643.5 966.8,645.9 967.4,644.4 967.9,648.1 968.5,642.7 969.0,647.5 969.6,647.4 970.1,647.2 970.7,643.6 971.2,647.4 971.8,646.2 972.3,642.1 972.9,646.9 973.0,644.2 972.9,648.7 973.4,648.5 974.0,644.8 974.5,646.0 975.1,649.4 975.6,650.7 976.2,654.3 976.7,652.8 977.3,657.8 977.8,657.7 978.0,654.8 977.8,654.7 978.4,657.5 978.9,660.8 979.5,661.3 980.0,658.5 980.6,657.2 981.1,661.1 981.7,660.9 982.2,660.0 982.8,661.2 983.3,663.1 983.5,659.0 983.3,658.2 983.9,658.7 984.4,665.0 985.0,664.5 985.5,659.0 986.1,659.3 986.6,656.2 987.2,662.9 987.7,662.0 988.3,661.6 988.8,662.9 989.0,668.3 988.8,662.3 989.4,661.0 989.9,664.9 990.5,661.1 991.0,662.0 991.6,668.4 992.1,659.9 992.7,658.1 993.2,662.2 993.8,663.6 993.9,659.9 993.8,664.3 994.3,657.2 994.9,661.2 995.4,655.5 996.0,664.6 996.5,658.7 997.1,663.8 997.6,667.2 998.2,663.7 998.3,662.6 998.2,666.2 998.7,660.6 999.3,664.3 999.8,660.4 1000.4,661.2 1000.9,666.8 1001.5,657.0 1002.0,658.3 1002.6,661.1 1003.1,665.2 1003.7,663.7 1003.8,654.5 1003.7,664.1 1004.2,670.0 1004.8,663.6 1005.3,665.4 1005.9,666.3 1006.4,661.3 1007.0,662.6 1007.5,661.7 1008.1,662.9 1008.6,661.4 1009.2,660.7 1009.7,663.8 1009.9,660.5 1009.7,662.6 1010.3,666.5 1010.8,658.2 1011.4,657.1 1011.9,664.4 1012.5,660.0 1013.0,660.3 1013.6,664.4 1014.1,663.4 1014.7,660.5 1015.2,664.0 1015.4,661.9 1015.2,661.4 1015.8,661.6 1016.3,658.2 1016.9,660.9 1017.4,662.4 1018.0,664.3 1018.5,664.5 1019.1,667.9 1019.6,662.5 1020.2,664.0 1020.3,663.8 1020.2,666.2 1020.7,659.8 1021.3,663.8 1021.8,663.9 1022.4,664.9 1022.9,664.4 1023.5,663.3 1024.0,660.3 1024.6,662.0 1025.1,663.9 1025.7,665.0 1025.8,665.0 1025.7,664.9 1026.2,667.3 1026.8,663.7 1027.3,661.5 1027.9,658.8 1028.4,663.2 1029.0,665.0 1029.5,662.0 1030.1,667.6 1030.6,660.6 1031.2,662.1 1031.7,664.6 1031.9,663.1 1031.7,659.5 1032.3,666.3 1032.8,661.0 1033.4,659.7 1033.9,657.8 1034.5,666.1 1035.0,667.2 1035.6,660.3 1036.1,659.1 1036.7,662.0 1037.2,663.4 1037.8,661.8 1038.3,664.9 1038.5,664.9 1038.3,670.3 1038.9,666.5 1039.4,662.3 1040.0,666.4 1040.5,668.6 1041.1,661.4 1041.6,664.0 1042.2,666.7 1042.7,665.0 1043.3,661.2 1043.8,665.9 1044.0,662.4 1043.8,661.8 1044.4,664.8 1044.9,657.1 1045.5,664.1 1046.0,666.7 1046.6,666.7 1047.1,662.6 1047.7,664.7 1048.2,664.6 1048.8,663.6 1049.3,661.5 1049.9,666.2 1050.0,659.7 1049.9,662.1 1050.4,660.2 1051.0,657.5 1051.5,667.4 1052.1,659.4 1052.6,661.7 1053.2,661.7 1053.7,658.4 1054.3,665.8 1054.4,656.8 1054.3,665.0 1054.8,661.1 1055.4,663.0 1055.9,663.1 1056.5,663.5 1057.0,666.9 1057.6,667.8 1058.1,671.0 1058.7,660.7 1059.2,667.7 1059.8,665.9 1059.9,666.6 1059.8,672.0 1060.3,668.4 1060.9,659.4 1061.4,669.4 1062.0,666.2 1062.5,665.6 1063.1,667.3 1063.6,663.1 1064.2,664.5 1064.7,667.8 1065.3,667.0 1065.4,663.2 1065.3,667.5 1065.8,659.8 1066.4,667.3 1066.9,661.8 1067.5,663.9 1068.0,663.5 1068.6,666.8 1069.1,666.1 1069.7,662.6 1070.2,667.2 1070.4,665.8 1070.2,668.3 1070.8,666.1 1071.3,663.8 1071.9,664.1 1072.4,664.4 1073.0,665.2 1073.5,666.5 1074.1,666.5 1074.6,664.4 1075.2,664.9 1075.7,667.4 1076.3,666.5 1076.4,666.2 1076.3,662.9 1076.8,665.2 1077.4,661.5 1077.9,665.8 1078.5,665.9 1079.0,665.6 1079.6,667.0 1080.1,663.9 1080.7,665.8 1081.2,658.5 1081.8,667.7 1081.9,670.9 1081.8,665.6 1082.3,664.6 1082.9,667.1 1083.4,664.8 1084.0,663.4 1084.5,668.1 1085.1,665.8 1085.6,663.6 1086.2,667.8 1086.7,667.0 1087.3,666.9 1087.8,667.3 1088.0,664.8 1087.8,668.3 1088.4,670.4 1088.9,663.0 1089.5,666.5 1090.0,660.4 1090.6,665.9 1091.1,660.7 1091.7,661.9 1092.2,666.5 1092.8,669.2 1093.3,667.5 1093.9,668.1 1094.0,665.3 1093.9,663.6 1094.4,666.0 1095.0,673.3 1095.5,670.3 1096.1,662.0 1096.6,663.9 1097.2,661.8 1097.7,667.8 1098.3,665.3 1098.8,661.5 1099.4,665.7 1099.9,668.5 1100.1,664.7 1099.9,663.0 1100.5,665.2 1101.0,668.9 1101.6,663.5 1102.1,665.2 1102.7,662.0 1103.2,665.1 1103.8,670.5 1104.3,668.1 1104.9,668.6 1105.0,664.3 1104.9,666.1 1105.4,664.9 1106.0,670.0 1106.5,665.4 1107.1,664.4 1107.6,667.9 1108.2,662.8 1108.7,665.4 1109.3,664.4 1109.8,668.0 1110.0,667.2 1109.8,666.5 1110.4,672.4 1110.9,669.0 1111.5,667.0 1112.0,668.7 1112.6,666.4 1113.1,667.8 1113.7,668.9 1114.2,668.5 1114.8,671.4 1115.3,668.9 1115.9,668.3 1116.0,665.1 1115.9,673.3 1116.4,661.6 1117.0,666.9 1117.5,668.8 1118.1,664.5 1118.6,666.0 1119.2,670.4 1119.7,663.6 1120.3,670.1 1120.8,666.7 1121.4,669.2 1121.5,673.0 1121.4,666.4 1121.9,666.6 1122.5,668.0 1123.0,666.9 1123.6,673.0 1124.1,668.1 1124.7,665.3 1125.2,666.0 1125.8,668.8 1126.3,664.3 1126.9,665.3 1127.4,669.2 1127.6,665.9 1127.4,658.2 1128.0,673.1 1128.5,669.4 1129.1,668.6 1129.6,664.5 1130.2,667.7 1130.7,668.4 1131.3,665.2 1131.8,670.1 1132.4,671.7 1132.9,669.2 1133.1,669.4 1132.9,676.4 1133.5,670.3 1134.0,664.5 1134.6,664.6 1135.1,666.0 1135.7,665.1 1136.2,668.2 1136.8,665.5 1137.3,668.5 1137.9,666.8 1138.4,670.3 1138.6,671.0 1138.4,667.5 1139.0,665.8 1139.5,663.2 1140.1,668.4 1140.6,662.8 1141.2,665.9 1141.7,669.7 1142.3,672.1 1142.8,667.5 1143.4,669.4 1143.9,672.3 1144.5,669.8 1144.6,669.6 1144.5,666.6 1145.0,664.8 1145.6,664.7 1146.1,671.3 1146.7,672.1 1147.2,666.6 1147.8,668.7 1148.3,671.4 1148.9,667.9 1149.4,662.8 1150.0,670.6 1150.1,669.2 1150.0,671.4 1150.5,664.7 1151.1,672.5 1151.6,667.6 1152.2,663.1 1152.7,669.3 1153.3,664.0 1153.8,672.8 1154.4,670.2 1154.9,674.1 1155.5,663.6 1156.0,670.6 1156.2,669.1 1156.0,670.7 1156.6,669.9 1157.1,670.8 1157.7,671.9 1158.2,674.3 1158.8,663.5 1159.3,665.8 1159.9,667.1 1160.4,669.6 1161.0,670.1 1161.5,670.5 1161.7,668.8 1161.5,669.8 1162.1,671.3 1162.6,672.7 1163.2,666.6 1163.7,668.3 1164.3,669.3 1164.8,676.7 1165.4,667.1 1165.9,670.1 1166.5,670.4 1166.6,665.5 1166.5,676.6 1167.0,667.7 1167.6,669.4 1168.1,670.0 1168.7,667.3 1169.2,667.0 1169.8,672.7 1170.3,667.5 1170.9,672.1 1171.4,668.8 1172.0,666.8 1172.5,671.1 1172.7,673.6 1172.5,668.1 1173.1,668.0 1173.6,666.0 1174.2,667.6 1174.7,669.7 1175.3,673.1 1175.8,667.3 1176.4,664.2 1176.9,670.0 1177.5,668.3 1178.0,671.5 1178.2,666.8 1178.0,673.6 1178.6,666.2 1179.1,664.8 1179.7,667.7 1180.2,668.4 1180.8,671.0 1181.3,669.7 1181.9,664.2 1182.4,670.2 1183.0,670.3 1183.5,671.8 1183.7,669.5 1183.5,667.8 1184.1,665.3 1184.6,669.4 1185.2,671.8 1185.7,663.5 1186.3,669.6 1186.8,671.8 1187.4,670.3 1187.9,674.5 1188.5,672.1 1188.6,672.0 1188.5,670.0 1189.0,670.0 1189.6,666.1 1190.1,669.3 1190.7,667.8 1191.2,673.5 1191.8,674.8 1192.3,675.1 1192.9,672.3 1193.4,669.6 1194.0,672.3 1194.1,668.3 1194.0,666.3 1194.5,669.3 1195.1,670.8 1195.6,671.5" fill="none" stroke="#e0646a" stroke-width="1.3" stroke-linejoin="round"/>
<rect x="96" y="546" width="6" height="126.4" fill="#000"/>
<rect x="93" y="546" width="6" height="4.5" fill="#000"/>
<rect x="93" y="666.1" width="6" height="4.6" fill="#000"/>
<rect x="96" y="673.4" width="6" height="2.2" fill="#000"/>
<rect x="96" y="677.9" width="6" height="2.2" fill="#000"/>
<rect x="96" y="682.4" width="6" height="2.2" fill="#000"/>
<rect x="96" y="686.9" width="6" height="2.2" fill="#000"/>
<rect x="96" y="688.5" width="1102.0" height="6" fill="#000"/>
<rect x="318.0" y="685.5" width="6" height="4" fill="#000"/>
<rect x="537.0" y="685.5" width="6" height="4" fill="#000"/>
<rect x="757.0" y="685.5" width="6" height="4" fill="#000"/>
<rect x="975.0" y="685.5" width="6" height="4" fill="#000"/>
<rect x="1192.0" y="684.5" width="6" height="5" fill="#000"/>
<text x="321" y="718.1" font-size="20" text-anchor="middle" fill="#000" >3</text>
<text x="540" y="718.1" font-size="20" text-anchor="middle" fill="#000" >6</text>
<text x="760" y="718.1" font-size="20" text-anchor="middle" fill="#000" >9</text>
<text x="978" y="718.1" font-size="20" text-anchor="middle" fill="#000" >12</text>
<text x="1162" y="718.1" font-size="20" text-anchor="start" fill="#000" >15 min</text>
<text x="105.8" y="535.8" font-size="19.8">Voltron<tspan font-size="13.8" dy="5.5">525</tspan><tspan dy="-5.5"> - M175L</tspan></text>
<text x="1096.4" y="652.2" font-size="19.5" text-anchor="start" fill="#000" >840 s</text>
<rect x="1164" y="544" width="6" height="16.6" fill="#000"/>
<text x="0" y="0" font-size="19.9" transform="translate(1192.8 646.8) rotate(-90)">-10% ΔF/F<tspan font-size="12.7" dy="4">0</tspan></text>
<text x="2" y="753" font-size="26" text-anchor="start" fill="#000" >F</text>
<defs><clipPath id="cF"><rect x="7" y="756" width="768" height="475.5"/></clipPath><clipPath id="cIn"><rect x="7" y="756" width="287" height="168"/></clipPath></defs>
<g clip-path="url(#cF)"><rect x="7" y="756" width="768" height="475.5" fill="#000"/>
<g id="cellF"><polygon points="300.0,925.0 330.0,890.0 350.0,860.0 365.0,830.0 385.0,803.0 405.0,790.0 423.0,775.0 440.0,757.0 600.0,757.0 640.0,775.0 665.0,791.0 724.0,819.0 751.0,855.0 759.0,906.0 747.0,940.0 705.0,955.0 673.0,966.0 650.0,990.0 640.0,1011.0 634.0,1038.0 620.0,1064.0 591.0,1096.0 575.0,1122.0 543.0,1148.0 510.0,1168.0 478.0,1187.0 445.0,1207.0 412.0,1226.0 400.0,1234.0 120.0,1234.0 40.0,1175.0 8.0,1110.0 8.0,1040.0 60.0,1010.0 150.0,985.0 230.0,955.0" fill="#060606" filter="url(#blur6)"/>
<ellipse cx="425" cy="1012" rx="175" ry="68" transform="rotate(-18 425 1012)" fill="#3a263a" opacity="0.9" filter="url(#blur20)"/>
<ellipse cx="600" cy="880" rx="120" ry="60" transform="rotate(15 600 880)" fill="#101010" filter="url(#blur20)"/>
<ellipse cx="380" cy="1150" rx="90" ry="50" fill="#161616" filter="url(#blur20)"/>
<ellipse cx="445" cy="800" rx="28" ry="40" fill="#2a2a2a" filter="url(#blur8)"/>
<ellipse cx="455" cy="768" rx="40" ry="12" fill="#4a1a4a" filter="url(#blur6)"/>
<ellipse cx="540" cy="775" rx="30" ry="12" fill="#3a143a" filter="url(#blur6)"/>
<path d="M411 809Q413 799 417 793M411 809Q408 806 405 805M418 789Q418 793 417 793M421 784Q421 786 418 789M426 793Q422 794 417 793M426 793Q428 789 425 785M425 785Q424 784 421 784M577 886Q582 879 581 872M577 886Q590 887 600 893M581 872Q595 869 609 865M604 892Q601 892 600 893M604 892Q613 879 617 870M609 865Q614 868 617 869M617 870Q618 867 617 869M469 795Q474 791 476 790M569 1100Q573 1099 580 1093M519 1148Q515 1153 511 1158M511 1160Q512 1158 511 1158M718 839Q712 838 703 836M686 818Q687 825 685 828M685 828Q692 834 699 837M703 836Q699 838 699 837M750 906Q741 913 727 921M727 921Q730 922 734 928M686 816Q675 809 663 802M686 818Q689 818 686 816M685 828Q682 828 684 829M654 817Q669 821 684 829M654 817Q654 810 650 802M650 802Q657 800 663 802M650 802Q644 797 644 794M511 1158Q500 1151 487 1148M487 1148Q487 1148 484 1149M479 1158Q483 1154 484 1149M405 805Q397 808 391 815M391 815Q390 812 385 816M448 766Q439 770 433 765M653 820Q649 828 650 835M653 820Q637 824 624 827M624 827Q635 830 650 835M654 817Q654 820 653 820M618 826Q615 815 615 806M618 826Q619 827 624 827M644 794Q628 798 615 806M626 853Q621 842 616 831M626 853Q637 850 652 850M652 850Q648 844 650 835M618 826Q617 831 616 831M469 795Q468 794 466 797M476 790Q480 793 487 799M487 799Q485 805 480 811M466 797Q466 805 474 809M480 811Q479 809 474 809M508 861Q506 859 505 858M508 861Q515 860 522 860M522 860Q525 855 526 848M526 848Q526 847 525 846M505 858Q514 852 525 846M412 852Q408 852 403 851M412 852Q412 854 417 859M417 859Q414 859 413 863M413 863Q406 860 401 857M403 851Q401 854 401 857M466 797Q463 799 459 797M459 797Q461 791 460 781M487 799Q489 800 494 797M500 813Q491 815 483 817M500 813Q501 813 503 810M503 810Q499 801 494 797M480 811Q482 813 483 817M494 797Q492 798 494 797M628 993Q630 1003 630 1014M569 1100Q567 1101 567 1101M567 1101Q567 1107 566 1116M566 1116Q562 1120 556 1126M551 1127Q553 1127 556 1126M565 895Q569 902 565 907M565 895Q571 892 569 891M565 907Q563 911 567 916M569 891Q574 889 577 886M585 922Q590 918 594 916M585 922Q581 923 580 923M594 916Q599 906 600 893M580 923Q574 919 567 916M585 922Q594 932 602 937M601 950Q605 949 602 948M601 950Q589 949 579 950M579 950Q580 939 580 923M602 937Q601 944 602 948M656 967Q650 959 645 955M645 955Q656 950 667 944M725 881Q721 872 719 865M725 881Q730 885 736 889M729 859Q726 859 724 860M746 888Q741 889 736 889M724 860Q724 859 719 865M718 839Q724 848 724 860M750 906Q747 896 746 888M464 1147Q465 1158 466 1164M464 1147Q463 1146 461 1147M461 1147Q455 1151 452 1153M452 1153Q460 1159 465 1167M479 1158Q473 1161 466 1164M477 1144Q468 1148 464 1147M477 1144Q483 1146 484 1149M398 860Q403 864 409 870M398 860Q398 859 401 857M413 863Q412 866 412 867M412 867Q410 866 409 870M565 895Q556 894 554 891M569 891Q566 880 558 868M554 891Q549 887 546 880M558 868Q553 871 544 872M546 880Q543 875 544 872M527 872Q522 871 524 871M527 872Q527 872 532 872M532 872Q537 871 542 871M524 870Q532 863 543 856M524 870Q525 870 524 871M542 871Q542 863 544 856M544 856Q544 854 543 856M529 887Q528 883 527 872M529 887Q534 889 536 882M536 882Q533 876 532 872M546 880Q536 880 536 882M544 872Q546 868 542 871M522 860Q522 864 524 870M526 848Q536 856 543 856M508 861Q507 870 510 878M510 878Q517 878 524 871M549 853Q554 864 559 867M549 853Q547 855 544 856M558 868Q558 869 559 867M528 890Q522 889 517 890M528 890Q532 893 533 897M531 903Q523 904 514 906M531 903Q530 899 533 897M514 906Q515 897 517 890M554 891Q544 895 533 897M529 887Q528 890 528 890M565 907Q550 908 534 910M534 910Q534 906 531 903M549 853Q552 851 555 847M559 867Q563 862 569 859M555 847Q556 844 561 846M561 846Q564 853 569 859M581 872Q581 868 579 865M579 865Q573 863 569 859M609 865Q600 854 590 843M579 865Q586 853 590 843M626 853Q622 862 617 869M616 831Q602 838 590 843M590 843Q589 844 590 843M503 810Q509 812 516 810M503 789Q503 790 503 789M503 789Q509 790 512 795M494 797Q499 793 503 789M512 795Q512 803 516 810M498 879Q504 881 507 881M498 879Q494 881 495 880M495 880Q493 888 494 899M508 881Q509 880 507 881M508 881Q506 890 502 904M494 899Q495 906 497 905M502 904Q500 907 497 905M482 879Q489 882 495 880M482 879Q484 885 485 894M485 894Q490 898 494 899M510 878Q509 880 507 881M517 890Q511 888 508 881M512 908Q509 905 502 904M512 908Q512 906 514 906M503 789Q503 788 506 782M503 789Q498 785 493 783M494 797Q493 792 490 787M699 938Q718 941 732 944M666 940Q664 946 667 944M666 940Q675 936 687 922M687 922Q692 924 697 926M697 926Q699 933 699 938M734 928Q733 936 732 944M601 950Q604 959 603 971M603 971Q606 972 606 972M629 956Q627 959 627 961M629 956Q624 951 621 949M627 961Q620 966 612 970M621 949Q611 948 602 948M612 970Q607 972 606 972M609 1009Q607 1007 604 1002M609 1009Q618 1001 627 993M615 989Q622 993 627 993M615 989Q608 992 603 998M604 1002Q603 997 603 998M627 961Q639 968 647 976M627 961Q629 972 632 982M632 982Q633 983 633 986M633 986Q637 987 643 983M647 976Q646 979 643 983M629 956Q633 952 640 952M627 961Q626 960 627 961M656 967Q652 971 647 976M640 952Q642 952 645 955M612 970Q621 978 632 982M615 989Q607 981 606 972M627 993Q628 996 628 993M628 993Q631 989 633 986M628 993Q629 992 628 993M530 1049Q529 1050 530 1049M530 1049Q530 1045 532 1040M529 1051Q528 1052 525 1053M529 1051Q530 1050 530 1049M525 1053Q518 1054 511 1050M537 1039Q538 1039 540 1036M609 1009Q611 1015 610 1014M610 1014Q611 1018 620 1018M630 1014Q628 1014 628 1015M628 1015Q624 1017 620 1018M610 1014Q606 1015 604 1018M614 1038Q618 1032 620 1020M620 1018Q622 1018 620 1020M628 1015Q629 1021 629 1029M514 1062Q518 1063 520 1061M514 1062Q512 1055 512 1052M512 1052Q515 1057 520 1061M521 1061Q525 1055 525 1053M521 1061Q520 1061 520 1061M497 1086Q490 1089 484 1092M497 1086Q497 1087 498 1085M498 1085Q491 1086 483 1084M484 1092Q485 1087 483 1084M482 1096Q481 1097 484 1101M482 1096Q483 1094 484 1092M484 1101Q485 1106 490 1107M500 1097Q495 1102 490 1107M500 1097Q501 1088 497 1086M500 1076Q495 1078 484 1079M500 1076Q497 1081 498 1085M483 1082Q483 1079 484 1079M483 1082Q482 1080 483 1084M432 1119Q429 1113 427 1102M432 1119Q434 1112 438 1103M427 1102Q428 1100 429 1097M429 1097Q431 1095 431 1097M438 1103Q434 1101 431 1097M475 1123Q479 1122 480 1121M475 1123Q483 1128 491 1135M480 1121Q486 1124 496 1128M491 1135Q497 1131 496 1128M487 1148Q489 1143 491 1135M477 1144Q469 1135 471 1125M471 1125Q475 1124 475 1123M508 1122Q499 1111 490 1107M508 1122Q503 1125 496 1128M490 1107Q485 1114 480 1121M471 1125Q470 1126 469 1124M461 1147Q459 1139 454 1131M454 1131Q453 1130 454 1126M469 1124Q462 1126 454 1126M596 974Q589 966 580 961M564 984Q572 974 580 961M603 971Q598 972 596 974M579 950Q578 949 579 950M580 961Q581 954 579 950M533 914Q531 918 529 918M533 914Q531 914 534 910M594 916Q603 914 605 918M604 892Q611 895 615 902M605 918Q609 914 613 912M615 902Q614 906 613 912M625 876Q632 886 639 902M625 876Q621 877 617 870M639 902Q638 903 638 903M615 902Q627 903 638 903M602 937Q605 932 611 930M605 918Q608 922 611 929M611 930Q611 931 611 929M613 912Q620 915 623 922M611 929Q616 926 623 922M638 903Q638 905 637 909M637 909Q631 915 626 922M626 922Q625 921 623 922M640 952Q643 944 643 944M666 940Q659 937 653 934M643 944Q646 939 653 934M671 904Q683 910 687 922M671 904Q660 915 652 931M652 931Q651 932 653 934M661 894Q668 896 668 896M661 894Q657 883 651 873M668 896Q675 892 680 884M680 884Q677 874 675 861M651 873Q652 862 652 851M675 861Q669 853 664 850M652 851Q658 851 664 850M639 902Q648 900 661 894M671 904Q666 898 668 896M637 909Q640 920 646 925M646 925Q648 926 652 931M625 876Q642 874 651 873M652 850Q651 853 652 851M684 829Q671 840 664 850M699 837Q697 845 698 851M698 851Q683 853 675 861M725 881Q717 884 707 887M736 889Q729 898 722 906M707 887Q715 898 722 906M727 921Q721 919 719 915M697 926Q702 923 707 919M707 919Q712 919 719 915M719 915Q718 910 722 906M690 882Q695 869 700 853M690 882Q694 882 696 884M698 884Q695 886 696 884M698 884Q707 872 717 865M717 865Q708 859 700 853M698 851Q696 853 700 853M680 884Q682 885 690 882M707 919Q701 900 696 884M707 887Q702 885 698 884M719 865Q716 864 717 865M267 967Q266 971 271 975M267 967Q265 972 264 969M264 969Q262 972 258 976M258 976Q260 983 264 986M271 975Q271 982 264 986M267 967Q268 966 269 964M264 969Q258 967 254 962M268 950Q270 957 269 964M411 809Q413 812 414 813M414 826Q411 829 410 828M414 826Q411 828 414 826M391 815Q393 821 391 824M414 813Q414 822 414 826M391 824Q400 828 410 828M414 826Q412 838 412 852M403 851Q398 847 400 847M400 847Q403 837 409 829M410 828Q410 827 409 829M400 847Q392 846 387 849M389 838Q396 834 409 829M389 838Q387 837 387 840M387 840Q386 843 387 849M411 1092Q408 1091 402 1091M411 1092Q414 1089 414 1087M420 1089Q418 1092 421 1096M420 1089Q418 1088 414 1087M421 1096Q416 1100 414 1101M414 1101Q411 1095 411 1092M408 1129Q405 1122 405 1112M408 1129Q419 1125 427 1124M412 1109Q412 1111 411 1109M412 1109Q420 1115 428 1123M411 1109Q407 1110 406 1109M405 1112Q404 1111 406 1109M428 1123Q429 1124 427 1124M403 1135Q403 1127 402 1115M403 1135Q403 1134 408 1129M402 1115Q404 1117 405 1112M421 1096Q427 1099 429 1097M427 1102Q417 1108 412 1109M414 1101Q413 1106 411 1109M409 875Q413 878 418 882M409 875Q403 882 395 891M395 891Q403 891 410 892M410 892Q414 890 416 889M416 889Q417 886 418 882M409 875Q409 875 408 872M422 873Q419 868 412 867M422 873Q423 879 418 882M408 872Q407 870 409 871M409 870Q412 872 409 871M418 882Q417 880 418 882M571 821Q577 806 578 795M571 821Q575 827 575 832M581 835Q580 831 575 832M581 835Q596 820 613 805M578 795Q586 793 592 790M592 790Q595 791 596 792M596 792Q604 796 613 805M561 846Q567 838 575 832M590 843Q586 840 581 835M615 806Q614 807 613 805M555 847Q548 840 540 829M571 821Q564 820 554 821M554 821Q547 825 540 829M522 834Q524 843 525 846M522 834Q522 830 527 827M540 829Q534 827 527 827M500 813Q501 823 500 836M522 834Q511 836 503 838M516 810Q518 809 518 811M518 811Q520 816 526 822M500 836Q502 837 503 838M527 827Q525 825 526 822M517 790Q524 793 529 793M517 790Q516 785 516 780M516 780Q519 777 521 776M529 793Q527 790 529 793M529 793Q528 787 523 778M521 776Q522 779 523 778M512 795Q516 792 517 790M518 811Q524 800 529 793M506 782Q511 782 516 780M568 790Q565 781 563 775M568 790Q571 792 578 795M482 822Q481 821 483 817M482 822Q483 826 482 831M500 836Q492 834 486 832M486 832Q482 831 482 831M502 857Q498 850 500 848M502 857Q498 860 497 863M500 848Q495 853 486 853M497 863Q490 861 477 862M486 853Q483 854 476 860M477 862Q478 860 476 860M505 858Q502 857 502 857M503 838Q500 842 500 848M498 879Q498 871 497 863M486 832Q483 842 486 853M482 831Q482 832 482 831M482 831Q477 837 473 847M473 847Q469 854 472 856M472 856Q473 859 476 860M478 869Q466 872 461 872M478 869Q476 866 477 862M461 872Q459 864 461 860M469 856Q465 856 461 860M469 856Q468 853 472 856M440 807Q434 804 430 805M440 807Q445 802 450 798M450 798Q448 793 442 781M430 800Q430 800 430 805M430 800Q433 794 436 784M436 784Q438 783 439 782M459 797Q459 801 455 799M455 799Q452 800 450 798M426 793Q429 796 430 800M414 813Q420 806 430 805M425 785Q431 782 436 784M430 869Q430 864 431 858M430 869Q425 870 422 873M417 859Q424 857 430 857M430 857Q431 858 431 858M463 819Q464 813 465 814M463 819Q464 822 458 826M458 826Q454 820 454 814M465 814Q461 810 457 807M457 807Q456 809 454 814M474 809Q470 812 465 814M482 822Q474 820 463 819M455 799Q457 804 457 807M443 814Q450 812 454 814M443 814Q440 811 440 807M603 998Q603 998 603 998M604 1002Q600 1004 596 1009M565 1080Q559 1080 553 1078M565 1080Q570 1079 575 1074M556 1068Q557 1068 562 1067M556 1068Q556 1069 555 1071M555 1071Q554 1072 553 1078M562 1067Q566 1073 575 1074M565 1080Q565 1091 566 1100M580 1093Q578 1080 576 1074M567 1101Q567 1103 566 1100M575 1074Q572 1072 576 1074M624 1045Q624 1044 621 1042M621 1042Q625 1038 627 1030M627 1030Q626 1029 629 1029M629 1029Q630 1029 629 1029M614 1038Q618 1039 621 1042M620 1020Q625 1024 627 1030M506 1074Q509 1076 512 1077M506 1074Q511 1071 514 1062M523 1065Q520 1070 514 1075M523 1065Q521 1063 521 1061M512 1077Q512 1076 514 1075M529 1051Q531 1059 536 1063M523 1065Q530 1065 534 1067M536 1063Q535 1062 534 1067M514 1075Q526 1075 535 1072M534 1067Q537 1069 535 1072M551 1098Q546 1098 542 1102M551 1098Q551 1087 552 1079M542 1102Q538 1102 537 1099M537 1099Q536 1094 530 1089M530 1089Q535 1084 537 1076M552 1079Q546 1077 541 1076M541 1076Q541 1079 537 1076M566 1100Q556 1095 551 1098M551 1127Q547 1126 544 1121M544 1121Q543 1112 542 1102M553 1078Q550 1079 552 1079M518 1087Q524 1087 530 1089M518 1087Q516 1084 512 1077M535 1072Q536 1073 537 1076M555 1071Q551 1069 547 1067M547 1067Q543 1071 541 1076M547 1067Q545 1067 544 1061M544 1061Q545 1061 542 1060M542 1060Q539 1062 536 1063M519 1143Q512 1131 508 1122M519 1143Q527 1131 538 1123M538 1123Q528 1119 517 1113M508 1122Q511 1116 516 1114M516 1114Q517 1113 517 1113M519 1148Q517 1149 519 1143M508 1122Q507 1123 508 1122M544 1121Q541 1126 538 1123M537 1099Q530 1108 517 1113M512 1097Q513 1106 516 1114M512 1097Q505 1098 500 1097M490 1107Q492 1106 490 1107M512 1097Q515 1090 518 1087M624 1045Q624 1050 623 1052M483 1082Q479 1080 472 1082M484 1079Q481 1078 483 1076M483 1076Q480 1075 477 1072M472 1082Q474 1073 477 1072M482 1096Q477 1096 474 1093M474 1093Q471 1090 465 1086M472 1082Q470 1086 465 1086M444 1084Q444 1086 442 1088M444 1084Q436 1082 428 1083M442 1088Q439 1090 432 1093M432 1093Q430 1091 427 1084M438 1103Q441 1102 445 1101M445 1101Q443 1095 442 1088M431 1097Q429 1096 432 1093M420 1089Q424 1087 427 1084M469 1109Q467 1109 469 1113M469 1109Q468 1106 466 1104M469 1113Q460 1107 452 1106M466 1104Q462 1105 457 1099M457 1099Q453 1100 451 1104M451 1104Q452 1104 452 1106M484 1101Q478 1107 469 1109M469 1124Q467 1116 469 1113M474 1093Q472 1098 466 1104M449 1123Q453 1126 454 1126M449 1123Q450 1116 452 1106M461 1085Q462 1086 465 1086M461 1085Q458 1089 457 1099M533 914Q538 919 543 923M567 916Q565 918 558 924M627 924Q622 928 621 938M627 924Q633 929 633 931M634 935Q635 931 633 931M634 935Q630 938 622 940M622 940Q621 938 621 938M611 930Q614 934 621 938M626 922Q628 925 627 924M646 925Q638 924 633 931M643 944Q639 939 634 935M621 949Q622 943 622 940M441 1157Q441 1158 438 1159M452 1153Q448 1152 443 1154M441 1157Q440 1156 443 1154M461 1085Q462 1084 460 1083M477 1072Q475 1071 476 1069M476 1069Q474 1072 471 1070M471 1070Q465 1077 460 1083M488 1068Q486 1065 482 1061M488 1068Q493 1072 503 1074M501 1064Q491 1061 482 1060M501 1064Q502 1068 503 1074M503 1074Q501 1072 503 1074M483 1076Q488 1071 488 1068M500 1076Q500 1075 503 1074M506 1074Q507 1075 503 1074M408 872Q406 872 404 872M382 827Q382 826 384 828M382 827Q383 823 387 819M384 828Q388 824 391 824M387 819Q390 822 391 824M389 838Q386 832 384 828M391 824Q392 823 391 824M385 816Q385 816 387 819M374 836Q372 841 371 845M368 846Q369 845 371 845M387 840Q384 837 374 836M386 851Q376 850 371 845M386 851Q386 848 387 849M403 1135Q404 1135 403 1135M427 1124Q424 1133 421 1143M421 1143Q419 1143 418 1145M403 1135Q412 1138 418 1145M438 1159Q429 1156 417 1154M414 1156Q415 1154 417 1154M382 1160Q387 1157 389 1157M382 1160Q382 1164 383 1168M393 1156Q388 1156 389 1157M402 1115Q397 1118 392 1125M392 1125Q393 1127 392 1127M403 1135Q403 1136 400 1135M400 1135Q398 1134 395 1132M392 1127Q391 1128 395 1132M373 1123Q366 1124 360 1129M373 1123Q372 1124 375 1126M368 1141Q367 1145 366 1143M368 1141Q372 1135 375 1132M360 1129Q361 1136 366 1143M375 1126Q374 1128 375 1132M379 1142Q374 1142 368 1141M379 1142Q380 1140 381 1139M375 1132Q377 1138 381 1139M398 1092Q400 1099 398 1103M383 1103Q394 1101 398 1103M392 1125Q392 1120 388 1115M406 1109Q403 1105 400 1105M388 1115Q395 1108 400 1105M398 1103Q400 1104 400 1105M271 975Q277 980 281 983M280 984Q283 984 281 983M194 986Q196 985 200 982M194 986Q189 982 182 979M207 973Q205 978 200 982M172 987Q178 983 182 979M416 889Q416 891 426 896M418 882Q423 881 428 883M426 896Q427 888 428 883M430 869Q430 873 435 880M435 880Q430 883 428 883M478 869Q479 872 479 875M461 872Q459 873 459 875M459 875Q461 878 466 879M466 879Q471 877 479 875M482 879Q479 877 482 879M482 879Q481 877 479 875M401 909Q399 906 396 897M391 916Q386 914 387 914M387 914Q389 905 396 897M551 799Q553 809 551 814M551 799Q544 804 539 807M551 814Q543 811 539 808M539 807Q540 805 539 808M556 792Q563 789 568 790M556 792Q553 795 551 799M554 821Q552 820 551 814M526 822Q532 816 539 808M536 782Q543 782 546 784M536 782Q532 785 531 793M533 794Q530 792 531 793M533 794Q540 791 552 791M552 791Q547 787 546 784M529 793Q530 792 531 793M523 778Q528 780 535 780M535 780Q537 780 536 782M539 807Q537 797 533 794M556 792Q553 790 552 791M563 775Q553 770 546 769M546 784Q544 782 545 780M545 780Q545 773 546 769M546 769Q541 762 537 759M482 831Q471 831 458 829M473 847Q465 838 457 832M457 832Q454 830 458 829M458 826Q458 828 458 827M458 829Q459 826 458 827M603 998Q601 1000 595 1003M592 1071Q584 1071 579 1071M576 1074Q580 1072 579 1071M579 1071Q579 1072 579 1071M610 1065Q612 1062 609 1055M610 1065Q611 1064 610 1065M610 1065Q613 1058 614 1054M609 1055Q609 1054 614 1054M596 1065Q597 1061 596 1057M596 1065Q606 1068 610 1065M599 1048Q604 1049 609 1055M599 1048Q594 1054 596 1057M592 1071Q594 1067 596 1065M623 1052Q621 1048 614 1054M549 967Q554 970 562 980M562 980Q563 981 564 984M366 1144Q363 1146 361 1152M366 1144Q373 1144 378 1145M379 1146Q375 1151 369 1156M379 1146Q378 1146 378 1145M369 1156Q367 1156 363 1155M363 1155Q364 1154 360 1153M360 1153Q363 1151 361 1152M360 1129Q360 1128 355 1129M355 1129Q358 1141 361 1152M366 1143Q366 1143 366 1144M379 1142Q379 1144 378 1145M382 1148Q381 1155 382 1160M382 1148Q381 1150 379 1146M382 1160Q373 1155 369 1156M360 1153Q358 1162 356 1167M360 1153Q360 1153 360 1153M343 1167Q340 1162 344 1156M349 1169Q351 1163 351 1155M344 1156Q346 1153 351 1155M360 1153Q361 1151 359 1153M359 1153Q353 1155 351 1155M330 1154Q334 1151 333 1152M330 1154Q330 1154 328 1154M328 1154Q327 1160 327 1170M333 1152Q338 1155 344 1156M454 1131Q451 1135 447 1140M443 1154Q441 1152 442 1153M447 1140Q446 1146 442 1153M454 1080Q450 1082 449 1079M460 1083Q458 1083 454 1080M445 1101Q449 1103 451 1104M444 1084Q445 1082 449 1079M382 1160Q383 1162 382 1160M327 903Q327 905 328 913M346 900Q339 893 332 889M346 900Q339 902 335 904M335 904Q333 903 332 901M332 889Q331 895 332 901M333 912Q336 909 335 904M333 912Q333 914 329 914M329 914Q331 912 328 913M327 903Q329 901 332 901M300 989Q300 990 301 988M364 927Q360 929 358 926M364 927Q363 937 356 946M356 946Q353 947 350 947M350 947Q343 947 345 943M342 939Q345 943 345 943M342 939Q341 938 343 936M358 926Q350 932 343 936M368 846Q363 849 358 852M400 1139Q398 1148 402 1152M400 1139Q395 1143 392 1146M392 1146Q393 1145 393 1147M393 1147Q394 1154 395 1155M402 1152Q397 1153 395 1155M400 1135Q400 1136 400 1139M418 1145Q418 1149 417 1154M414 1156Q405 1156 402 1152M393 1156Q391 1155 395 1155M389 1157Q389 1151 387 1149M387 1149Q391 1148 393 1147M385 1140Q384 1139 388 1137M385 1140Q387 1141 385 1145M388 1137Q388 1141 391 1145M391 1145Q387 1144 386 1146M385 1145Q387 1147 386 1146M392 1127Q382 1128 375 1126M395 1132Q392 1137 388 1137M381 1139Q381 1141 385 1140M382 1148Q385 1146 385 1145M392 1146Q392 1146 391 1145M387 1149Q386 1145 386 1146M269 964Q270 964 274 965M274 965Q277 968 280 970M281 983Q282 981 282 980M280 970Q282 974 282 980M209 971Q220 977 234 986M209 971Q207 971 207 973M209 971Q210 967 210 963M268 950Q275 949 277 949M277 949Q285 940 292 931M410 892Q414 896 412 896M412 896Q418 898 424 902M426 896Q426 897 428 900M424 902Q426 903 428 900M485 894Q479 899 477 902M459 875Q454 875 456 876M466 879Q462 882 462 887M462 887Q458 881 456 876M448 862Q454 863 461 860M448 862Q449 868 449 876M456 876Q450 878 449 876M448 862Q446 861 447 862M447 862Q440 860 431 858M441 883Q437 880 435 880M441 883Q444 879 447 878M449 876Q448 874 447 878M453 897Q451 899 453 898M453 897Q455 895 460 892M460 892Q461 891 462 891M462 891Q467 893 469 894M469 894Q469 900 471 900M441 883Q440 883 441 884M441 884Q447 889 453 897M447 878Q455 887 460 892M462 887Q463 888 462 891M482 879Q473 883 469 894M373 939Q374 934 375 931M389 929Q381 927 375 927M375 927Q375 927 375 927M375 927Q377 932 375 931M363 949Q370 945 373 939M364 927Q367 925 369 925M363 949Q357 949 356 946M369 925Q374 927 375 927M368 923Q365 917 368 913M368 923Q364 919 358 916M358 916Q358 911 355 906M355 906Q359 903 363 904M368 913Q365 908 363 904M348 901Q351 899 349 897M348 901Q351 902 350 905M350 905Q353 907 355 906M361 889Q355 893 349 897M361 889Q365 894 369 895M363 904Q366 899 369 895M537 777Q539 776 543 779M537 777Q538 773 537 772M537 772Q541 771 543 779M535 780Q535 777 537 777M545 780Q543 780 543 779M537 759Q538 764 537 772M443 814Q442 816 443 819M458 827Q454 827 445 822M443 819Q443 823 445 822M456 834Q455 837 449 840M456 834Q461 844 464 852M449 840Q452 844 451 846M464 852Q457 846 451 846M469 856Q468 851 464 852M457 832Q457 835 456 834M447 862Q447 853 451 846M556 1068Q554 1061 553 1061M544 1061Q544 1060 551 1060M551 1060Q551 1061 553 1061M562 1067Q562 1063 564 1061M579 1071Q573 1065 571 1057M564 1061Q567 1059 571 1057M557 1058Q553 1060 553 1061M557 1058Q558 1056 559 1057M564 1061Q562 1058 559 1057M562 980Q560 968 561 954M579 950Q569 950 567 951M561 954Q565 952 567 951M556 955Q553 954 559 954M561 954Q561 955 559 954M337 1140Q343 1138 350 1141M337 1140Q337 1137 336 1134M336 1134Q339 1131 348 1127M350 1141Q352 1134 352 1128M348 1127Q349 1127 350 1126M350 1126Q352 1125 352 1128M359 1153Q354 1147 350 1141M333 1152Q334 1148 337 1140M330 1118Q331 1124 329 1129M330 1118Q335 1121 348 1127M329 1129Q335 1130 336 1134M355 1129Q350 1129 352 1128M351 1117Q350 1114 349 1114M351 1117Q350 1123 350 1126M330 1118Q332 1117 330 1115M449 1123Q444 1121 433 1123M447 1140Q442 1143 442 1139M442 1139Q437 1128 433 1123M432 1119Q433 1122 431 1123M433 1123Q432 1122 431 1123M428 1123Q430 1123 431 1123M431 1123Q431 1123 431 1123M436 1146Q436 1147 439 1149M436 1146Q436 1142 435 1136M439 1149Q440 1141 440 1139M435 1136Q438 1137 440 1139M421 1143Q428 1143 436 1146M442 1153Q442 1152 439 1149M431 1123Q433 1128 435 1136M442 1139Q441 1138 440 1139M292 931Q293 933 295 933M295 933Q305 930 319 926M327 921Q327 922 320 927M327 921Q335 924 342 926M342 939Q333 938 324 936M342 926Q341 933 343 936M324 936Q322 932 320 927M327 921Q330 918 329 914M320 927Q321 925 319 926M350 919Q351 914 349 907M350 919Q349 919 350 920M350 920Q344 920 344 923M344 923Q341 921 339 914M339 914Q346 912 349 907M358 916Q354 917 350 919M350 905Q347 907 349 907M369 925Q369 924 368 923M358 926Q355 922 350 920M342 926Q343 927 344 923M333 912Q334 914 339 914M348 901Q346 901 346 900M350 947Q350 954 348 962M345 943Q335 950 327 958M327 958Q329 957 329 963M348 962Q337 960 329 963M363 861Q370 859 373 862M358 852Q357 858 356 857M363 861Q364 859 359 861M359 861Q356 861 356 857M346 886Q346 879 344 876M349 897Q346 893 347 887M346 886Q345 883 347 887M351 1117Q356 1116 362 1116M349 1114Q349 1114 349 1112M363 1106Q361 1110 362 1116M373 1123Q371 1123 372 1121M372 1121Q365 1117 362 1116M388 1115Q384 1115 377 1110M372 1121Q373 1114 377 1110M280 984Q277 983 281 985M282 980Q286 977 291 976M291 976Q299 983 301 987M301 988Q298 987 301 988M301 987Q300 986 301 988M229 961Q230 958 233 959M229 961Q235 969 237 982M233 959Q237 958 240 960M240 960Q241 964 244 971M244 971Q244 974 243 976M243 976Q242 979 237 982M210 963Q219 959 229 961M234 986Q237 985 237 982M254 962Q248 968 244 971M258 976Q249 973 243 976M441 884Q438 893 435 902M428 900Q431 900 432 901M432 901Q433 898 435 902M435 902Q436 901 435 902M412 896Q412 903 413 909M396 897Q396 895 394 892M376 907Q371 908 374 910M376 907Q380 912 384 910M374 910Q378 913 383 915M384 910Q382 913 384 914M384 914Q384 913 383 915M368 913Q373 913 374 910M378 893Q377 902 376 907M378 893Q369 894 369 895M386 891Q383 901 384 910M375 927Q379 920 383 915M387 914Q387 914 384 914M440 840Q439 832 442 829M440 840Q437 841 432 842M442 829Q435 826 430 825M432 842Q427 834 418 828M418 828Q425 829 430 825M445 822Q444 827 442 829M449 840Q445 841 440 840M430 857Q430 850 432 842M443 819Q437 822 430 825M414 826Q416 828 418 828M557 1058Q556 1054 553 1048M551 1060Q550 1054 551 1050M553 1048Q551 1048 551 1050M542 1060Q543 1053 544 1050M551 1050Q546 1049 544 1050M537 1039Q539 1043 543 1048M530 1049Q536 1053 544 1050M543 1048Q543 1048 544 1050M544 1050Q543 1049 544 1050M596 1057Q593 1057 584 1055M584 1039Q586 1047 584 1055M579 1071Q578 1063 583 1055M584 1055Q583 1054 583 1055M562 1046Q566 1042 571 1040M562 1046Q563 1049 563 1048M563 1048Q568 1051 572 1054M571 1040Q579 1038 581 1040M581 1040Q577 1048 574 1053M572 1054Q571 1051 574 1053M559 1057Q562 1052 563 1048M571 1057Q572 1058 572 1054M566 1029Q569 1035 571 1040M583 1055Q577 1052 574 1053M557 928Q555 933 558 932M558 932Q555 942 554 947M558 924Q557 925 557 928M567 951Q563 941 558 932M559 954Q555 949 554 947M330 1115Q330 1117 330 1115M320 1115Q318 1113 316 1112M320 1115Q324 1113 330 1115M277 949Q281 952 284 954M295 933Q295 933 298 940M284 954Q294 949 298 940M274 965Q276 960 283 959M280 970Q283 970 286 966M286 966Q284 963 283 959M284 954Q287 954 284 955M283 959Q284 956 284 955M298 943Q291 949 286 955M298 943Q294 942 298 940M298 940Q297 940 298 940M284 955Q286 952 286 955M320 953Q320 943 322 939M320 953Q312 945 304 942M304 942Q314 939 322 939M327 958Q323 957 321 955M321 955Q320 955 320 953M324 936Q323 938 322 939M298 940Q302 940 304 942M358 880Q358 880 358 881M358 880Q358 873 360 868M376 880Q372 876 360 868M376 880Q369 879 358 881M358 881Q357 883 358 881M347 887Q353 882 358 881M344 876Q351 879 358 880M359 861Q360 866 360 868M361 889Q358 883 358 881M367 1105Q373 1107 377 1109M378 1108Q376 1109 377 1109M377 1110Q378 1108 377 1109M383 1103Q381 1104 378 1108M566 1029Q563 1029 560 1030M562 1046Q565 1047 562 1045M562 1045Q561 1038 560 1030M553 1048Q555 1046 555 1046M562 1045Q557 1047 555 1046M303 1105Q303 1107 302 1115M316 1112Q316 1113 309 1115M302 1115Q306 1117 309 1115M316 1150Q309 1155 307 1162M316 1150Q316 1148 315 1147M315 1147Q309 1144 300 1143M307 1162Q305 1163 303 1164M328 1154Q323 1153 316 1150M303 1164Q301 1163 303 1166M297 968Q300 973 306 977M297 968Q296 965 296 965M296 965Q296 964 298 960M313 959Q309 962 300 958M313 959Q311 966 313 972M300 958Q299 961 298 960M313 972Q309 974 310 975M310 975Q308 976 306 977M291 976Q290 974 297 968M301 988Q302 987 304 985M304 985Q305 981 306 977M286 966Q289 963 296 965M286 955Q296 957 298 960M321 955Q318 959 313 959M298 943Q300 948 300 958M329 975Q328 973 329 974M321 984Q313 985 310 975M313 972Q323 978 329 975M329 963Q330 970 329 974M545 1044Q548 1041 553 1043M545 1044Q547 1040 545 1035M553 1043Q549 1041 549 1034M545 1035Q547 1035 549 1034M543 1048Q542 1050 545 1044M555 1046Q555 1046 553 1043M542 1035Q544 1034 545 1035M320 1115Q318 1121 313 1125M309 1115Q313 1116 313 1125M313 1125Q315 1126 313 1125M328 1130Q326 1131 325 1136M328 1130Q328 1128 325 1129M325 1129Q321 1135 315 1140M325 1136Q323 1140 316 1143M316 1143Q317 1144 315 1140M330 1154Q326 1147 325 1136M329 1129Q332 1128 328 1130M317 1129Q316 1128 313 1125M317 1129Q323 1130 325 1129M317 1129Q318 1133 315 1138M315 1138Q314 1136 315 1140M315 1147Q315 1144 316 1143M304 1131Q305 1127 307 1127M304 1131Q301 1133 297 1137M307 1127Q302 1125 301 1118M315 1138Q309 1135 304 1131M313 1125Q310 1126 307 1127M302 1115Q303 1114 301 1118M304 985Q311 988 316 989" fill="none" stroke="#8c8c8c" stroke-width="1.35" opacity="0.9"/>
<path d="M469 795Q466 788 464 782M476 790Q473 787 476 785M476 785Q471 783 464 782M500 927Q496 932 495 932M500 927Q496 919 490 914M490 914Q489 914 490 914M490 914Q493 927 495 932M490 914Q488 917 485 921M495 932Q496 930 495 932M495 932Q490 932 484 928M484 928Q485 924 485 921M448 766Q448 766 448 766M448 775Q448 772 448 766M448 775Q446 776 443 779M443 779Q439 773 433 765M505 926Q505 929 502 927M505 926Q506 925 509 921M502 927Q500 924 500 927M490 914Q487 914 490 912M490 912Q499 918 509 921M464 782Q462 779 463 782M460 781Q462 781 463 782M502 927Q501 931 502 939M495 932Q494 932 495 937M502 939Q497 937 495 937M505 926Q511 931 511 937M511 937Q508 941 510 939M502 939Q505 941 507 942M510 939Q510 940 507 942M516 1018Q519 1018 519 1014M516 1018Q514 1013 508 1012M508 1012Q506 1009 506 1008M519 1014Q520 1013 519 1013M519 1013Q514 1011 510 1006M510 1006Q507 1007 506 1008M530 1003Q532 1004 533 1007M530 1003Q526 1003 520 1004M533 1007Q524 1006 520 1008M520 1004Q521 1004 520 1008M534 1009Q535 1013 534 1014M534 1009Q534 1009 533 1007M534 1014Q526 1014 519 1014M519 1013Q518 1010 520 1008M502 998Q504 1005 505 1008M502 998Q505 996 506 995M506 995Q506 995 507 995M507 995Q511 994 510 996M505 1008Q503 1013 505 1008M505 1008Q507 1010 506 1008M510 1006Q510 1003 513 1001M510 996Q513 999 513 1001M478 936Q473 932 473 929M478 936Q481 931 484 928M485 921Q479 921 473 920M473 929Q471 923 473 920M512 908Q514 911 514 918M490 912Q490 914 490 912M490 912Q493 908 497 905M509 921Q510 922 514 918M448 775Q452 772 456 776M456 776Q464 773 471 766M506 782Q499 777 501 775M501 775Q498 776 495 776M495 776Q495 780 493 783M490 787Q494 788 491 786M491 786Q491 784 493 783M516 1021Q522 1023 524 1026M516 1021Q516 1021 516 1018M534 1014Q534 1014 535 1016M535 1016Q531 1022 524 1026M530 1049Q520 1047 512 1039M532 1040Q526 1036 527 1035M512 1039Q519 1036 525 1034M527 1035Q528 1033 525 1034M511 1050Q511 1050 504 1045M511 1040Q509 1046 504 1045M511 1040Q511 1041 512 1039M537 1039Q535 1042 532 1040M540 1036Q537 1035 534 1030M534 1030Q528 1033 527 1035M590 1038Q590 1032 591 1029M590 1038Q597 1041 600 1043M600 1043Q605 1040 610 1038M610 1038Q607 1027 603 1020M603 1020Q598 1023 592 1026M591 1029Q592 1026 592 1026M610 1038Q612 1037 614 1038M603 1020Q605 1022 604 1018M511 1050Q511 1054 512 1052M377 1045Q382 1045 389 1042M377 1045Q378 1044 378 1042M389 1042Q389 1039 391 1039M385 1036Q381 1040 378 1042M385 1036Q386 1034 388 1035M388 1035Q389 1038 391 1039M589 984Q591 979 596 974M589 984Q575 985 564 984M564 984Q565 986 564 984M479 940Q477 942 478 939M479 940Q485 937 491 939M478 939Q479 936 478 936M495 937Q497 936 495 937M491 939Q491 937 495 937M518 927Q522 926 522 930M518 927Q517 923 517 920M522 930Q526 927 530 924M517 920Q523 917 529 918M529 918Q529 921 530 924M511 937Q517 932 518 927M510 939Q516 940 521 942M521 942Q521 936 525 933M525 933Q521 931 522 930M514 918Q514 916 517 920M314 1024Q306 1029 301 1037M314 1024Q318 1023 320 1026M320 1026Q320 1025 320 1026M320 1026Q319 1032 315 1039M315 1039Q307 1038 303 1041M301 1037Q301 1038 301 1041M301 1041Q303 1038 303 1041M428 1070Q421 1070 417 1069M428 1070Q425 1073 420 1078M417 1069Q415 1072 416 1077M420 1078Q417 1078 416 1077M390 1080Q398 1081 404 1078M390 1080Q389 1079 390 1080M390 1069Q388 1072 390 1080M390 1069Q394 1068 393 1066M393 1066Q394 1066 403 1069M404 1078Q406 1074 403 1069M402 1091Q408 1085 411 1080M414 1087Q412 1084 412 1080M412 1080Q412 1080 411 1080M411 1080Q410 1080 411 1080M390 1083Q389 1081 390 1080M390 1083Q395 1088 398 1092M398 1092Q400 1090 402 1091M404 1078Q407 1078 411 1080M390 1083Q386 1086 382 1091M390 1080Q380 1078 368 1077M368 1077Q369 1079 367 1080M367 1080Q371 1084 374 1090M382 1091Q376 1089 374 1090M290 1040Q286 1041 281 1044M290 1040Q288 1035 287 1030M287 1030Q284 1030 281 1030M281 1030Q280 1034 279 1037M281 1044Q279 1040 279 1037M301 1037Q298 1032 297 1026M297 1025Q297 1025 297 1026M297 1025Q293 1024 293 1024M301 1041Q300 1039 301 1041M301 1041Q295 1041 290 1040M293 1024Q292 1028 287 1030M280 1029Q277 1028 281 1030M280 1029Q280 1022 280 1017M293 1024Q292 1019 288 1017M288 1017Q284 1018 280 1017M325 1028Q329 1025 337 1024M325 1028Q325 1032 329 1034M337 1024Q335 1026 338 1029M338 1029Q338 1031 335 1037M329 1034Q332 1033 335 1037M317 1046Q320 1048 325 1053M317 1046Q317 1038 317 1041M317 1041Q319 1040 319 1041M319 1041Q322 1041 326 1044M326 1044Q327 1045 328 1047M325 1053Q327 1049 328 1049M328 1049Q328 1049 328 1047M315 1039Q317 1039 317 1041M313 1052Q309 1049 303 1041M313 1052Q314 1049 317 1046M325 1028Q322 1027 320 1026M329 1034Q325 1037 328 1036M328 1036Q322 1037 319 1041M328 1036Q330 1042 326 1044M335 1037Q339 1039 337 1039M337 1039Q335 1041 336 1040M336 1040Q331 1045 328 1047M336 1050Q331 1047 328 1049M336 1050Q336 1047 336 1040M343 1030Q340 1029 338 1029M343 1030Q343 1033 345 1036M337 1039Q338 1040 338 1039M345 1036Q340 1037 338 1039M338 1052Q337 1050 336 1050M338 1052Q342 1051 344 1048M344 1048Q342 1049 344 1048M344 1048Q341 1041 338 1039M505 1008Q505 1011 504 1019M508 1012Q507 1015 507 1019M504 1019Q509 1019 507 1019M516 1021Q515 1023 514 1023M507 1019Q510 1021 514 1023M511 1040Q511 1034 512 1027M524 1026Q524 1030 525 1031M525 1031Q525 1031 525 1034M514 1023Q510 1025 512 1027M520 996Q521 996 520 999M520 996Q519 992 518 993M518 993Q520 999 516 1001M520 999Q520 1000 518 1002M518 1002Q515 1003 516 1001M517 990Q516 991 518 993M517 990Q512 993 510 996M513 1001Q515 1000 516 1001M520 1004Q518 1003 518 1002M503 768Q503 770 501 775M442 781Q442 785 440 782M439 782Q439 783 440 782M443 779Q441 780 442 781M456 776Q460 779 460 781M463 782Q465 778 473 776M471 766Q469 766 471 767M473 776Q472 773 471 767M489 773Q487 774 484 774M489 773Q493 775 492 775M492 775Q491 778 490 778M490 778Q487 780 485 784M484 774Q481 778 477 783M485 784Q482 785 477 784M477 784Q474 783 477 783M471 767Q473 775 484 774M495 776Q493 776 492 775M491 786Q488 781 490 778M490 787Q489 785 485 784M473 776Q472 781 477 783M476 785Q476 785 477 784M589 984Q592 985 592 991M592 991Q597 994 603 998M604 1018Q600 1017 597 1014M597 1014Q595 1012 596 1009M543 1018Q544 1021 547 1022M543 1018Q538 1015 536 1017M547 1022Q541 1023 540 1030M536 1017Q537 1020 536 1024M540 1030Q537 1029 536 1024M536 1024Q535 1020 536 1024M547 1000Q551 1004 549 1013M547 1000Q539 1003 534 1009M535 1016Q538 1017 536 1017M549 1013Q546 1016 543 1018M525 1031Q531 1029 536 1024M540 1036Q542 1036 542 1035M542 1035Q539 1034 540 1030M534 1030Q534 1025 536 1024M547 1000Q548 994 552 993M558 1016Q556 1015 549 1013M558 1016Q562 1013 563 1011M552 993Q555 991 558 989M563 1011Q561 1001 558 989M428 1083Q429 1082 427 1084M427 1084Q425 1082 427 1084M420 1078Q420 1079 427 1084M416 1077Q415 1077 412 1080M388 1035Q388 1034 389 1031M389 1031Q388 1030 392 1028M392 1028Q394 1029 396 1035M391 1039Q390 1043 391 1039M391 1039Q394 1038 396 1035M398 1053Q397 1049 394 1050M398 1053Q397 1051 398 1053M398 1053Q391 1056 386 1053M394 1050Q390 1053 386 1051M386 1053Q386 1054 386 1051M393 1064Q396 1060 399 1055M393 1064Q386 1060 383 1055M398 1053Q397 1055 399 1054M399 1054Q399 1052 399 1055M386 1053Q384 1056 383 1055M530 951Q531 949 526 950M530 951Q526 951 528 956M526 950Q526 953 526 953M528 956Q528 952 526 953M508 950Q505 948 507 942M508 950Q510 952 514 951M521 942Q525 945 522 944M507 942Q507 941 507 942M522 944Q523 944 522 946M522 946Q523 948 520 949M520 949Q515 951 514 951M522 946Q521 947 526 950M526 953Q521 951 521 952M520 949Q521 950 521 952M528 956Q529 957 528 961M528 961Q521 961 521 960M521 952Q520 956 521 960M530 1003Q532 999 530 997M552 993Q542 989 532 989M532 989Q529 993 530 997M520 999Q524 997 529 997M530 997Q528 994 529 997M520 996Q519 993 522 995M529 997Q526 997 522 995M530 924Q531 928 532 929M543 923Q538 926 532 929M558 924Q550 923 544 924M543 923Q542 923 544 924M525 933Q527 934 530 933M532 929Q530 931 530 933M522 944Q525 945 524 944M530 951Q532 950 533 948M524 944Q526 944 530 946M533 948Q533 947 530 946M524 944Q530 940 534 937M530 946Q531 942 534 937M530 933Q531 935 534 936M534 936Q532 936 534 937M544 924Q537 928 537 936M534 936Q535 936 536 937M537 936Q535 935 536 937M491 939Q492 943 493 948M495 937Q492 941 497 946M493 948Q494 945 494 948M494 948Q494 944 497 946M507 942Q501 946 499 946M499 946Q501 946 497 946M484 958Q486 959 487 958M484 958Q486 951 487 948M487 958Q487 955 489 948M487 948Q487 948 489 948M492 949Q494 952 491 957M492 949Q491 948 489 948M491 957Q490 959 487 958M479 942Q478 941 479 940M479 942Q487 947 487 948M493 948Q494 947 492 949M516 981Q515 977 515 971M516 981Q513 983 510 982M510 982Q511 984 510 982M510 982Q504 974 499 972M499 972Q512 974 515 971M313 1055Q313 1053 313 1052M313 1055Q311 1056 307 1057M301 1041Q299 1046 298 1052M298 1052Q303 1052 307 1057M482 1060Q484 1061 482 1061M479 1062Q481 1060 482 1061M479 1062Q478 1065 476 1069M501 1046Q502 1045 500 1045M501 1046Q501 1055 501 1064M500 1045Q493 1048 484 1055M484 1055Q483 1061 482 1060M504 1045Q503 1046 501 1046M471 1054Q472 1057 475 1060M471 1054Q468 1057 465 1056M475 1060Q470 1060 464 1062M464 1062Q463 1059 464 1057M464 1057Q467 1057 465 1056M479 1062Q477 1062 475 1060M463 1062Q466 1064 471 1070M463 1062Q468 1063 464 1062M404 872Q395 874 392 872M404 872Q397 876 392 876M392 876Q393 874 392 872M409 871Q398 870 391 866M392 872Q392 869 391 869M391 866Q393 868 391 869M403 1069Q403 1069 404 1069M411 1080Q411 1076 408 1071M408 1071Q405 1071 404 1069M390 1069Q388 1069 386 1068M368 1077Q366 1076 368 1073M386 1068Q380 1067 373 1069M368 1073Q371 1070 373 1069M372 1046Q374 1053 372 1058M372 1046Q370 1046 371 1045M364 1053Q367 1058 368 1059M364 1053Q367 1052 366 1047M371 1045Q370 1045 367 1047M366 1047Q366 1048 367 1047M368 1059Q368 1060 372 1058M382 1091Q381 1097 383 1103M280 1029Q274 1027 267 1029M279 1037Q270 1033 264 1030M264 1030Q265 1029 267 1029M377 1045Q376 1045 377 1045M377 1045Q373 1046 372 1046M378 1042Q378 1040 377 1036M371 1045Q369 1038 367 1033M367 1033Q368 1035 368 1032M377 1036Q372 1034 369 1032M368 1032Q367 1030 369 1032M380 1030Q378 1031 379 1030M380 1030Q379 1030 381 1029M379 1030Q378 1028 375 1027M381 1029Q381 1026 383 1020M374 1025Q374 1026 375 1027M374 1025Q378 1025 381 1020M381 1020Q384 1021 383 1020M385 1036Q384 1032 380 1030M377 1036Q378 1034 379 1030M389 1031Q387 1030 385 1029M385 1029Q385 1029 381 1029M369 1032Q375 1032 375 1027M346 1061Q347 1057 351 1057M346 1061Q344 1054 344 1048M351 1057Q348 1054 348 1050M344 1048Q345 1047 348 1050M338 1052Q339 1058 337 1060M344 1048Q344 1047 344 1048M337 1060Q341 1062 344 1062M345 1062Q346 1062 344 1062M345 1062Q344 1061 346 1061M357 1055Q356 1058 352 1057M357 1055Q357 1059 359 1056M352 1057Q353 1058 356 1064M359 1056Q357 1060 361 1065M361 1065Q359 1065 356 1064M345 1062Q350 1064 350 1066M350 1066Q354 1064 356 1064M351 1057Q351 1057 352 1057M364 1053Q362 1055 359 1056M363 1067Q367 1062 368 1059M363 1067Q360 1067 361 1065M366 1047Q368 1047 365 1047M357 1055Q357 1051 355 1048M365 1047Q362 1047 355 1048M348 1050Q347 1047 354 1047M355 1048Q355 1049 354 1047M367 1033Q364 1033 360 1037M367 1047Q363 1042 360 1039M360 1037Q356 1038 360 1039M343 1030Q342 1027 346 1024M345 1036Q345 1036 349 1035M346 1024Q347 1023 349 1026M349 1026Q353 1030 351 1031M349 1035Q352 1032 351 1031M347 1082Q350 1085 352 1082M347 1082Q346 1079 340 1075M352 1082Q354 1078 353 1073M340 1075Q340 1075 341 1075M341 1075Q347 1070 351 1072M353 1073Q350 1074 351 1072M367 1080Q364 1084 357 1087M368 1073Q368 1072 364 1070M364 1070Q359 1074 353 1073M357 1087Q354 1084 352 1082M344 1062Q343 1067 341 1075M350 1066Q351 1068 351 1072M363 1067Q363 1068 364 1070M510 982Q503 980 493 980M499 972Q501 973 499 972M493 980Q497 978 499 972M386 1005Q381 1004 377 1006M386 1005Q385 1006 387 1004M377 1006Q378 1008 375 1005M378 997Q381 1001 384 999M378 997Q377 997 375 1000M375 1000Q376 1003 375 1005M387 1004Q390 1001 384 999M395 944Q398 950 395 958M395 944Q395 946 396 944M395 958Q402 958 406 956M406 956Q404 954 406 953M406 953Q401 949 396 944M411 938Q408 944 402 943M411 938Q412 942 413 946M413 946Q409 947 408 946M402 943Q407 945 408 946M418 949Q413 949 413 946M418 949Q411 951 406 956M406 956Q407 956 406 956M406 953Q408 949 408 946M396 944Q399 943 400 943M400 943Q401 942 402 943M473 929Q468 930 463 927M463 927Q465 922 467 917M473 920Q473 921 471 918M467 917Q470 920 471 918M488 910Q489 912 490 912M488 910Q482 915 474 914M474 914Q473 919 471 918M385 1029Q381 1022 386 1021M383 1020Q382 1019 383 1020M383 1020Q385 1020 386 1021M372 1017Q376 1018 381 1020M372 1017Q376 1012 378 1012M378 1012Q379 1013 382 1014M383 1020Q382 1019 382 1014M392 1028Q392 1029 393 1025M393 1025Q392 1026 389 1021M389 1021Q389 1021 386 1021M418 949Q420 950 421 949M406 956Q408 957 409 962M416 964Q419 958 421 949M416 964Q413 965 415 964M415 964Q414 960 409 962M386 955Q384 961 382 959M386 955Q388 956 393 962M393 962Q392 964 392 966M392 966Q390 970 386 970M382 959Q383 965 383 968M386 970Q385 969 384 970M383 968Q382 968 384 970M395 958Q395 959 393 962M399 970Q406 966 409 962M399 970Q394 967 392 966M373 953Q372 950 376 952M373 953Q377 961 383 968M376 952Q380 957 382 959M395 891Q396 892 394 892M392 876Q395 883 391 890M391 890Q394 892 394 892M401 909Q397 911 391 916M446 904Q448 903 446 904M446 904Q448 906 446 916M446 904Q451 909 457 913M446 916Q450 918 448 917M448 917Q452 917 456 915M457 913Q458 914 456 915M592 1026Q592 1021 590 1019M597 1014Q595 1012 593 1016M590 1019Q594 1016 593 1016M596 1009Q596 1005 592 1008M595 1003Q596 1005 592 1008M600 1043Q599 1044 599 1048M382 1047Q384 1049 386 1049M382 1047Q386 1047 391 1046M386 1049Q390 1051 391 1047M391 1046Q392 1047 391 1047M377 1045Q375 1045 377 1046M389 1042Q390 1043 391 1046M377 1046Q381 1046 382 1047M394 1050Q392 1048 391 1047M386 1051Q387 1051 386 1049M398 1048Q398 1044 395 1041M398 1048Q397 1049 398 1053M391 1039Q390 1041 395 1041M564 984Q563 982 564 985M549 967Q544 966 542 967M564 985Q560 987 560 988M560 988Q548 984 538 974M542 967Q543 968 541 968M538 974Q537 972 541 968M533 948Q537 950 540 950M536 937Q539 943 541 947M540 950Q538 947 541 947M497 955Q499 959 503 957M497 955Q497 955 497 951M499 951Q497 951 497 951M499 951Q502 951 507 953M503 957Q505 958 506 956M507 953Q508 955 506 956M492 957Q496 956 497 955M492 957Q495 963 498 968M498 968Q501 963 503 957M491 957Q489 957 492 957M494 948Q496 949 497 951M499 946Q499 950 499 951M508 950Q509 956 507 953M517 969Q519 965 520 960M517 969Q516 970 515 970M515 970Q513 966 510 964M517 959Q518 960 520 960M517 959Q515 961 510 960M510 960Q510 961 510 964M528 961Q530 959 529 961M521 969Q520 968 517 969M521 969Q526 963 529 961M521 960Q522 960 520 960M529 961Q530 963 529 961M516 981Q520 980 519 983M519 983Q520 983 523 983M521 969Q524 969 524 970M523 983Q520 974 524 970M515 971Q517 973 515 970M499 972Q500 972 499 970M499 970Q505 967 510 964M514 951Q515 956 517 959M506 956Q507 959 510 960M498 968Q499 967 498 968M498 968Q499 968 499 970M337 1060Q337 1061 331 1062M325 1053Q326 1053 325 1056M331 1062Q329 1061 325 1056M313 1055Q316 1057 318 1058M318 1058Q321 1058 325 1056M340 1075Q337 1072 332 1076M331 1062Q330 1065 331 1064M332 1076Q331 1073 331 1064M459 1062Q456 1063 451 1064M459 1062Q461 1064 462 1063M462 1063Q457 1069 454 1080M449 1079Q448 1076 445 1074M445 1074Q449 1069 451 1064M455 1058Q453 1057 452 1057M455 1058Q456 1059 459 1062M452 1057Q452 1062 451 1064M463 1062Q463 1062 462 1063M464 1057Q459 1056 459 1052M455 1058Q457 1054 459 1052M296 1002Q300 1000 306 999M301 988Q302 993 306 999M373 953Q371 957 368 954M381 973Q381 973 384 970M381 973Q378 974 374 975M368 954Q367 959 366 965M366 965Q370 969 374 975M378 997Q379 993 380 990M380 990Q377 988 371 981M375 1000Q368 1000 368 997M368 997Q369 988 371 981M398 860Q394 857 390 861M391 866Q390 864 391 865M390 861Q390 863 391 865M386 851Q385 853 385 856M390 861Q387 856 385 856M373 1059Q373 1058 375 1060M373 1059Q377 1056 379 1051M375 1060Q379 1059 378 1059M378 1059Q378 1058 381 1054M381 1054Q380 1053 379 1051M373 1069Q374 1064 375 1060M372 1058Q371 1059 373 1059M377 1046Q378 1048 379 1051M386 1068Q380 1065 378 1059M393 1066Q393 1063 393 1064M383 1055Q384 1054 381 1054M357 1087Q355 1088 356 1093M356 1093Q351 1096 350 1096M347 1082Q347 1081 344 1085M350 1096Q349 1093 344 1085M356 1093Q357 1094 356 1093M349 1112Q353 1107 360 1104M349 1112Q348 1105 349 1097M349 1097Q349 1096 350 1096M356 1093Q357 1098 360 1104M300 1014Q307 1019 308 1022M300 1014Q301 1013 300 1014M300 1014Q306 1018 310 1016M310 1016Q311 1019 311 1021M311 1021Q310 1020 308 1022M297 1025Q299 1018 300 1014M297 1026Q301 1024 308 1022M293 1008Q294 1009 299 1010M293 1008Q290 1012 288 1017M299 1010Q298 1014 300 1014M314 1024Q314 1022 311 1021M349 1026Q353 1025 357 1021M351 1031Q351 1030 356 1031M356 1031Q359 1026 360 1027M357 1021Q357 1022 360 1027M368 1032Q364 1028 364 1027M360 1037Q357 1030 356 1031M360 1027Q362 1028 364 1027M375 1005Q372 1008 364 1012M362 999Q367 998 368 997M362 999Q360 1006 361 1011M364 1012Q361 1012 361 1011M359 1040Q353 1035 350 1036M359 1040Q358 1042 356 1044M354 1045Q356 1040 356 1044M354 1045Q351 1040 350 1040M350 1040Q349 1035 350 1036M360 1039Q358 1041 359 1040M349 1035Q349 1034 350 1036M365 1047Q361 1045 356 1044M354 1047Q353 1050 354 1045M344 1048Q345 1046 350 1040M396 1007Q401 1007 402 1002M396 1007Q396 1007 397 1010M402 1002Q400 1011 401 1013M401 1013Q398 1011 397 1010M477 1048Q475 1049 474 1048M477 1048Q478 1043 481 1037M481 1037Q474 1037 471 1039M471 1039Q473 1043 472 1047M472 1047Q472 1047 474 1048M484 1055Q480 1051 477 1048M471 1054Q474 1054 472 1050M472 1050Q474 1050 474 1048M465 1056Q464 1053 466 1051M472 1050Q471 1053 466 1051M452 1057Q450 1056 450 1055M450 1055Q448 1057 446 1057M445 1074Q442 1073 441 1070M446 1057Q441 1062 441 1070M428 1083Q431 1077 435 1069M441 1070Q436 1071 435 1069M428 1070Q431 1071 434 1068M435 1069Q434 1070 434 1068M416 1067Q416 1067 417 1069M416 1067Q421 1066 428 1063M428 1063Q432 1063 433 1067M434 1068Q432 1067 433 1067M432 933Q438 933 439 934M432 933Q436 936 435 941M439 934Q442 936 440 940M435 941Q437 941 440 940M430 931Q429 929 430 927M430 931Q433 933 432 933M442 932Q439 934 439 934M442 932Q441 927 439 923M439 923Q439 923 437 921M437 921Q437 924 430 927M392 919Q394 926 389 929M392 919Q395 921 402 922M392 931Q390 929 389 929M392 931Q397 931 402 927M402 922Q402 924 402 927M488 910Q485 907 478 904M474 914Q475 911 475 913M475 913Q476 908 478 904M477 902Q474 903 478 904M453 898Q457 905 464 910M471 900Q470 903 469 904M464 910Q466 906 469 904M463 911Q463 910 464 910M463 911Q460 913 457 913M446 904Q447 905 453 898M477 902Q475 903 471 900M475 913Q474 907 469 904M463 911Q465 916 467 917M387 1009Q386 1009 384 1012M387 1009Q389 1009 393 1012M384 1012Q389 1012 391 1016M393 1012Q391 1013 391 1016M378 1012Q379 1012 377 1006M386 1005Q385 1009 387 1009M382 1014Q383 1015 384 1012M393 1002Q393 1003 387 1004M393 1002Q396 1007 396 1007M397 1010Q393 1011 393 1012M389 1021Q393 1017 391 1017M391 1017Q391 1016 391 1016M386 945Q382 938 375 931M386 945Q383 945 381 949M381 949Q382 948 381 949M381 949Q376 943 373 939M393 943Q390 943 386 945M393 943Q391 937 392 931M395 944Q396 943 393 943M386 955Q386 953 381 949M376 952Q378 951 381 949M368 954Q366 951 363 949M439 923Q443 924 447 925M446 916Q440 917 438 919M448 917Q446 917 449 920M438 919Q435 919 437 921M447 925Q449 924 449 920M442 932Q443 933 445 932M445 932Q446 932 449 929M447 925Q448 927 449 929M456 915Q456 921 456 925M449 920Q453 922 456 925M463 927Q460 927 458 930M456 925Q458 930 458 930M434 942Q433 947 438 948M434 942Q426 941 424 944M438 948Q431 951 426 951M426 951Q424 950 423 949M424 944Q424 946 423 949M424 939Q427 935 430 931M424 939Q425 943 424 944M435 941Q435 940 434 942M416 964Q421 965 424 970M421 949Q423 947 423 949M432 966Q432 964 432 962M432 966Q432 967 429 969M432 962Q430 957 426 951M429 969Q426 968 424 970M463 940Q470 941 478 939M463 940Q462 941 460 939M458 930Q459 932 458 931M460 939Q459 934 458 931M449 929Q454 932 457 931M458 931Q458 931 457 931M381 973Q384 977 386 983M380 990Q382 991 382 990M386 983Q384 985 384 988M371 981Q373 980 374 975M371 981Q371 981 371 981M371 981Q370 981 371 981M384 988Q381 986 382 990M387 995Q386 1000 384 999M387 995Q385 992 383 991M383 991Q381 992 382 990M527 970Q524 975 523 983M527 970Q531 969 530 968M530 968Q534 969 535 974M535 974Q530 981 529 985M529 985Q529 986 525 984M523 983Q526 982 525 984M523 983Q520 984 523 983M524 970Q525 970 527 970M529 961Q529 962 530 968M529 961Q531 958 530 961M530 961Q534 966 541 968M538 974Q536 976 535 974M558 989Q559 989 560 988M532 989Q532 987 529 985M522 995Q521 989 525 984M519 983Q520 985 517 990M550 962Q545 959 540 955M550 962Q551 958 556 955M556 955Q546 954 541 952M541 952Q539 956 540 955M540 955Q540 954 540 955M549 967Q551 965 550 962M542 967Q541 961 540 955M530 961Q535 957 540 955M540 950Q540 953 541 952M275 1104Q280 1101 284 1095M270 1092Q271 1089 274 1088M284 1095Q281 1092 274 1088M349 1114Q341 1113 336 1111M336 1111Q332 1113 330 1115M355 995Q354 992 356 989M355 995Q359 996 360 998M360 998Q362 989 366 985M356 989Q362 988 366 985M362 999Q362 1001 360 998M371 981Q367 982 366 985M371 981Q366 982 361 980M356 987Q357 983 361 980M356 987Q354 989 356 989M373 862Q377 867 378 875M373 862Q376 859 380 859M380 859Q380 869 381 870M381 870Q381 872 379 874M378 875Q382 874 379 874M377 880Q370 868 363 861M377 880Q379 879 378 875M391 865Q387 867 381 870M385 856Q383 859 380 859M391 869Q387 869 379 874M383 891Q384 890 386 891M383 891Q379 885 377 880M386 891Q389 890 391 890M377 880Q374 878 377 880M406 1066Q409 1065 413 1066M406 1066Q408 1061 408 1058M408 1058Q410 1057 410 1059M410 1059Q413 1060 414 1060M414 1060Q413 1060 414 1065M414 1065Q414 1066 413 1066M408 1071Q407 1070 413 1066M404 1069Q406 1065 406 1066M399 1055Q401 1054 401 1055M401 1055Q403 1057 408 1058M416 1067Q413 1067 414 1065M428 1063Q425 1061 422 1055M422 1055Q420 1057 414 1060M360 1104Q360 1101 363 1106M292 1005Q295 1004 296 1002M292 1005Q293 1004 290 1003M261 1031Q261 1028 262 1031M372 1022Q368 1026 365 1026M372 1022Q372 1017 371 1017M365 1026Q366 1021 364 1013M371 1017Q370 1018 364 1013M374 1025Q374 1021 372 1022M364 1027Q366 1026 365 1026M372 1017Q369 1015 371 1017M357 1021Q359 1015 357 1013M364 1012Q362 1014 364 1013M361 1011Q359 1012 357 1013M432 966Q440 967 444 969M432 962Q436 963 437 958M444 969Q447 970 446 967M446 967Q446 963 446 960M437 958Q440 957 446 960M438 948Q439 950 443 949M437 958Q440 953 443 949M429 969Q434 976 435 981M444 969Q445 974 445 975M435 981Q440 977 445 975M386 983Q387 985 391 985M384 988Q387 984 392 989M392 989Q391 985 391 985M386 970Q387 975 394 981M391 985Q393 981 394 981M393 1002Q392 1000 394 999M387 995Q388 995 393 994M394 999Q396 995 393 994M383 991Q385 991 393 991M393 994Q394 990 393 991M392 989Q392 989 394 991M393 991Q393 992 394 991M446 967Q452 968 455 966M446 960Q445 957 450 953M450 953Q452 952 454 955M455 966Q454 958 454 955M500 1045Q498 1040 491 1034M512 1027Q504 1026 497 1024M491 1034Q496 1031 497 1024M481 1037Q483 1034 486 1032M491 1034Q490 1035 486 1032M505 1008Q501 1012 498 1009M504 1019Q504 1020 498 1022M498 1009Q499 1012 496 1014M496 1014Q497 1015 498 1022M498 1022Q497 1021 497 1024M482 1014Q484 1015 489 1014M482 1014Q481 1012 481 1015M481 1015Q477 1021 477 1021M489 1014Q489 1015 491 1015M491 1015Q487 1022 484 1030M477 1021Q481 1023 481 1028M481 1028Q481 1027 484 1030M486 1032Q485 1029 484 1030M496 1014Q491 1014 491 1015M495 983Q498 985 499 991M495 983Q503 986 507 986M507 987Q500 988 500 990M507 987Q506 987 507 986M500 990Q500 993 499 991M506 995Q505 991 500 990M507 995Q506 993 507 987M510 982Q508 984 507 986M502 998Q498 996 497 996M497 996Q496 995 499 991M498 1009Q497 1010 496 1007M497 996Q495 998 496 997M496 997Q495 1000 496 1007M393 1025Q397 1025 397 1024M391 1017Q392 1020 402 1017M397 1024Q397 1023 401 1020M401 1020Q397 1018 402 1017M401 1013Q401 1013 403 1014M403 1014Q402 1012 403 1015M402 1017Q401 1016 403 1015M395 1041Q395 1039 402 1038M396 1035Q398 1035 398 1034M398 1034Q399 1036 402 1038M397 1024Q400 1026 400 1028M398 1034Q401 1033 400 1028M398 1048Q400 1042 403 1039M403 1039Q400 1039 402 1038M459 1052Q459 1049 459 1049M450 1055Q450 1054 450 1051M450 1051Q450 1048 451 1050M451 1050Q453 1049 459 1049M443 1046Q445 1049 450 1051M443 1046Q446 1044 448 1041M448 1041Q449 1042 449 1041M449 1041Q452 1042 452 1042M451 1050Q452 1049 452 1042M466 1051Q463 1047 462 1044M459 1049Q458 1047 462 1044M472 1047Q468 1047 462 1044M462 1044Q463 1044 462 1044M446 1057Q446 1057 443 1055M433 1067Q435 1062 435 1057M443 1055Q441 1054 435 1057M422 1055Q422 1054 422 1052M422 1052Q426 1054 434 1052M434 1052Q431 1054 435 1057M452 1042Q458 1041 459 1039M462 1044Q462 1044 461 1040M461 1040Q461 1041 460 1039M459 1039Q459 1037 460 1039M469 1033Q469 1036 466 1038M469 1033Q470 1031 467 1030M467 1030Q464 1029 464 1030M464 1030Q464 1036 465 1038M466 1038Q465 1038 465 1038M471 1039Q470 1040 466 1038M481 1028Q476 1029 469 1033M477 1021Q477 1018 475 1021M475 1021Q472 1025 468 1023M468 1023Q471 1028 467 1030M462 1023Q464 1027 468 1023M462 1023Q462 1024 460 1026M460 1026Q460 1027 461 1028M461 1028Q462 1030 464 1030M461 1040Q464 1039 465 1038M461 1028Q458 1029 460 1039M446 904Q441 903 435 902M424 902Q420 907 415 910M432 901Q429 906 427 912M427 912Q420 914 417 913M417 913Q415 911 415 910M401 909Q402 911 403 910M413 909Q405 909 403 910M413 909Q412 910 415 910M391 916Q390 915 392 919M402 922Q403 921 403 918M403 910Q404 917 403 918M400 943Q403 937 406 931M411 938Q412 937 411 937M411 937Q410 933 408 931M406 931Q406 930 408 931M402 927Q401 932 406 930M406 931Q406 931 406 930M403 918Q405 918 412 922M406 930Q410 925 412 922M383 891Q379 890 378 893M446 937Q446 938 447 938M446 937Q444 938 441 941M447 938Q451 943 452 944M441 941Q443 946 444 949M452 944Q452 947 448 949M448 949Q443 949 444 949M445 932Q444 932 446 937M457 931Q453 935 447 938M440 940Q441 944 441 941M460 939Q457 941 452 944M443 949Q443 949 444 949M450 953Q448 951 448 949M588 1018Q588 1018 586 1013M588 1018Q583 1019 579 1020M586 1013Q582 1018 577 1020M579 1020Q576 1021 577 1020M591 1029Q589 1030 587 1027M587 1027Q585 1024 579 1020M590 1019Q587 1018 588 1018M587 1027Q581 1029 573 1027M572 1026Q576 1026 573 1027M572 1026Q576 1023 574 1019M574 1019Q575 1016 577 1020M592 991Q594 997 590 995M595 1003Q592 1002 591 1002M590 995Q592 996 591 1002M592 1008Q591 1008 590 1008M591 1002Q590 1007 590 1008M593 1016Q591 1013 589 1009M589 1009Q589 1011 590 1008M590 1038Q586 1038 584 1039M573 1027Q576 1035 582 1039M584 1039Q584 1040 582 1039M572 1026Q570 1030 566 1029M582 1039Q580 1039 581 1040M557 928Q553 932 550 936M550 936Q547 941 547 943M547 943Q551 946 554 947M537 936Q543 934 550 936M541 947Q542 946 547 943M274 1068Q273 1065 276 1058M274 1068Q272 1071 271 1076M271 1076Q269 1076 266 1076M266 1076Q266 1066 266 1060M266 1060Q270 1058 276 1058M265 1076Q266 1076 266 1076M265 1076Q263 1074 264 1075M264 1075Q263 1068 262 1060M266 1060Q261 1059 262 1060M264 1075Q263 1074 262 1074M262 1074Q255 1069 253 1064M254 1061Q250 1062 253 1064M254 1061Q255 1058 257 1059M262 1060Q260 1056 257 1059M281 1044Q280 1047 278 1050M288 1060Q287 1056 279 1056M288 1060Q289 1058 290 1060M290 1060Q295 1054 298 1052M278 1050Q279 1051 279 1056M261 1031Q261 1031 261 1031M261 1031Q267 1042 277 1050M264 1030Q260 1032 262 1031M278 1050Q278 1047 277 1050M340 1096Q336 1092 336 1090M340 1096Q339 1097 337 1101M337 1101Q329 1099 323 1098M336 1090Q332 1089 328 1085M328 1085Q322 1089 322 1089M322 1089Q322 1093 321 1096M323 1098Q323 1097 321 1096M349 1097Q344 1095 340 1096M344 1085Q340 1088 336 1090M336 1111Q334 1106 337 1101M330 1115Q327 1107 323 1098M332 1076Q328 1079 329 1080M329 1080Q329 1082 328 1085M315 1109Q318 1112 316 1112M315 1109Q319 1102 317 1100M317 1100Q320 1097 321 1096M277 1082Q282 1086 288 1086M277 1082Q283 1075 286 1074M288 1086Q292 1079 292 1075M286 1074Q289 1074 289 1072M289 1072Q288 1071 292 1075M274 1068Q280 1071 286 1074M271 1076Q274 1080 275 1082M275 1082Q275 1081 277 1082M288 1060Q290 1068 289 1072M279 1056Q274 1059 276 1058M284 1095Q282 1095 284 1095M275 1082Q274 1085 274 1088M288 1086Q293 1090 293 1093M284 1095Q287 1094 293 1093M302 1089Q305 1087 313 1086M302 1089Q303 1089 299 1094M313 1086Q317 1087 322 1089M317 1100Q310 1097 300 1098M299 1094Q301 1097 300 1098M303 1105Q308 1107 315 1109M303 1105Q304 1100 300 1099M300 1099Q300 1097 300 1098M302 1089Q303 1089 301 1088M292 1075Q293 1072 293 1075M293 1093Q296 1097 299 1094M293 1075Q299 1079 301 1088M329 1080Q320 1076 315 1071M313 1086Q316 1082 312 1077M312 1077Q313 1074 315 1071M318 1058Q316 1063 314 1069M331 1064Q321 1067 315 1069M314 1069Q314 1069 315 1069M307 1057Q308 1060 307 1067M314 1069Q307 1068 307 1067M315 1071Q314 1070 315 1069M290 1060Q297 1063 305 1067M307 1067Q304 1069 305 1067M270 1092Q269 1093 268 1092M265 1076Q260 1082 256 1090M246 1081Q252 1077 262 1074M268 1092Q264 1091 257 1091M366 965Q358 967 352 969M361 980Q358 977 357 977M352 969Q354 974 357 977M348 962Q351 966 351 968M352 969Q352 969 351 968M377 880Q377 877 376 880M401 1055Q410 1052 412 1048M410 1059Q409 1060 410 1057M412 1048Q411 1051 410 1057M367 1105Q366 1102 366 1096M370 1095Q373 1101 378 1108M370 1095Q366 1094 366 1096M363 1106Q365 1102 367 1105M356 1093Q360 1092 366 1096M374 1090Q372 1093 370 1095M435 981Q436 982 435 986M445 975Q446 974 446 976M446 976Q443 983 440 986M440 986Q438 983 435 986M424 970Q422 972 421 976M421 976Q425 978 430 990M435 986Q435 988 430 990M484 958Q485 959 484 958M498 968Q494 970 484 967M484 967Q485 964 484 958M459 954Q460 960 464 965M459 954Q462 951 464 951M464 951Q463 953 466 953M466 953Q466 956 466 960M466 960Q464 964 464 965M455 966Q461 969 462 971M464 966Q464 968 462 971M464 966Q465 967 464 965M454 955Q457 959 459 954M462 971Q462 972 462 971M463 940Q461 945 464 951M479 942Q479 942 479 944M479 944Q472 949 467 953M467 953Q466 954 466 953M466 972Q471 970 475 966M466 972Q469 975 470 974M475 966Q479 969 483 968M483 968Q480 969 482 972M470 974Q474 974 482 972M448 978Q451 975 459 974M448 978Q449 982 450 985M450 985Q453 985 454 985M454 985Q457 980 459 974M446 976Q450 978 448 978M462 971Q464 971 461 973M461 973Q462 973 459 974M459 1016Q464 1013 467 1011M459 1016Q452 1014 449 1013M454 1009Q453 1011 449 1013M454 1009Q459 1006 465 1005M465 1005Q466 1005 467 1010M449 1013Q448 1016 449 1013M467 1011Q468 1011 467 1010M462 1023Q461 1020 459 1016M475 1021Q471 1018 467 1011M464 999Q464 1004 465 1005M464 999Q462 995 459 998M459 998Q456 1000 454 1009M481 1015Q479 1011 477 1007M467 1010Q470 1012 471 1008M477 1007Q474 1009 471 1008M464 999Q467 997 467 996M467 996Q470 1001 473 1001M471 1008Q473 1003 473 1001M489 1008Q487 1010 485 1007M489 1008Q492 1007 495 1007M495 1007Q492 1002 487 1002M487 1002Q484 1004 485 1005M485 1007Q484 1006 485 1005M482 1014Q482 1008 485 1007M489 1014Q490 1012 489 1008M496 1007Q495 1007 495 1007M496 997Q493 997 494 996M494 996Q488 995 487 999M487 999Q488 1001 487 1002M477 1007Q477 1010 478 1004M478 1004Q482 1005 485 1005M443 1055Q441 1049 439 1046M434 1052Q435 1050 438 1046M438 1046Q437 1048 439 1046M443 1046Q445 1046 439 1046M448 1041Q445 1037 439 1033M439 1033Q441 1039 439 1046M439 1046Q439 1048 439 1046M412 1048Q415 1048 415 1045M410 1057Q412 1052 417 1046M415 1045Q415 1046 417 1046M452 1026Q453 1033 452 1035M452 1026Q454 1026 455 1027M455 1027Q458 1031 456 1036M452 1035Q453 1035 456 1036M446 1023Q443 1025 442 1030M446 1023Q448 1025 452 1026M442 1030Q444 1033 449 1035M449 1035Q451 1035 452 1035M446 1023Q445 1021 446 1017M447 1015Q448 1015 446 1017M447 1015Q449 1013 449 1013M460 1026Q457 1027 455 1027M459 1039Q456 1039 456 1036M449 1035Q448 1036 449 1041M438 919Q436 918 435 914M435 902Q432 906 435 913M435 914Q436 913 435 913M427 912Q426 914 427 915M435 913Q432 911 427 915M419 929Q417 930 414 929M419 929Q420 932 421 937M421 937Q421 936 419 937M419 937Q417 933 414 930M414 930Q412 931 414 929M424 939Q423 940 421 937M411 937Q418 936 419 937M408 931Q411 932 414 930M412 922Q412 920 416 920M416 920Q415 924 414 929M417 914Q417 915 416 920M417 914Q422 916 425 917M416 920Q421 922 422 926M425 917Q425 917 427 919M427 919Q429 925 429 926M429 926Q428 927 422 926M417 913Q417 914 417 914M416 920Q418 920 416 920M427 915Q425 916 425 917M419 929Q422 928 422 926M435 914Q434 918 427 919M430 927Q430 926 429 926M586 1011Q579 1015 575 1013M586 1011Q589 1010 588 1009M588 1009Q585 1008 582 1003M575 1013Q575 1005 578 1003M578 1003Q580 1004 582 1003M573 1016Q572 1016 575 1013M573 1016Q573 1017 574 1019M586 1013Q585 1014 586 1011M589 1009Q587 1009 588 1009M590 995Q584 1000 582 1003M563 1011Q566 1013 573 1016M564 985Q571 997 578 1003M558 1016Q558 1023 556 1028M560 1030Q562 1031 556 1028M547 1022Q550 1025 555 1028M556 1028Q552 1028 555 1028M245 1053Q249 1060 253 1060M253 1060Q244 1059 238 1056M245 1073Q242 1072 246 1069M254 1061Q254 1061 253 1060M253 1064Q251 1069 246 1069M257 1057Q263 1053 266 1048M257 1057Q254 1052 253 1044M266 1048Q261 1047 255 1039M253 1044Q253 1040 254 1039M255 1039Q253 1040 254 1039M257 1059Q256 1056 257 1057M277 1050Q272 1048 266 1048M245 1053Q248 1049 253 1044M261 1031Q258 1036 255 1039M303 1081Q301 1075 301 1073M303 1081Q307 1077 307 1077M307 1077Q307 1073 303 1071M301 1073Q304 1070 303 1071M293 1075Q297 1075 301 1073M301 1088Q303 1084 303 1081M312 1077Q308 1078 307 1077M305 1067Q304 1072 303 1071M357 1013Q349 1013 349 1012M355 995Q352 997 350 996M350 996Q350 997 348 1001M348 1001Q348 1005 349 1012M346 1024Q344 1023 341 1016M349 1012Q345 1015 341 1016M337 1024Q340 1020 341 1016M341 1016Q343 1018 341 1016M320 1026Q321 1024 324 1017M324 1017Q329 1018 328 1015M328 1015Q333 1017 341 1016M341 1016Q339 1015 341 1016M340 999Q341 1003 343 1001M340 999Q337 998 332 996M331 998Q333 998 332 996M331 998Q332 1003 337 1005M337 1005Q339 1002 343 1001M350 996Q350 995 349 995M349 995Q344 996 340 999M348 1001Q342 1004 343 1001M341 1016Q338 1012 337 1005M293 1008Q291 1007 292 1005M299 1010Q303 1010 308 1007M306 999Q307 1000 307 1000M307 1000Q306 1001 308 1007M310 1016Q313 1014 311 1010M311 1010Q309 1009 308 1007M340 990Q337 993 333 994M340 990Q341 984 339 977M333 994Q332 989 326 981M326 981Q330 978 329 975M339 977Q333 975 329 974M345 991Q346 995 349 995M345 991Q342 989 340 990M332 996Q331 999 333 994M321 984Q323 981 326 981M345 991Q344 989 346 989M339 977Q342 976 342 976M346 989Q344 983 342 976M351 968Q347 973 345 975M342 976Q341 977 345 975M353 984Q355 981 353 984M353 984Q347 987 347 987M353 984Q349 981 347 979M347 987Q346 983 347 979M356 987Q351 987 353 984M357 977Q355 982 353 984M346 989Q345 987 347 987M345 975Q347 978 347 979M264 1017Q271 1018 279 1017M279 1017Q280 1016 279 1017M279 1017Q277 1012 276 1009M267 1029Q274 1023 279 1017M280 1017Q278 1016 279 1017M415 964Q412 967 407 975M421 976Q422 980 415 980M415 980Q414 982 413 980M413 980Q409 976 407 975M399 970Q401 972 402 974M402 974Q404 973 407 975M394 981Q397 982 399 981M402 974Q399 979 399 981M450 985Q449 986 449 986M440 986Q442 987 447 988M449 986Q449 986 447 988M427 1006Q429 998 427 995M427 1006Q430 1005 438 1003M438 1003Q435 1000 438 998M438 998Q432 996 430 992M427 995Q429 991 429 992M429 992Q431 991 430 992M427 1007Q430 1008 431 1011M427 1007Q425 1004 427 1006M440 1010Q437 1010 431 1011M440 1010Q438 1005 438 1003M447 1015Q441 1013 440 1010M444 997Q442 999 438 998M444 997Q449 998 449 1001M449 1001Q448 1005 449 1013M444 997Q446 996 446 992M430 990Q428 990 430 992M446 992Q448 990 447 988M415 980Q418 985 425 990M425 991Q424 987 425 990M425 991Q429 988 429 992M472 962Q473 963 474 963M472 962Q473 963 471 959M474 963Q477 958 479 955M471 959Q471 959 472 956M472 956Q475 957 479 955M479 955Q482 957 479 955M466 972Q466 974 462 971M464 966Q465 962 472 962M475 966Q477 963 474 963M466 960Q469 961 471 959M484 967Q485 967 483 968M484 958Q483 955 479 955M467 953Q469 954 472 956M479 944Q479 948 479 955M477 986Q471 987 469 991M477 986Q475 985 477 986M469 991Q471 985 471 983M477 986Q474 985 471 983M470 974Q470 976 471 977M482 972Q485 975 483 975M483 975Q483 978 478 981M478 981Q473 978 471 977M492 991Q486 990 482 989M492 991Q493 985 494 982M482 989Q488 986 490 980M490 980Q490 982 493 981M493 981Q493 978 494 982M495 983Q493 981 494 982M494 996Q494 994 492 991M483 975Q488 978 490 980M477 986Q481 987 482 990M482 990Q481 992 482 989M477 986Q478 983 478 981M493 980Q493 979 493 981M485 997Q480 1001 477 1002M485 997Q484 996 481 992M479 994Q479 994 481 992M479 994Q477 998 476 1001M476 1001Q477 1001 477 1002M487 999Q487 997 485 997M478 1004Q477 1003 477 1002M482 990Q482 991 481 992M468 995Q470 994 468 992M468 995Q473 992 479 994M469 991Q469 991 468 992M467 996Q468 995 468 995M473 1001Q472 1002 476 1001M422 1051Q422 1048 419 1047M422 1051Q426 1050 431 1043M419 1047Q423 1042 425 1038M425 1038Q427 1040 431 1043M431 1043Q430 1045 431 1043M422 1052Q421 1053 422 1051M417 1046Q416 1047 419 1047M438 1046Q434 1045 431 1043M555 1028Q553 1030 549 1034M321 984Q317 984 318 988M331 998Q329 998 330 999M330 999Q323 993 318 988M328 1015Q329 1014 327 1010M327 1010Q327 1007 328 1000M330 999Q331 1001 328 1000M316 989Q317 987 318 988M394 991Q396 990 400 988M399 981Q400 985 401 986M401 986Q398 984 400 988M447 992Q450 994 457 993M447 992Q450 994 457 997M458 997Q456 995 457 997M458 997Q458 996 457 993M457 993Q458 989 457 993M446 992Q444 994 447 992M449 986Q451 989 457 993M449 1001Q450 999 457 997M459 998Q458 997 458 997M454 985Q457 986 460 986M460 986Q458 991 457 993M471 981Q470 983 471 982M471 981Q467 980 462 980M471 982Q466 985 463 985M462 980Q460 981 462 985M462 985Q464 985 463 985M471 977Q472 978 471 981M471 983Q471 982 471 982M461 973Q461 976 462 980M468 992Q467 988 463 985M460 986Q462 985 462 985M399 1054Q404 1049 410 1041M403 1039Q406 1039 406 1039M406 1039Q407 1036 410 1041M415 1045Q412 1040 412 1041M410 1041Q412 1040 412 1041M439 1033Q444 1032 439 1033M431 1043Q431 1044 432 1040M432 1040Q434 1038 439 1033M442 1030Q441 1031 439 1032M439 1032Q441 1035 439 1033M408 1003Q408 1001 408 1000M408 1003Q406 1003 405 1002M408 1000Q408 1002 405 1002M394 999Q397 999 401 999M400 989Q399 987 400 988M400 989Q399 992 403 996M403 996Q401 997 401 999M402 1002Q403 1001 402 1002M401 999Q403 999 402 1002M403 1014Q406 1013 407 1010M407 1010Q407 1005 404 1003M402 1002Q400 1002 404 1003M407 1010Q403 1010 408 1010M410 1005Q410 1005 408 1003M410 1005Q407 1005 409 1009M408 1010Q405 1008 409 1009M404 1003Q406 1001 405 1002M414 998Q415 998 413 998M414 998Q414 994 416 991M413 998Q411 997 410 996M416 991Q415 987 414 986M409 996Q411 996 410 996M409 996Q409 997 409 991M409 991Q410 986 412 984M414 986Q414 986 412 984M412 984Q412 983 412 984M416 999Q415 1000 418 1005M416 999Q417 1000 414 998M418 1005Q414 1011 410 1009M410 1005Q411 1003 413 998M409 1009Q409 1007 410 1009M416 999Q419 995 427 995M425 991Q420 991 416 991M408 1000Q408 998 410 996M425 990Q419 988 414 986M403 996Q406 995 409 996M400 989Q407 989 409 991M401 986Q407 986 412 984M413 980Q412 981 412 984M307 1000Q309 1000 315 996M316 989Q313 996 315 996M315 996Q316 999 315 996M400 1028Q401 1030 401 1029M406 1039Q406 1035 406 1033M401 1029Q406 1031 406 1033M401 1020Q406 1025 408 1025M403 1015Q408 1017 412 1021M412 1021Q410 1024 408 1025M401 1029Q406 1028 408 1026M408 1025Q408 1028 408 1026M406 1033Q407 1031 410 1030M408 1026Q408 1030 410 1030M414 1037Q413 1033 414 1031M414 1037Q415 1037 412 1041M410 1030Q412 1031 414 1031M408 1010Q412 1014 415 1017M410 1009Q413 1011 417 1012M417 1012Q416 1016 415 1017M418 1005Q420 1006 422 1009M417 1012Q420 1008 422 1009M412 1021Q416 1019 416 1021M414 1031Q415 1030 415 1029M415 1029Q420 1028 419 1022M419 1022Q417 1021 416 1021M427 1007Q421 1008 422 1009M422 1009Q424 1011 422 1009M415 1017Q415 1020 416 1021M446 1017Q440 1019 435 1020M431 1011Q430 1016 430 1019M435 1020Q433 1020 430 1019M439 1032Q438 1030 435 1031M435 1020Q433 1026 435 1031M432 1040Q431 1036 429 1030M435 1031Q432 1033 429 1030M425 1038Q424 1040 425 1037M414 1037Q416 1037 418 1036M425 1037Q420 1038 418 1036M415 1029Q415 1031 420 1032M418 1036Q419 1034 420 1032M325 1000Q323 1001 322 1000M325 1000Q323 1003 320 1007M322 1000Q323 1004 316 1005M320 1007Q318 1009 316 1009M316 1005Q316 1007 315 1009M316 1009Q315 1011 315 1009M328 1000Q326 1001 325 1000M315 996Q319 999 322 1000M327 1010Q323 1007 320 1007M315 996Q316 999 316 1005M324 1017Q318 1010 316 1009M311 1010Q314 1011 315 1009M424 1021Q420 1023 420 1022M424 1021Q425 1022 425 1022M420 1022Q418 1026 420 1032M425 1022Q424 1025 429 1030M429 1030Q428 1034 427 1032M427 1032Q423 1031 420 1032M419 1022Q421 1023 420 1022M422 1009Q421 1017 424 1021M430 1019Q428 1018 425 1022M420 1032Q420 1031 420 1032M429 1030Q429 1032 429 1030M425 1037Q427 1036 427 1032" fill="none" stroke="#a8a8a8" stroke-width="1.4" opacity="0.9"/>
<path d="M511 1160Q499 1168 487 1174M487 1174Q486 1173 484 1172M484 1172Q480 1164 479 1158M468 1185Q466 1184 467 1180M467 1180Q476 1173 484 1172M47 1041Q46 1043 42 1043M26 1048Q30 1044 33 1041M26 1048Q23 1046 26 1051M17 1049Q15 1059 18 1071M32 1108Q25 1104 18 1100M32 1108Q37 1107 41 1106M326 1234Q331 1224 338 1213M341 1215Q338 1215 338 1213M465 1167Q467 1165 466 1164M462 1174Q465 1177 467 1180M462 1174Q465 1171 465 1167M394 1231Q389 1231 384 1232M52 1073Q56 1071 61 1070M46 1073Q47 1073 52 1073M65 1043Q60 1041 55 1043M65 1043Q72 1054 78 1065M323 1230Q324 1223 323 1216M323 1230Q315 1228 309 1225M309 1225Q313 1219 318 1214M323 1216Q319 1217 318 1214M326 1234Q322 1231 323 1230M338 1213Q335 1213 336 1212M336 1212Q329 1213 323 1216M308 1225Q309 1227 309 1225M270 1220Q261 1226 258 1228M258 1228Q254 1221 249 1213M394 1231Q392 1230 397 1222M451 1184Q451 1187 451 1189M451 1184Q455 1189 457 1191M451 1189Q453 1190 456 1192M457 1191Q454 1191 456 1192M451 1178Q452 1179 451 1184M451 1178Q439 1180 431 1184M431 1184Q433 1190 434 1199M434 1199Q445 1196 451 1189M455 1175Q455 1176 451 1178M455 1175Q459 1176 462 1174M468 1185Q462 1187 457 1191M434 1199Q435 1197 434 1201M397 1222Q400 1219 398 1211M72 1110Q82 1114 95 1122M74 1028Q89 1022 97 1013M98 1009Q97 1012 97 1013M367 1178Q362 1175 357 1177M367 1178Q363 1175 356 1167M357 1177Q356 1176 353 1173M356 1167Q354 1168 353 1173M251 1210Q252 1213 249 1213M167 1108Q170 1111 171 1111M455 1175Q449 1167 441 1157M429 1181Q432 1183 431 1184M429 1181Q432 1172 438 1159M411 1176Q416 1178 429 1181M411 1176Q410 1176 406 1178M406 1178Q405 1180 405 1178M434 1201Q416 1203 399 1204M399 1204Q403 1197 398 1195M405 1178Q402 1188 398 1195M411 1176Q411 1166 414 1156M406 1178Q396 1170 393 1156M405 1178Q395 1172 383 1168M264 986Q265 988 264 989M264 989Q273 986 280 984M242 1032Q240 1030 244 1025M244 1015Q245 1020 243 1022M231 1026Q230 1024 230 1026M255 1026Q252 1024 250 1017M148 1111Q149 1113 153 1114M154 1114Q154 1113 153 1114M81 1065Q82 1063 82 1062M91 1040Q88 1050 82 1062M91 1071Q98 1073 101 1082M101 1033Q102 1031 101 1030M101 1033Q112 1033 126 1028M127 1026Q128 1021 127 1015M370 1179Q372 1178 367 1178M370 1179Q371 1168 363 1155M328 1189Q336 1190 343 1191M328 1189Q334 1183 337 1177M341 1181Q337 1181 337 1177M341 1181Q342 1184 344 1188M344 1188Q345 1190 343 1191M343 1191Q345 1193 343 1191M357 1177Q354 1180 351 1187M353 1173Q352 1176 352 1173M352 1173Q349 1175 341 1181M351 1187Q350 1188 344 1188M333 1202Q336 1194 343 1191M333 1202Q332 1204 332 1202M328 1189Q325 1193 321 1191M321 1191Q323 1196 332 1202M336 1212Q334 1206 333 1202M318 1214Q319 1211 315 1208M332 1202Q323 1206 315 1208M308 1225Q304 1221 298 1216M298 1216Q302 1210 311 1205M315 1208Q313 1209 311 1205M343 1167Q346 1168 349 1169M337 1176Q338 1177 337 1177M337 1176Q339 1172 343 1167M352 1173Q350 1168 349 1169M337 1176Q331 1174 327 1171M327 1171Q326 1170 327 1170M384 1232Q387 1224 387 1219M398 1211Q398 1210 398 1210M387 1219Q393 1216 398 1210M399 1204Q398 1207 398 1209M398 1210Q401 1209 398 1209M350 1215Q351 1213 353 1212M353 1212Q363 1211 370 1210M372 1222Q374 1216 370 1210M341 1215Q347 1215 350 1215M354 1203Q346 1198 343 1191M354 1203Q353 1206 353 1212M387 1219Q378 1222 372 1222M372 1206Q369 1207 370 1210M372 1206Q386 1208 398 1209M370 1179Q370 1181 371 1179M383 1168Q380 1175 373 1180M371 1179Q372 1177 373 1180M398 1195Q390 1192 382 1189M373 1180Q379 1183 382 1189M372 1206Q372 1205 370 1201M382 1189Q375 1195 370 1201M354 1203Q356 1204 359 1200M359 1200Q361 1199 367 1199M367 1199Q368 1201 370 1201M296 1002Q299 995 300 989M358 1193Q356 1189 352 1187M358 1193Q362 1187 366 1187M352 1187Q360 1184 366 1185M366 1187Q367 1186 366 1185M351 1187Q351 1186 352 1187M359 1200Q359 1199 358 1193M367 1199Q368 1190 366 1187M371 1179Q370 1183 366 1185M202 1020Q210 1021 219 1024M204 1017Q210 1013 218 1013M223 1022Q222 1021 219 1024M200 982Q206 993 213 997M228 1022Q223 1020 223 1022M234 988Q244 993 251 997M251 997Q253 996 251 997M251 997Q251 1002 251 1008M127 1026Q137 1025 148 1029M131 1012Q132 1012 134 1009M171 1111Q173 1111 175 1111M205 1102Q213 1094 216 1085M216 1084Q216 1081 216 1084M192 1123Q195 1119 195 1115M189 1110Q186 1115 182 1117M189 1110Q188 1108 190 1110M216 1079Q218 1076 216 1073M207 1065Q211 1062 214 1060M198 1059Q197 1058 199 1059M217 1036Q222 1037 224 1038M209 1040Q207 1041 209 1044M217 1049Q213 1045 209 1045M275 1104Q272 1097 270 1092M321 1191Q320 1192 319 1190M311 1205Q307 1202 310 1195M319 1190Q316 1195 310 1195M327 1171Q324 1175 320 1177M319 1190Q321 1185 320 1177M291 997Q291 1002 290 1003M291 997Q290 997 290 996M290 996Q285 995 280 995M290 1003Q285 1004 279 1001M279 1001Q278 1000 280 995M300 989Q296 994 291 997M281 985Q285 987 286 987M281 985Q281 990 280 995M286 987Q289 992 290 996M264 989Q264 988 263 992M263 992Q267 996 268 998M279 1001Q273 1000 268 998M279 1001Q276 1000 279 1001M286 987Q292 987 301 987M225 1039Q228 1044 232 1048M224 1038Q223 1038 225 1039M242 1032Q243 1035 245 1038M217 1049Q222 1052 224 1054M251 997Q256 994 263 992M250 1017Q253 1018 259 1017M251 1008Q252 1010 254 1009M254 1009Q255 1011 259 1017M255 1026Q256 1027 261 1031M262 1031Q261 1024 263 1019M263 1019Q260 1016 259 1017M188 1070Q186 1070 186 1074M157 1039Q162 1032 166 1026M172 987Q171 996 175 1003M229 1084Q230 1079 231 1071M231 1071Q229 1068 228 1071M221 1065Q222 1063 221 1060M211 1112Q213 1118 215 1123M221 1099Q225 1099 225 1101M231 1085Q226 1091 225 1101M205 1102Q210 1105 210 1107M216 1085Q217 1092 221 1099M195 1050Q195 1051 197 1054M195 1050Q192 1047 196 1046M275 1104Q275 1107 276 1112M271 1112Q275 1114 276 1112M271 1112Q266 1111 268 1110M268 1092Q266 1096 266 1101M268 1110Q266 1107 266 1101M246 1082Q242 1086 237 1086M246 1100Q251 1093 253 1089M246 1081Q245 1083 246 1082M253 1089Q255 1089 256 1090M256 1090Q256 1092 257 1091M251 997Q257 1003 264 1007M254 1009Q258 1011 262 1010M262 1010Q267 1011 264 1007M268 998Q266 1004 266 1006M266 1006Q263 1005 264 1007M111 1054Q108 1049 107 1046M111 1075Q118 1073 125 1073M135 1050Q144 1043 148 1034M179 1032Q179 1027 174 1028M174 1028Q176 1013 176 1004M186 1033Q192 1026 196 1026M197 1024Q199 1024 196 1026M183 1003Q181 1003 176 1004M166 1026Q169 1028 174 1028M209 1040Q205 1032 196 1026M196 1046Q193 1043 186 1033M237 1053Q239 1055 238 1056M233 1071Q240 1071 245 1073M231 1071Q233 1071 233 1071M238 1056Q240 1057 238 1060M246 1081Q244 1074 245 1073M300 1143Q300 1150 296 1154M296 1154Q300 1157 303 1164M327 1170Q316 1164 307 1162M276 1112Q273 1113 277 1113M284 1095Q287 1102 286 1110M277 1113Q282 1111 286 1110M300 1099Q294 1107 288 1110M288 1110Q286 1109 286 1110M320 1177Q313 1173 308 1174M308 1174Q306 1168 303 1166M242 1114Q240 1111 237 1110M242 1114Q243 1117 243 1118M246 1100Q246 1104 249 1106M261 1108Q260 1105 259 1102M261 1108Q258 1108 252 1111M250 1107Q253 1104 257 1100M250 1107Q253 1109 252 1110M259 1102Q255 1101 257 1100M252 1111Q254 1111 252 1110M268 1110Q262 1110 261 1108M266 1101Q263 1104 259 1102M258 1124Q265 1117 271 1112M258 1124Q255 1122 254 1122M254 1122Q254 1118 252 1111M249 1106Q252 1107 250 1107M257 1091Q257 1096 257 1100M254 1122Q248 1125 246 1124M264 1017Q263 1015 264 1016M264 1016Q266 1011 271 1009M276 1009Q272 1009 271 1009M263 1019Q264 1021 264 1017M262 1010Q263 1016 264 1016M266 1006Q267 1008 271 1009M279 1001Q276 1006 276 1009M297 1137Q293 1133 287 1134M287 1134Q291 1125 295 1118M301 1118Q299 1117 295 1118M300 1143Q301 1142 297 1137M288 1110Q293 1113 295 1118M310 1195Q306 1194 305 1193M308 1174Q308 1176 306 1177M305 1193Q308 1185 306 1177M296 1154Q291 1154 281 1155M287 1134Q287 1136 286 1134M281 1155Q284 1145 286 1134M277 1113Q274 1123 280 1131M286 1134Q287 1133 280 1131M122 1093Q121 1094 126 1090M159 1051Q165 1050 174 1056M173 1066Q170 1068 172 1067M183 1086Q176 1078 172 1067M184 1089Q183 1087 183 1087M172 1067Q166 1070 163 1071M266 1145Q269 1146 270 1147M266 1145Q270 1139 273 1132M270 1147Q274 1140 280 1131M273 1132Q275 1130 280 1131M281 1155Q278 1155 278 1158M278 1158Q275 1150 270 1147M280 1131Q280 1131 280 1131M258 1124Q261 1127 261 1129M261 1129Q265 1130 273 1132M158 1080Q162 1085 167 1088M165 1099Q165 1095 167 1088M163 1071Q159 1077 158 1080M298 1216Q292 1213 286 1215M283 1217Q287 1217 286 1215M305 1193Q300 1192 297 1193M306 1177Q299 1178 294 1182M294 1182Q296 1187 297 1193M297 1193Q299 1196 297 1193M286 1215Q288 1213 287 1211M297 1193Q291 1204 287 1211M303 1166Q300 1167 294 1170M294 1182Q291 1182 291 1179M294 1170Q293 1177 291 1179M261 1129Q258 1130 258 1136M266 1145Q265 1146 260 1144M260 1144Q259 1142 258 1142M258 1136Q256 1138 258 1142M270 1220Q271 1219 273 1216M251 1210Q263 1211 271 1215M273 1216Q273 1213 271 1215M283 1217Q278 1217 273 1216M273 1216Q274 1218 273 1216M271 1215Q265 1208 261 1196M251 1192Q255 1197 261 1196M273 1216Q274 1205 274 1194M274 1194Q268 1197 262 1196M261 1196Q259 1194 262 1196M297 1193Q290 1190 279 1189M291 1179Q287 1179 289 1179M289 1179Q283 1185 279 1189M287 1211Q282 1201 278 1190M279 1189Q278 1187 278 1190M274 1194Q275 1190 278 1190M262 1196Q267 1188 272 1181M272 1181Q275 1186 278 1190M278 1190Q275 1189 278 1190M253 1151Q253 1154 248 1157M253 1151Q253 1149 249 1145M259 1150Q259 1154 258 1156M259 1150Q259 1148 259 1150M259 1150Q259 1151 253 1151M258 1156Q252 1155 248 1157M260 1144Q259 1147 259 1150M258 1142Q252 1143 249 1145M285 1177Q275 1176 271 1178M285 1177Q282 1168 280 1162M276 1160Q269 1166 266 1170M276 1160Q275 1161 277 1159M271 1178Q268 1174 265 1171M277 1159Q277 1164 280 1162M266 1170Q266 1168 265 1171M289 1179Q289 1178 285 1177M272 1181Q268 1180 271 1178M294 1170Q287 1166 280 1162M259 1150Q268 1154 276 1160M258 1156Q260 1163 266 1170M278 1158Q277 1163 277 1159M250 1177Q256 1175 265 1171" fill="none" stroke="#4a4a4a" stroke-width="1" opacity="0.7"/>
<g fill="none" stroke-linecap="round" stroke-linejoin="round">
<path d="M407 1026L403 1027L400 1028L396 1028L392 1028M308 1041L306 1044L302 1047L299 1048L295 1050L293 1054L291 1057L290 1059M513 910L511 907L509 903L505 902L501 902L497 901L493 902M382 885L380 882L378 879L377 877M436 923L436 919L435 915L434 911L433 907L431 903L428 900L426 897L425 894L425 890M514 1000L516 997L518 993L519 989L521 986L523 983L524 979L525 975M426 992L424 989L421 986L418 984L415 981L412 979L409 976L406 973M348 1159L348 1163L347 1166L348 1170L349 1174M390 861L392 858L393 854L394 850L395 846L397 843L398 839L400 835L402 832L403 830M456 888L457 884L458 881L458 877L459 873L460 871M460 1014L464 1017L467 1019L469 1022L472 1025L475 1028L477 1031L479 1035L480 1039M271 1074L271 1078L271 1082L271 1086M531 953L532 949L533 945L533 941L537 939M299 1123L295 1125L291 1124L287 1124L283 1126L281 1129L279 1132L278 1136L278 1140L279 1144M229 1132L227 1136L224 1139L220 1139L216 1140L213 1141L209 1143L206 1145L204 1145M369 1031L368 1035L368 1039L367 1041M376 1152L374 1155L373 1158L373 1162L374 1166L375 1170L378 1173M336 1026L332 1026L329 1023L326 1020L326 1017L326 1013L327 1009L326 1005L327 1001L330 998M519 993L523 993L527 992L530 991L533 988L535 985L536 983M315 991L311 992L307 992L303 992L299 993L296 995M492 763L495 760L497 757L496 753M529 948L533 946L536 945L539 943L541 942M546 949L550 950L554 951L557 953L559 953M570 1024L572 1027L574 1031L574 1035L575 1037M485 980L489 981L493 982L496 983L500 984L504 982L506 979L509 976L511 975M468 977L472 977L476 977L480 977L484 978L488 979L491 980M509 1024L512 1022L516 1022L520 1022L524 1021L527 1018L530 1016L532 1013L535 1009M531 956L533 959L532 963L531 967L528 969L526 971M358 964L355 961L352 960L348 960L346 963L346 967L348 971M486 911L487 907L489 903L490 901M371 842L368 842L364 842L360 842L357 839L355 838M299 1038L295 1037L291 1036L287 1035L283 1034L280 1031L278 1031M411 945L411 941L412 937L412 933L413 929L415 926L417 922L418 918L418 914M458 1052L462 1053L466 1053L470 1052L474 1052L478 1051L481 1050L485 1052L489 1052L493 1052M280 1113L278 1116L274 1119L271 1121M378 1017L375 1018L372 1021L369 1024L367 1027L366 1031L366 1035L367 1037M346 990L343 988L340 985L337 983L336 981M514 1059L517 1061L520 1063L524 1064L528 1064L530 1063M449 936L447 933L447 929L447 925M364 995L361 992L360 989L359 985M299 1068L300 1072L300 1076L300 1080L300 1084L299 1088L298 1090M238 1135L236 1132L234 1128L233 1124L234 1120L235 1116L236 1113M373 1041L369 1041L366 1043L363 1045L360 1049L359 1052L357 1056M386 1016L383 1019L381 1023L379 1026L377 1030L379 1034L380 1037M379 994L375 996L373 1000L371 1003L368 1006L367 1007M382 1054L378 1054L374 1054L370 1054L366 1054L362 1055L358 1056L354 1055L350 1057M262 1100L260 1104L258 1107L256 1111L253 1113L250 1116M585 1036L589 1038L591 1041L593 1045L596 1048L597 1052L598 1056L599 1059L599 1061M560 1056L562 1059L563 1063L565 1067L565 1071L566 1073M430 942L434 941L438 940L442 940L446 941L448 941M316 1115L313 1119L313 1123L316 1125L319 1127L321 1129M390 992L387 991L384 988L382 985L380 981L378 978L378 976M540 1073L544 1074L547 1076L551 1076L555 1077L559 1077L562 1074L564 1073M483 954L479 952L475 952L472 952L468 952L464 953L461 956L459 960M344 987L340 985L337 984L333 983L331 983M478 1011L482 1012L486 1013L488 1017L488 1021L491 1024L493 1027L495 1030L498 1032L500 1034M418 991L414 990L411 988L408 986L404 983L402 981L398 978L395 976M326 1027L323 1029L319 1030L317 1031M492 987L494 984L497 982L501 980L503 977L506 974L509 972L512 973L514 974M375 1157L377 1161L380 1163L383 1166L387 1167L390 1169L392 1172L393 1174M378 965L374 965L371 963L368 960L364 959L362 958M612 1041L615 1040L619 1039L623 1037L625 1034L627 1031M281 1058L277 1058L274 1059L270 1059L266 1059L262 1059L258 1058L254 1058L250 1059M308 1079L304 1079L300 1078L297 1077L293 1075L290 1073L287 1071L283 1069M411 954L411 950L411 946L412 942L415 939M507 1100L509 1104L510 1108L510 1112L510 1114M312 1027L309 1029L306 1031L303 1034L299 1036L296 1037L292 1038L288 1039M179 1098L177 1101L177 1105L179 1109L178 1113L178 1117L179 1121L177 1125L175 1128M471 971L471 967L472 963L473 959L473 957M502 1013L506 1011L509 1009L511 1009M388 1048L387 1052L386 1056L385 1060L386 1064L387 1068L388 1071L389 1075L390 1077M501 1117L499 1121L497 1124L496 1126M493 1021L496 1022L500 1023L504 1025L507 1024L511 1023L514 1020L516 1019M602 982L605 979L607 976L610 973M396 1016L392 1016L389 1015L385 1013L383 1012M179 993L180 990L182 986L185 983L188 981L191 979L195 977L198 975L202 973M496 869L496 865L496 861L495 857L493 854L493 850L495 847L499 846L502 843L506 843M313 1071L310 1074L307 1076L305 1077M467 950L471 949L475 949L479 948L483 947L486 945L490 944L494 945L498 946L500 946M354 1061L350 1059L347 1057L344 1054L342 1051L341 1047L342 1045M404 1016L401 1017L397 1018L393 1018L389 1019L385 1018L383 1017M481 775L482 771L481 767L480 763L478 760L477 758M458 959L458 955L459 951L460 947L460 945M506 969L510 968L514 968L518 969L522 969L526 971L528 971M359 1015L355 1014L351 1012L347 1012L343 1011L340 1012L338 1012M420 1050L423 1052L427 1053L431 1055L433 1056M382 1046L381 1049L380 1053L380 1057L381 1061L383 1065L383 1069L383 1073M409 938L407 935L405 931L402 928L401 927M398 1039L394 1041L392 1044L389 1047L386 1050L385 1051M472 924L473 920L474 916L475 913L479 911L482 909L486 907L489 904L492 902L493 900M401 1095L398 1097L394 1098L390 1099L386 1099L382 1098L378 1098L374 1099L371 1098L369 1096M511 977L514 974L517 972L520 969L523 967L525 964L526 962M331 1107L327 1109L324 1111L320 1112L316 1113L314 1116L310 1119L308 1122L305 1125L302 1126M356 1110L355 1113L354 1117L354 1121M298 1077L294 1078L291 1079L287 1078L283 1076L282 1075M452 920L450 917L449 913L447 910L446 906L446 902L444 898L442 895L439 892M179 1056L179 1060L179 1064L179 1068L182 1071L185 1074L188 1076L192 1077M379 999L375 1000L372 1002L368 1002L364 1002L362 1002M474 1014L478 1015L482 1016L486 1017L490 1017L494 1018M536 1034L539 1031L542 1029L546 1028L549 1025L551 1025M531 886L534 888L537 891L540 894L541 895M306 1042L303 1044L299 1046L295 1047L292 1049L288 1051L285 1053L281 1055L277 1056L274 1057M494 1039L498 1037L501 1036L505 1035M564 1086L565 1089L565 1093L563 1097L559 1098L556 1100L552 1102L551 1103M414 1000L410 1001L406 1004L403 1006L399 1005L395 1005L393 1006M379 1021L376 1023L374 1027L373 1031L373 1035L375 1038L375 1042L375 1044M418 966L416 963L414 959L414 955M381 982L380 978L379 975L379 971L379 967L377 963L375 960L371 959L367 958L365 958M510 770L511 766L511 762L512 759L513 755M402 993L398 994L394 995L391 997L388 999L385 1002L382 1005L380 1009L380 1013L381 1017M431 882L431 878L432 874L434 870L435 867L436 863L436 859L434 856L432 852L429 849M234 1011L231 1013L227 1014L223 1015L219 1015L216 1014L212 1013L208 1013L204 1012M469 903L473 903L477 902L480 904L484 905L488 904L492 903L496 902M252 1106L248 1107L244 1106L240 1104L237 1102L233 1100L232 1100M358 964L354 962L351 961L349 961M374 1010L370 1010L366 1009L362 1009L360 1009M423 910L424 906L424 902L423 898L421 894L419 891L417 888L415 884L413 881M364 992L364 988L365 984L366 981L368 977L369 973L370 972M461 1018L460 1022L460 1026L459 1030L457 1034L457 1038L457 1040M407 958L404 957L400 956L396 955L394 954M434 791L436 787L438 784L439 780L441 777L444 774L447 772L451 769L452 768M228 1080L226 1083L224 1087L221 1090L218 1093L217 1096M436 779L439 778L443 778L447 778L449 779M382 1072L380 1075L378 1079L375 1082L372 1084L368 1086L364 1086L360 1085L357 1084L355 1084M479 986L482 987L486 988L490 989L494 991L497 993L501 994L505 994L507 994M539 886L536 883L534 880L531 877L527 875L524 874L520 874M393 1062L389 1063L385 1064L381 1065L378 1066L374 1068L373 1070M540 977L541 973L541 969L540 965M251 1110L247 1110L244 1112L242 1115L239 1119L237 1122L234 1124L230 1126L226 1126L224 1126M437 946L437 942L435 938L433 935L432 931L430 928L429 926M81 1115L78 1118L76 1121L74 1124L72 1128L71 1132L70 1136L66 1137L62 1139L60 1142M388 965L384 964L380 964L376 963L373 961L369 959L367 957L364 953L363 950L362 948M323 1081L320 1083L317 1085L314 1087L311 1090L309 1094L310 1098L312 1101M238 1130L237 1134L236 1138L236 1141L238 1145L240 1149L242 1152L244 1155L245 1157M403 1114L399 1113L395 1112L391 1111L387 1110L384 1107L381 1105M336 1042L334 1045L330 1047L327 1050L323 1051L320 1049L316 1047L313 1044L310 1042L308 1042M423 906L420 903L418 899L417 895L416 891L416 888L415 884L415 880L415 876L415 874M285 1099L283 1102L279 1104L277 1107L277 1111L277 1113M309 1043L306 1045L302 1047L298 1049L295 1051L292 1054L291 1056M368 1110L364 1109L360 1109L356 1108M379 884L377 881L373 879L371 875L371 872L371 868L371 866M210 1070L207 1071L203 1072L200 1074L196 1076L192 1077L188 1078L184 1079L180 1078M298 1058L294 1058L290 1058L286 1058L282 1058L278 1056L275 1055L271 1053L268 1051M414 1028L410 1029L406 1029L402 1029L398 1027L394 1027L391 1025L387 1024L383 1022L382 1021M211 1111L208 1114L206 1117L204 1121L200 1123L197 1125L193 1126L189 1128L187 1128M358 1021L354 1020L350 1020L346 1019L343 1017L339 1017L335 1018L331 1017M375 1046L371 1044L368 1042L364 1040L362 1037L359 1035L355 1033L352 1030M429 985L426 982L424 979L421 976M714 879L718 879L722 880L726 882L729 884L732 886L736 888L738 891L741 894L743 895M438 1015L441 1017L445 1018L449 1016L453 1015L457 1015L459 1015M497 964L500 966L504 967L508 968L512 970L515 972L517 975L521 977L524 979L526 979M620 984L623 981L626 978L630 977L632 973L635 971L638 968M517 978L521 977L524 979L527 982L530 984L533 987M464 923L463 920L460 917L459 913L458 911M518 967L521 965L524 963L528 962L530 962M477 966L481 966L485 966L489 966L493 967L496 970L497 971M402 928L404 924L406 920L406 916L404 913L403 911M433 958L429 958L425 958L421 958L417 958L413 957L410 955L408 953M314 1115L311 1118L309 1122L307 1125L306 1129L305 1132L303 1136L302 1140L301 1144L301 1146M318 1104L314 1102L311 1101L307 1101L303 1101L299 1102L297 1103M548 966L551 964L554 961L557 958L558 957M615 978L619 977L623 977L627 976L630 973L634 971L635 970M482 1028L485 1030L488 1033L489 1037L489 1041L490 1045M317 1026L315 1029L313 1033L312 1036L311 1040L308 1043L305 1045L303 1048L300 1051L299 1053M380 991L376 991L373 993L370 996L367 999L366 1003L366 1007L366 1009M447 1005L448 1009L450 1013L452 1016L456 1018M225 1127L222 1125L219 1122L219 1118L219 1114M609 1066L613 1068L616 1070L619 1073L622 1075L623 1076M367 972L364 973L360 974L356 976L353 978L349 980L345 980L342 981L338 981L334 982M490 770L490 766L489 762L488 759L487 755L484 752M319 982L315 981L311 980L308 978L306 975L305 971L304 967L301 965L299 964M383 1182L384 1186L385 1189L386 1193L387 1197M556 1018L559 1015L562 1013L566 1011L570 1011L572 1010M310 1032L307 1034L303 1036L301 1039L300 1043L299 1047L297 1050L297 1052M561 1051L563 1055L564 1058L566 1062L568 1063M419 1016L415 1017L411 1019L407 1019L403 1020L399 1021L396 1022L392 1024L389 1026L385 1028M290 1033L288 1030L285 1027L284 1023L283 1020L282 1016L282 1012L282 1010M376 1049L373 1048L369 1048L365 1048L361 1049L359 1049M357 1093L353 1092L350 1090L346 1090L342 1088L339 1085M561 1037L564 1040L567 1042L571 1043L575 1043L579 1043L583 1042L587 1041L591 1040L592 1041M537 928L538 924L537 920L538 916M537 989L538 985L541 982L544 980L547 978L551 977L555 976L558 978M517 1052L519 1055L519 1059L519 1063L521 1067L522 1071L524 1074M513 1002L517 1002L520 1001L524 999L528 998L532 999L535 1000L539 1002L542 1004M537 936L539 939L542 942L544 945L548 947L550 947M507 971L511 970L515 970L516 971M322 1063L319 1065L316 1068L315 1072L314 1076L312 1080L311 1083L309 1087L307 1088M382 899L383 896L384 892L386 888L388 887M370 991L366 990L362 991L359 993L356 996L353 999M480 971L480 967L480 963L479 959L479 955L480 951L481 947L481 945M460 1019L461 1023L462 1027L464 1030L466 1034L468 1037M487 782L488 778L487 774L487 771L486 767L485 765M536 935L539 933L543 934L546 937L550 938L552 939M406 1109L405 1113L404 1117L403 1121L404 1123M385 1068L386 1072L387 1076L388 1079L391 1082L393 1083M546 1006L550 1005L553 1003L557 1001L560 999L564 997L567 996L569 995M510 1013L510 1017L510 1021L509 1025L508 1029L510 1033L511 1034M294 1080L296 1084L295 1087L295 1091L295 1095L295 1099L296 1103M483 1028L487 1030L490 1032L493 1034M252 1085L253 1089L255 1093L257 1096L258 1100L259 1104L260 1107L260 1111L260 1113M235 1026L233 1023L231 1019L227 1018L224 1016L221 1013L219 1010L216 1007L212 1005M507 978L510 976L514 975L518 973L521 970L522 969M340 1080L336 1081L332 1082L329 1084L325 1086L322 1087L319 1090L318 1092M397 989L394 987L391 984L388 981M224 1116L221 1119L218 1121L217 1123M415 929L414 925L412 921L411 918M433 1019L429 1018L425 1018L421 1017L417 1017L414 1017L410 1017L406 1015L402 1014L400 1013M586 1056L589 1059L591 1062L592 1066L591 1070L591 1074L591 1076M305 1115L308 1117L312 1119L315 1121L319 1121L322 1118L325 1115L326 1114M610 1044L614 1047L617 1049L618 1050M479 948L476 945L472 945L469 943L466 941L463 938L460 935M432 1001L429 1003L425 1005L421 1005L417 1004L413 1004L409 1004L405 1004L401 1004L400 1005M542 1019L544 1023L546 1025L550 1027L554 1028L558 1029L561 1030L565 1033L567 1036M383 1124L381 1127L377 1129L374 1131L372 1134L371 1138L369 1141L368 1143M461 930L459 926L459 922L458 918L457 914L458 911L459 907L459 903L460 899L459 897M572 1006L576 1005L580 1004L581 1003M381 1157L378 1159L374 1159L370 1160L366 1160L362 1161M403 958L407 957L411 956L415 955L419 954L423 956L426 958L430 959L433 962M383 966L380 969L378 972L375 975L372 977L369 980M471 1045L471 1049L470 1053L470 1057L470 1061L469 1065L466 1068L463 1070L459 1071M584 1034L588 1034L592 1034L595 1032L597 1031M461 983L462 979L462 975L463 971L462 967L461 964L459 960L458 956L458 952M358 984L356 981L352 979L348 979L344 978L340 978L337 978L333 978L329 976L327 975M455 934L452 932L448 932L444 931L440 930L436 929M373 987L369 985L366 983L363 981L360 978L356 977M398 979L395 977L392 974L390 971L389 969M250 1129L251 1132L251 1136L252 1140L253 1144L254 1148L254 1152M359 1135L355 1137L351 1137L347 1137M592 1005L594 1002L596 998L598 995L600 991L602 990M387 899L386 895L384 891L382 888L382 884M524 991L526 994L528 997L528 1001L527 1005L525 1009L524 1012L523 1016L522 1020M306 1109L302 1108L298 1108L295 1110L292 1113L289 1116L286 1117L282 1118L278 1119L276 1120M297 994L293 995L289 995L286 994L282 992L278 993L274 993M317 1149L315 1146L313 1142L313 1138L313 1134L313 1130M524 943L528 943L532 942L536 940L539 940L543 939L547 939L551 940L555 942M395 979L392 976L389 973L386 971L382 970L378 969L376 969M391 903L390 900L389 896L390 892L389 888M450 930L451 926L451 922L452 920M407 992L403 994L400 996L396 997L392 997L388 996L384 996L382 997M386 1027L382 1026L379 1023L375 1021L372 1020L369 1018L366 1015M342 1038L340 1042L337 1044L334 1047L334 1051M490 949L494 948L498 946L501 944L504 942L508 940L511 938L515 938L519 937L521 936M361 1057L357 1056L353 1055L351 1054M486 960L485 956L483 952L481 949L479 946L477 942L476 938L473 935L470 933L468 930M486 963L490 962L493 960L497 959L501 958L504 956M120 1041L123 1043L126 1045L130 1046L134 1047L137 1049L140 1052L141 1054M610 1024L614 1025L618 1026L622 1026L625 1028L628 1031L632 1033L636 1034L639 1035M442 997L444 994L446 990L447 988M468 797L468 793L466 789L465 785L465 781L466 777L467 773L468 770L469 768M523 960L526 962L530 964L532 968L534 971L534 975L535 979M261 1106L261 1110L260 1114L259 1118L257 1122L256 1125L255 1129M279 1074L277 1077L274 1081L273 1082M384 971L384 967L382 963L379 960L376 957L374 954L371 951M342 1161L339 1163L335 1165L331 1165L327 1164L323 1163L320 1162L318 1162M409 922L406 918L404 915L403 912L401 908M295 1057L292 1059L288 1059L284 1057L280 1056L277 1053L276 1052M413 1068L416 1070L420 1071L423 1073L427 1075L430 1077M438 1069L434 1070L430 1070L427 1068L424 1065L422 1061L419 1059L417 1055L414 1052L413 1051M484 1045L487 1048L490 1050L493 1053L495 1056L498 1059M543 1003L547 1001L551 1001L555 1002L558 1003L562 1004L564 1004M479 1014L483 1016L486 1019L489 1021M432 1040L431 1044L431 1048L430 1052L430 1056L429 1060L429 1062M623 970L627 968L631 968L635 968L637 969M121 1047L118 1044L115 1042L114 1040M369 1032L367 1036L365 1039L364 1043L362 1047L363 1051L365 1054L367 1055M362 999L358 999L354 999L350 999L346 998L342 1000L341 1001M422 1005L419 1004L415 1002L412 999L409 997L406 995L403 992L402 988L402 984L403 982M440 1082L443 1086L446 1088L450 1088M378 1047L378 1051L379 1055L379 1059L380 1063L381 1067L383 1070L385 1074L385 1077L387 1081M387 1069L384 1071L380 1072L376 1073L372 1075L369 1077L367 1078M412 907L413 903L414 899L414 895L413 891L414 888M461 942L459 938L458 935L456 931L457 927L458 923L460 920L462 916L464 913L466 912M447 908L446 904L445 901L443 897L440 895L436 895L434 896M253 1062L249 1062L245 1063L241 1064L238 1066L235 1069L233 1070M371 1054L369 1058L368 1061L367 1065L366 1067M503 938L503 934L503 930L502 926L501 922L501 920M475 910L472 907L469 905L466 902L465 898L465 894L465 890L464 886L463 884M257 1055L254 1057L251 1060L249 1063L246 1066L244 1069L242 1072L239 1075L235 1077L232 1079M370 1095L373 1096L376 1099L378 1102L380 1106L380 1110L381 1114L381 1118L381 1120M169 1099L170 1096L169 1092L168 1088L167 1084L166 1080L165 1076L165 1072L165 1070M441 1059L443 1062L446 1065L449 1068L452 1070L456 1072L458 1075L460 1078L461 1082M318 1060L314 1062L311 1065L310 1066M422 1043L422 1047L421 1051L421 1055L421 1059L421 1063M583 1036L587 1034L591 1032L592 1031M170 1070L166 1069L162 1070L158 1069L155 1068L151 1066L148 1064M391 993L388 990L386 987L384 984L382 980L382 976L382 972L382 968L382 964M445 941L442 939L438 938L434 938L430 938L426 939L423 940M471 781L470 777L468 774L465 771L462 770L460 770M540 967L541 963L541 959L541 955L541 953M315 1141L317 1144L320 1146L324 1148L328 1149L332 1149M543 968L546 965L549 963L552 960L556 960L560 962L563 964L567 966L570 967L572 968M516 975L519 974L523 974L527 975L531 977L535 978L537 978M380 972L376 973L374 976L372 979L369 982L366 985L363 987L361 988M175 1107L172 1111L171 1114L171 1118L170 1122M628 1035L631 1034L635 1032L639 1031L643 1030L646 1029L649 1026L651 1022L652 1020M514 1025L517 1028L520 1031L523 1034L525 1037L527 1040L530 1042L532 1046L533 1050M369 1118L365 1119L361 1121L358 1123L356 1124M347 1095L344 1097L341 1100L338 1103L336 1106L333 1109L330 1111L327 1114L323 1116L322 1117M344 1088L344 1092L346 1096L348 1099L349 1103L351 1106L353 1109L356 1113L359 1115M544 891L548 891L552 892L556 894L559 895L563 897L565 898M466 992L470 992L474 993L477 995L480 998L484 999L488 1000L492 1001L495 1003M381 873L379 869L376 866L373 864L369 862L367 860L365 856L364 854M543 949L546 946L549 944L552 941L556 940M300 1067L303 1070L305 1073L307 1074M238 980L239 976L240 972L242 969L245 967L249 967L253 967M473 1002L477 1004L481 1004L485 1005L489 1005L493 1003L497 1002L499 1002M397 989L393 991L390 994L388 997L385 1000L382 1003L380 1004M524 1047L527 1044L530 1042L533 1039L535 1036M307 1024L303 1023L299 1023L295 1023L291 1023L287 1024L285 1025M502 997L505 999L509 999L513 1001L516 1003L518 1006L521 1009L525 1010L529 1010L531 1011M533 933L537 932L540 931L544 929L547 926L550 924L553 922L555 921M482 1000L482 996L482 992L482 988L484 984L484 980L485 978M554 1048L558 1049L562 1049L566 1050L570 1051L574 1052L577 1051L581 1050L585 1050L587 1050M358 1038L355 1039L351 1041L347 1042L343 1043L342 1044M310 987L306 989L303 990L300 993L297 996L293 998L290 1000L289 1002M359 1021L356 1025L354 1028L351 1031L350 1035L349 1039L349 1042L348 1044M520 947L524 947L528 947L532 946L536 945L539 942L542 941L546 940M502 1021L506 1022L510 1023L513 1026M470 972L474 974L477 976L479 980L481 983L483 984M427 1125L427 1129L429 1132L431 1136L433 1139L435 1143L437 1146L439 1149L441 1153L442 1154M416 1046L417 1050L417 1054L420 1057L422 1060M411 1047L412 1051L411 1055L410 1058L409 1062L410 1066L411 1070L411 1074L411 1076M401 969L400 965L400 962L401 958M471 1032L474 1034L477 1037L478 1041M439 907L443 908L446 909L450 909L454 910L458 910M212 1082L209 1084L207 1087L204 1090L201 1092L199 1096L196 1099L194 1102L192 1106L191 1107M322 1078L319 1076L315 1074L312 1072L308 1070L304 1069L301 1068L297 1066L295 1065M347 967L343 967L339 968L335 968L331 968L329 968M510 1043L514 1044L518 1044L522 1046L524 1049L525 1053M463 1006L465 1009L468 1012L471 1014L472 1016M457 786L454 783L450 784L446 784L442 786L438 787L434 787L431 790L429 793L428 795M588 1037L591 1035L593 1031L595 1028L596 1026M296 1120L295 1123L295 1127L293 1131L291 1134L291 1136M361 1021L358 1022L355 1025L354 1029L353 1032L353 1036L351 1040L350 1042M340 1032L338 1029L335 1026L331 1024L328 1023L324 1022L320 1022L316 1022L314 1022M301 1022L297 1021L293 1020L289 1019M302 1001L300 1005L299 1009L299 1013L300 1016L300 1020L300 1022M515 762L515 758L512 755L508 754L504 754L500 755L497 757L493 758L489 759M352 1059L348 1059L345 1062L341 1064L339 1067L336 1070L333 1072M408 1064L408 1068L407 1072L407 1076M296 1001L292 1003L289 1006L287 1009L285 1012L284 1014M466 765L466 762L465 758L465 754L465 750M519 960L521 956L523 953L525 949L526 946L527 942L525 938L524 934L521 932L518 929M343 1017L339 1016L335 1017L331 1017L328 1015L324 1013L320 1013L316 1014L312 1014L310 1015M610 1041L614 1043L618 1043L621 1042L625 1040L627 1039M293 942L292 946L291 950L290 954L289 958L288 961L286 965L286 969L286 973L286 975M376 1064L377 1068L379 1072L380 1076L383 1078M349 1031L345 1030L341 1031L339 1032M439 1016L438 1019L436 1023L435 1027L434 1030L431 1034L428 1036M360 1078L358 1082L357 1086L357 1090L357 1094L356 1098L356 1101L355 1105L355 1107M396 858L392 858L388 857L384 856L380 855L379 854M511 973L513 970L516 967L519 964L521 960L523 957L525 954M456 1046L460 1048L464 1048L468 1048L471 1049L475 1051M474 780L475 776L476 772L477 768L477 764L476 760L477 756L478 753M554 1020L558 1019L562 1019L566 1019L570 1020L574 1020L578 1020L582 1020L586 1019L588 1018M428 964L429 960L428 956L427 952L427 948L427 944L427 940L428 936M525 984L528 986L531 989L533 991M336 1145L337 1149L336 1153L334 1156L333 1160L331 1163L328 1166L326 1169L322 1172M398 1064L398 1068L395 1072L392 1074L389 1076L385 1078L382 1080L380 1083M307 1068L303 1069L299 1069L296 1067L293 1064L291 1061L290 1060M227 1013L224 1015L220 1016L217 1019L215 1023L215 1027M260 1010L256 1009L252 1008L248 1007M439 1036L437 1039L437 1043L438 1047L440 1050L444 1051L448 1051L452 1052L455 1054L459 1056M491 943L494 940L498 939L502 937L505 935L507 934M327 991L323 992L319 992L316 994L314 994M399 980L395 980L391 979L388 977L385 974L382 972L379 969L377 966L374 962L374 961M465 970L465 966L465 962L464 958L466 954L466 950M255 1118L252 1121L249 1123L246 1126L243 1128L239 1129L235 1130L231 1131L229 1131M454 950L452 946L451 942L451 940M467 1033L467 1037L467 1041L468 1045L471 1048L474 1050L476 1051M321 949L317 947L314 946L310 945M484 1057L487 1060L489 1063L490 1067L492 1070L493 1074L495 1078L497 1081L499 1084M386 998L383 1000L380 1003L379 1005M467 1037L470 1039L473 1042L476 1045L478 1046M520 955L523 957L527 959L530 961L534 963M528 1008L532 1008L536 1009L539 1011L543 1012L547 1012M405 1041L401 1041L397 1042L393 1044L389 1045L388 1046M195 1193L191 1191L187 1190L184 1188L181 1185L178 1182L176 1181M191 1136L192 1140L191 1144L192 1148M290 1042L289 1045L288 1049L288 1053L289 1057" stroke="#6a186a" stroke-width="5.5" opacity="0.6"/>
<path d="M407 1026L403 1027L400 1028L396 1028L392 1028M308 1041L306 1044L302 1047L299 1048L295 1050L293 1054L291 1057L290 1059M513 910L511 907L509 903L505 902L501 902L497 901L493 902M382 885L380 882L378 879L377 877M436 923L436 919L435 915L434 911L433 907L431 903L428 900L426 897L425 894L425 890M514 1000L516 997L518 993L519 989L521 986L523 983L524 979L525 975M426 992L424 989L421 986L418 984L415 981L412 979L409 976L406 973M348 1159L348 1163L347 1166L348 1170L349 1174M390 861L392 858L393 854L394 850L395 846L397 843L398 839L400 835L402 832L403 830M456 888L457 884L458 881L458 877L459 873L460 871M460 1014L464 1017L467 1019L469 1022L472 1025L475 1028L477 1031L479 1035L480 1039M271 1074L271 1078L271 1082L271 1086M531 953L532 949L533 945L533 941L537 939M299 1123L295 1125L291 1124L287 1124L283 1126L281 1129L279 1132L278 1136L278 1140L279 1144M229 1132L227 1136L224 1139L220 1139L216 1140L213 1141L209 1143L206 1145L204 1145M369 1031L368 1035L368 1039L367 1041M376 1152L374 1155L373 1158L373 1162L374 1166L375 1170L378 1173M336 1026L332 1026L329 1023L326 1020L326 1017L326 1013L327 1009L326 1005L327 1001L330 998M519 993L523 993L527 992L530 991L533 988L535 985L536 983M315 991L311 992L307 992L303 992L299 993L296 995M492 763L495 760L497 757L496 753M529 948L533 946L536 945L539 943L541 942M546 949L550 950L554 951L557 953L559 953M570 1024L572 1027L574 1031L574 1035L575 1037M485 980L489 981L493 982L496 983L500 984L504 982L506 979L509 976L511 975M468 977L472 977L476 977L480 977L484 978L488 979L491 980M509 1024L512 1022L516 1022L520 1022L524 1021L527 1018L530 1016L532 1013L535 1009M531 956L533 959L532 963L531 967L528 969L526 971M358 964L355 961L352 960L348 960L346 963L346 967L348 971M486 911L487 907L489 903L490 901M371 842L368 842L364 842L360 842L357 839L355 838M299 1038L295 1037L291 1036L287 1035L283 1034L280 1031L278 1031M411 945L411 941L412 937L412 933L413 929L415 926L417 922L418 918L418 914M458 1052L462 1053L466 1053L470 1052L474 1052L478 1051L481 1050L485 1052L489 1052L493 1052M280 1113L278 1116L274 1119L271 1121M378 1017L375 1018L372 1021L369 1024L367 1027L366 1031L366 1035L367 1037M346 990L343 988L340 985L337 983L336 981M514 1059L517 1061L520 1063L524 1064L528 1064L530 1063M449 936L447 933L447 929L447 925M364 995L361 992L360 989L359 985M299 1068L300 1072L300 1076L300 1080L300 1084L299 1088L298 1090M238 1135L236 1132L234 1128L233 1124L234 1120L235 1116L236 1113M373 1041L369 1041L366 1043L363 1045L360 1049L359 1052L357 1056M386 1016L383 1019L381 1023L379 1026L377 1030L379 1034L380 1037M379 994L375 996L373 1000L371 1003L368 1006L367 1007M382 1054L378 1054L374 1054L370 1054L366 1054L362 1055L358 1056L354 1055L350 1057M262 1100L260 1104L258 1107L256 1111L253 1113L250 1116M585 1036L589 1038L591 1041L593 1045L596 1048L597 1052L598 1056L599 1059L599 1061M560 1056L562 1059L563 1063L565 1067L565 1071L566 1073M430 942L434 941L438 940L442 940L446 941L448 941M316 1115L313 1119L313 1123L316 1125L319 1127L321 1129M390 992L387 991L384 988L382 985L380 981L378 978L378 976M540 1073L544 1074L547 1076L551 1076L555 1077L559 1077L562 1074L564 1073M483 954L479 952L475 952L472 952L468 952L464 953L461 956L459 960M344 987L340 985L337 984L333 983L331 983M478 1011L482 1012L486 1013L488 1017L488 1021L491 1024L493 1027L495 1030L498 1032L500 1034M418 991L414 990L411 988L408 986L404 983L402 981L398 978L395 976M326 1027L323 1029L319 1030L317 1031M492 987L494 984L497 982L501 980L503 977L506 974L509 972L512 973L514 974M375 1157L377 1161L380 1163L383 1166L387 1167L390 1169L392 1172L393 1174M378 965L374 965L371 963L368 960L364 959L362 958M612 1041L615 1040L619 1039L623 1037L625 1034L627 1031M281 1058L277 1058L274 1059L270 1059L266 1059L262 1059L258 1058L254 1058L250 1059M308 1079L304 1079L300 1078L297 1077L293 1075L290 1073L287 1071L283 1069M411 954L411 950L411 946L412 942L415 939M507 1100L509 1104L510 1108L510 1112L510 1114M312 1027L309 1029L306 1031L303 1034L299 1036L296 1037L292 1038L288 1039M179 1098L177 1101L177 1105L179 1109L178 1113L178 1117L179 1121L177 1125L175 1128M471 971L471 967L472 963L473 959L473 957M502 1013L506 1011L509 1009L511 1009M388 1048L387 1052L386 1056L385 1060L386 1064L387 1068L388 1071L389 1075L390 1077M501 1117L499 1121L497 1124L496 1126M493 1021L496 1022L500 1023L504 1025L507 1024L511 1023L514 1020L516 1019M602 982L605 979L607 976L610 973M396 1016L392 1016L389 1015L385 1013L383 1012M179 993L180 990L182 986L185 983L188 981L191 979L195 977L198 975L202 973M496 869L496 865L496 861L495 857L493 854L493 850L495 847L499 846L502 843L506 843M313 1071L310 1074L307 1076L305 1077M467 950L471 949L475 949L479 948L483 947L486 945L490 944L494 945L498 946L500 946M354 1061L350 1059L347 1057L344 1054L342 1051L341 1047L342 1045M404 1016L401 1017L397 1018L393 1018L389 1019L385 1018L383 1017M481 775L482 771L481 767L480 763L478 760L477 758M458 959L458 955L459 951L460 947L460 945M506 969L510 968L514 968L518 969L522 969L526 971L528 971M359 1015L355 1014L351 1012L347 1012L343 1011L340 1012L338 1012M420 1050L423 1052L427 1053L431 1055L433 1056M382 1046L381 1049L380 1053L380 1057L381 1061L383 1065L383 1069L383 1073M409 938L407 935L405 931L402 928L401 927M398 1039L394 1041L392 1044L389 1047L386 1050L385 1051M472 924L473 920L474 916L475 913L479 911L482 909L486 907L489 904L492 902L493 900M401 1095L398 1097L394 1098L390 1099L386 1099L382 1098L378 1098L374 1099L371 1098L369 1096M511 977L514 974L517 972L520 969L523 967L525 964L526 962M331 1107L327 1109L324 1111L320 1112L316 1113L314 1116L310 1119L308 1122L305 1125L302 1126M356 1110L355 1113L354 1117L354 1121M298 1077L294 1078L291 1079L287 1078L283 1076L282 1075M452 920L450 917L449 913L447 910L446 906L446 902L444 898L442 895L439 892M179 1056L179 1060L179 1064L179 1068L182 1071L185 1074L188 1076L192 1077M379 999L375 1000L372 1002L368 1002L364 1002L362 1002M474 1014L478 1015L482 1016L486 1017L490 1017L494 1018M536 1034L539 1031L542 1029L546 1028L549 1025L551 1025M531 886L534 888L537 891L540 894L541 895M306 1042L303 1044L299 1046L295 1047L292 1049L288 1051L285 1053L281 1055L277 1056L274 1057M494 1039L498 1037L501 1036L505 1035M564 1086L565 1089L565 1093L563 1097L559 1098L556 1100L552 1102L551 1103M414 1000L410 1001L406 1004L403 1006L399 1005L395 1005L393 1006M379 1021L376 1023L374 1027L373 1031L373 1035L375 1038L375 1042L375 1044M418 966L416 963L414 959L414 955M381 982L380 978L379 975L379 971L379 967L377 963L375 960L371 959L367 958L365 958M510 770L511 766L511 762L512 759L513 755M402 993L398 994L394 995L391 997L388 999L385 1002L382 1005L380 1009L380 1013L381 1017M431 882L431 878L432 874L434 870L435 867L436 863L436 859L434 856L432 852L429 849M234 1011L231 1013L227 1014L223 1015L219 1015L216 1014L212 1013L208 1013L204 1012M469 903L473 903L477 902L480 904L484 905L488 904L492 903L496 902M252 1106L248 1107L244 1106L240 1104L237 1102L233 1100L232 1100M358 964L354 962L351 961L349 961M374 1010L370 1010L366 1009L362 1009L360 1009M423 910L424 906L424 902L423 898L421 894L419 891L417 888L415 884L413 881M364 992L364 988L365 984L366 981L368 977L369 973L370 972M461 1018L460 1022L460 1026L459 1030L457 1034L457 1038L457 1040M407 958L404 957L400 956L396 955L394 954M434 791L436 787L438 784L439 780L441 777L444 774L447 772L451 769L452 768M228 1080L226 1083L224 1087L221 1090L218 1093L217 1096M436 779L439 778L443 778L447 778L449 779M382 1072L380 1075L378 1079L375 1082L372 1084L368 1086L364 1086L360 1085L357 1084L355 1084M479 986L482 987L486 988L490 989L494 991L497 993L501 994L505 994L507 994M539 886L536 883L534 880L531 877L527 875L524 874L520 874M393 1062L389 1063L385 1064L381 1065L378 1066L374 1068L373 1070M540 977L541 973L541 969L540 965M251 1110L247 1110L244 1112L242 1115L239 1119L237 1122L234 1124L230 1126L226 1126L224 1126M437 946L437 942L435 938L433 935L432 931L430 928L429 926M81 1115L78 1118L76 1121L74 1124L72 1128L71 1132L70 1136L66 1137L62 1139L60 1142M388 965L384 964L380 964L376 963L373 961L369 959L367 957L364 953L363 950L362 948M323 1081L320 1083L317 1085L314 1087L311 1090L309 1094L310 1098L312 1101M238 1130L237 1134L236 1138L236 1141L238 1145L240 1149L242 1152L244 1155L245 1157M403 1114L399 1113L395 1112L391 1111L387 1110L384 1107L381 1105M336 1042L334 1045L330 1047L327 1050L323 1051L320 1049L316 1047L313 1044L310 1042L308 1042M423 906L420 903L418 899L417 895L416 891L416 888L415 884L415 880L415 876L415 874M285 1099L283 1102L279 1104L277 1107L277 1111L277 1113M309 1043L306 1045L302 1047L298 1049L295 1051L292 1054L291 1056M368 1110L364 1109L360 1109L356 1108M379 884L377 881L373 879L371 875L371 872L371 868L371 866M210 1070L207 1071L203 1072L200 1074L196 1076L192 1077L188 1078L184 1079L180 1078M298 1058L294 1058L290 1058L286 1058L282 1058L278 1056L275 1055L271 1053L268 1051M414 1028L410 1029L406 1029L402 1029L398 1027L394 1027L391 1025L387 1024L383 1022L382 1021M211 1111L208 1114L206 1117L204 1121L200 1123L197 1125L193 1126L189 1128L187 1128M358 1021L354 1020L350 1020L346 1019L343 1017L339 1017L335 1018L331 1017M375 1046L371 1044L368 1042L364 1040L362 1037L359 1035L355 1033L352 1030M429 985L426 982L424 979L421 976M714 879L718 879L722 880L726 882L729 884L732 886L736 888L738 891L741 894L743 895M438 1015L441 1017L445 1018L449 1016L453 1015L457 1015L459 1015M497 964L500 966L504 967L508 968L512 970L515 972L517 975L521 977L524 979L526 979M620 984L623 981L626 978L630 977L632 973L635 971L638 968M517 978L521 977L524 979L527 982L530 984L533 987M464 923L463 920L460 917L459 913L458 911M518 967L521 965L524 963L528 962L530 962M477 966L481 966L485 966L489 966L493 967L496 970L497 971M402 928L404 924L406 920L406 916L404 913L403 911M433 958L429 958L425 958L421 958L417 958L413 957L410 955L408 953M314 1115L311 1118L309 1122L307 1125L306 1129L305 1132L303 1136L302 1140L301 1144L301 1146M318 1104L314 1102L311 1101L307 1101L303 1101L299 1102L297 1103M548 966L551 964L554 961L557 958L558 957M615 978L619 977L623 977L627 976L630 973L634 971L635 970M482 1028L485 1030L488 1033L489 1037L489 1041L490 1045M317 1026L315 1029L313 1033L312 1036L311 1040L308 1043L305 1045L303 1048L300 1051L299 1053M380 991L376 991L373 993L370 996L367 999L366 1003L366 1007L366 1009M447 1005L448 1009L450 1013L452 1016L456 1018M225 1127L222 1125L219 1122L219 1118L219 1114M609 1066L613 1068L616 1070L619 1073L622 1075L623 1076M367 972L364 973L360 974L356 976L353 978L349 980L345 980L342 981L338 981L334 982M490 770L490 766L489 762L488 759L487 755L484 752M319 982L315 981L311 980L308 978L306 975L305 971L304 967L301 965L299 964M383 1182L384 1186L385 1189L386 1193L387 1197M556 1018L559 1015L562 1013L566 1011L570 1011L572 1010M310 1032L307 1034L303 1036L301 1039L300 1043L299 1047L297 1050L297 1052M561 1051L563 1055L564 1058L566 1062L568 1063M419 1016L415 1017L411 1019L407 1019L403 1020L399 1021L396 1022L392 1024L389 1026L385 1028M290 1033L288 1030L285 1027L284 1023L283 1020L282 1016L282 1012L282 1010M376 1049L373 1048L369 1048L365 1048L361 1049L359 1049M357 1093L353 1092L350 1090L346 1090L342 1088L339 1085M561 1037L564 1040L567 1042L571 1043L575 1043L579 1043L583 1042L587 1041L591 1040L592 1041M537 928L538 924L537 920L538 916M537 989L538 985L541 982L544 980L547 978L551 977L555 976L558 978M517 1052L519 1055L519 1059L519 1063L521 1067L522 1071L524 1074M513 1002L517 1002L520 1001L524 999L528 998L532 999L535 1000L539 1002L542 1004M537 936L539 939L542 942L544 945L548 947L550 947M507 971L511 970L515 970L516 971M322 1063L319 1065L316 1068L315 1072L314 1076L312 1080L311 1083L309 1087L307 1088M382 899L383 896L384 892L386 888L388 887M370 991L366 990L362 991L359 993L356 996L353 999M480 971L480 967L480 963L479 959L479 955L480 951L481 947L481 945M460 1019L461 1023L462 1027L464 1030L466 1034L468 1037M487 782L488 778L487 774L487 771L486 767L485 765M536 935L539 933L543 934L546 937L550 938L552 939M406 1109L405 1113L404 1117L403 1121L404 1123M385 1068L386 1072L387 1076L388 1079L391 1082L393 1083M546 1006L550 1005L553 1003L557 1001L560 999L564 997L567 996L569 995M510 1013L510 1017L510 1021L509 1025L508 1029L510 1033L511 1034M294 1080L296 1084L295 1087L295 1091L295 1095L295 1099L296 1103M483 1028L487 1030L490 1032L493 1034M252 1085L253 1089L255 1093L257 1096L258 1100L259 1104L260 1107L260 1111L260 1113M235 1026L233 1023L231 1019L227 1018L224 1016L221 1013L219 1010L216 1007L212 1005M507 978L510 976L514 975L518 973L521 970L522 969M340 1080L336 1081L332 1082L329 1084L325 1086L322 1087L319 1090L318 1092M397 989L394 987L391 984L388 981M224 1116L221 1119L218 1121L217 1123M415 929L414 925L412 921L411 918M433 1019L429 1018L425 1018L421 1017L417 1017L414 1017L410 1017L406 1015L402 1014L400 1013M586 1056L589 1059L591 1062L592 1066L591 1070L591 1074L591 1076M305 1115L308 1117L312 1119L315 1121L319 1121L322 1118L325 1115L326 1114M610 1044L614 1047L617 1049L618 1050M479 948L476 945L472 945L469 943L466 941L463 938L460 935M432 1001L429 1003L425 1005L421 1005L417 1004L413 1004L409 1004L405 1004L401 1004L400 1005M542 1019L544 1023L546 1025L550 1027L554 1028L558 1029L561 1030L565 1033L567 1036M383 1124L381 1127L377 1129L374 1131L372 1134L371 1138L369 1141L368 1143M461 930L459 926L459 922L458 918L457 914L458 911L459 907L459 903L460 899L459 897M572 1006L576 1005L580 1004L581 1003M381 1157L378 1159L374 1159L370 1160L366 1160L362 1161M403 958L407 957L411 956L415 955L419 954L423 956L426 958L430 959L433 962M383 966L380 969L378 972L375 975L372 977L369 980M471 1045L471 1049L470 1053L470 1057L470 1061L469 1065L466 1068L463 1070L459 1071M584 1034L588 1034L592 1034L595 1032L597 1031M461 983L462 979L462 975L463 971L462 967L461 964L459 960L458 956L458 952M358 984L356 981L352 979L348 979L344 978L340 978L337 978L333 978L329 976L327 975M455 934L452 932L448 932L444 931L440 930L436 929M373 987L369 985L366 983L363 981L360 978L356 977M398 979L395 977L392 974L390 971L389 969M250 1129L251 1132L251 1136L252 1140L253 1144L254 1148L254 1152M359 1135L355 1137L351 1137L347 1137M592 1005L594 1002L596 998L598 995L600 991L602 990M387 899L386 895L384 891L382 888L382 884M524 991L526 994L528 997L528 1001L527 1005L525 1009L524 1012L523 1016L522 1020M306 1109L302 1108L298 1108L295 1110L292 1113L289 1116L286 1117L282 1118L278 1119L276 1120M297 994L293 995L289 995L286 994L282 992L278 993L274 993M317 1149L315 1146L313 1142L313 1138L313 1134L313 1130M524 943L528 943L532 942L536 940L539 940L543 939L547 939L551 940L555 942M395 979L392 976L389 973L386 971L382 970L378 969L376 969M391 903L390 900L389 896L390 892L389 888M450 930L451 926L451 922L452 920M407 992L403 994L400 996L396 997L392 997L388 996L384 996L382 997M386 1027L382 1026L379 1023L375 1021L372 1020L369 1018L366 1015M342 1038L340 1042L337 1044L334 1047L334 1051M490 949L494 948L498 946L501 944L504 942L508 940L511 938L515 938L519 937L521 936M361 1057L357 1056L353 1055L351 1054M486 960L485 956L483 952L481 949L479 946L477 942L476 938L473 935L470 933L468 930M486 963L490 962L493 960L497 959L501 958L504 956M120 1041L123 1043L126 1045L130 1046L134 1047L137 1049L140 1052L141 1054M610 1024L614 1025L618 1026L622 1026L625 1028L628 1031L632 1033L636 1034L639 1035M442 997L444 994L446 990L447 988M468 797L468 793L466 789L465 785L465 781L466 777L467 773L468 770L469 768M523 960L526 962L530 964L532 968L534 971L534 975L535 979M261 1106L261 1110L260 1114L259 1118L257 1122L256 1125L255 1129M279 1074L277 1077L274 1081L273 1082M384 971L384 967L382 963L379 960L376 957L374 954L371 951M342 1161L339 1163L335 1165L331 1165L327 1164L323 1163L320 1162L318 1162M409 922L406 918L404 915L403 912L401 908M295 1057L292 1059L288 1059L284 1057L280 1056L277 1053L276 1052M413 1068L416 1070L420 1071L423 1073L427 1075L430 1077M438 1069L434 1070L430 1070L427 1068L424 1065L422 1061L419 1059L417 1055L414 1052L413 1051M484 1045L487 1048L490 1050L493 1053L495 1056L498 1059M543 1003L547 1001L551 1001L555 1002L558 1003L562 1004L564 1004M479 1014L483 1016L486 1019L489 1021M432 1040L431 1044L431 1048L430 1052L430 1056L429 1060L429 1062M623 970L627 968L631 968L635 968L637 969M121 1047L118 1044L115 1042L114 1040M369 1032L367 1036L365 1039L364 1043L362 1047L363 1051L365 1054L367 1055M362 999L358 999L354 999L350 999L346 998L342 1000L341 1001M422 1005L419 1004L415 1002L412 999L409 997L406 995L403 992L402 988L402 984L403 982M440 1082L443 1086L446 1088L450 1088M378 1047L378 1051L379 1055L379 1059L380 1063L381 1067L383 1070L385 1074L385 1077L387 1081M387 1069L384 1071L380 1072L376 1073L372 1075L369 1077L367 1078M412 907L413 903L414 899L414 895L413 891L414 888M461 942L459 938L458 935L456 931L457 927L458 923L460 920L462 916L464 913L466 912M447 908L446 904L445 901L443 897L440 895L436 895L434 896M253 1062L249 1062L245 1063L241 1064L238 1066L235 1069L233 1070M371 1054L369 1058L368 1061L367 1065L366 1067M503 938L503 934L503 930L502 926L501 922L501 920M475 910L472 907L469 905L466 902L465 898L465 894L465 890L464 886L463 884M257 1055L254 1057L251 1060L249 1063L246 1066L244 1069L242 1072L239 1075L235 1077L232 1079M370 1095L373 1096L376 1099L378 1102L380 1106L380 1110L381 1114L381 1118L381 1120M169 1099L170 1096L169 1092L168 1088L167 1084L166 1080L165 1076L165 1072L165 1070M441 1059L443 1062L446 1065L449 1068L452 1070L456 1072L458 1075L460 1078L461 1082M318 1060L314 1062L311 1065L310 1066M422 1043L422 1047L421 1051L421 1055L421 1059L421 1063M583 1036L587 1034L591 1032L592 1031M170 1070L166 1069L162 1070L158 1069L155 1068L151 1066L148 1064M391 993L388 990L386 987L384 984L382 980L382 976L382 972L382 968L382 964M445 941L442 939L438 938L434 938L430 938L426 939L423 940M471 781L470 777L468 774L465 771L462 770L460 770M540 967L541 963L541 959L541 955L541 953M315 1141L317 1144L320 1146L324 1148L328 1149L332 1149M543 968L546 965L549 963L552 960L556 960L560 962L563 964L567 966L570 967L572 968M516 975L519 974L523 974L527 975L531 977L535 978L537 978M380 972L376 973L374 976L372 979L369 982L366 985L363 987L361 988M175 1107L172 1111L171 1114L171 1118L170 1122M628 1035L631 1034L635 1032L639 1031L643 1030L646 1029L649 1026L651 1022L652 1020M514 1025L517 1028L520 1031L523 1034L525 1037L527 1040L530 1042L532 1046L533 1050M369 1118L365 1119L361 1121L358 1123L356 1124M347 1095L344 1097L341 1100L338 1103L336 1106L333 1109L330 1111L327 1114L323 1116L322 1117M344 1088L344 1092L346 1096L348 1099L349 1103L351 1106L353 1109L356 1113L359 1115M544 891L548 891L552 892L556 894L559 895L563 897L565 898M466 992L470 992L474 993L477 995L480 998L484 999L488 1000L492 1001L495 1003M381 873L379 869L376 866L373 864L369 862L367 860L365 856L364 854M543 949L546 946L549 944L552 941L556 940M300 1067L303 1070L305 1073L307 1074M238 980L239 976L240 972L242 969L245 967L249 967L253 967M473 1002L477 1004L481 1004L485 1005L489 1005L493 1003L497 1002L499 1002M397 989L393 991L390 994L388 997L385 1000L382 1003L380 1004M524 1047L527 1044L530 1042L533 1039L535 1036M307 1024L303 1023L299 1023L295 1023L291 1023L287 1024L285 1025M502 997L505 999L509 999L513 1001L516 1003L518 1006L521 1009L525 1010L529 1010L531 1011M533 933L537 932L540 931L544 929L547 926L550 924L553 922L555 921M482 1000L482 996L482 992L482 988L484 984L484 980L485 978M554 1048L558 1049L562 1049L566 1050L570 1051L574 1052L577 1051L581 1050L585 1050L587 1050M358 1038L355 1039L351 1041L347 1042L343 1043L342 1044M310 987L306 989L303 990L300 993L297 996L293 998L290 1000L289 1002M359 1021L356 1025L354 1028L351 1031L350 1035L349 1039L349 1042L348 1044M520 947L524 947L528 947L532 946L536 945L539 942L542 941L546 940M502 1021L506 1022L510 1023L513 1026M470 972L474 974L477 976L479 980L481 983L483 984M427 1125L427 1129L429 1132L431 1136L433 1139L435 1143L437 1146L439 1149L441 1153L442 1154M416 1046L417 1050L417 1054L420 1057L422 1060M411 1047L412 1051L411 1055L410 1058L409 1062L410 1066L411 1070L411 1074L411 1076M401 969L400 965L400 962L401 958M471 1032L474 1034L477 1037L478 1041M439 907L443 908L446 909L450 909L454 910L458 910M212 1082L209 1084L207 1087L204 1090L201 1092L199 1096L196 1099L194 1102L192 1106L191 1107M322 1078L319 1076L315 1074L312 1072L308 1070L304 1069L301 1068L297 1066L295 1065M347 967L343 967L339 968L335 968L331 968L329 968M510 1043L514 1044L518 1044L522 1046L524 1049L525 1053M463 1006L465 1009L468 1012L471 1014L472 1016M457 786L454 783L450 784L446 784L442 786L438 787L434 787L431 790L429 793L428 795M588 1037L591 1035L593 1031L595 1028L596 1026M296 1120L295 1123L295 1127L293 1131L291 1134L291 1136M361 1021L358 1022L355 1025L354 1029L353 1032L353 1036L351 1040L350 1042M340 1032L338 1029L335 1026L331 1024L328 1023L324 1022L320 1022L316 1022L314 1022M301 1022L297 1021L293 1020L289 1019M302 1001L300 1005L299 1009L299 1013L300 1016L300 1020L300 1022M515 762L515 758L512 755L508 754L504 754L500 755L497 757L493 758L489 759M352 1059L348 1059L345 1062L341 1064L339 1067L336 1070L333 1072M408 1064L408 1068L407 1072L407 1076M296 1001L292 1003L289 1006L287 1009L285 1012L284 1014M466 765L466 762L465 758L465 754L465 750M519 960L521 956L523 953L525 949L526 946L527 942L525 938L524 934L521 932L518 929M343 1017L339 1016L335 1017L331 1017L328 1015L324 1013L320 1013L316 1014L312 1014L310 1015M610 1041L614 1043L618 1043L621 1042L625 1040L627 1039M293 942L292 946L291 950L290 954L289 958L288 961L286 965L286 969L286 973L286 975M376 1064L377 1068L379 1072L380 1076L383 1078M349 1031L345 1030L341 1031L339 1032M439 1016L438 1019L436 1023L435 1027L434 1030L431 1034L428 1036M360 1078L358 1082L357 1086L357 1090L357 1094L356 1098L356 1101L355 1105L355 1107M396 858L392 858L388 857L384 856L380 855L379 854M511 973L513 970L516 967L519 964L521 960L523 957L525 954M456 1046L460 1048L464 1048L468 1048L471 1049L475 1051M474 780L475 776L476 772L477 768L477 764L476 760L477 756L478 753M554 1020L558 1019L562 1019L566 1019L570 1020L574 1020L578 1020L582 1020L586 1019L588 1018M428 964L429 960L428 956L427 952L427 948L427 944L427 940L428 936M525 984L528 986L531 989L533 991M336 1145L337 1149L336 1153L334 1156L333 1160L331 1163L328 1166L326 1169L322 1172M398 1064L398 1068L395 1072L392 1074L389 1076L385 1078L382 1080L380 1083M307 1068L303 1069L299 1069L296 1067L293 1064L291 1061L290 1060M227 1013L224 1015L220 1016L217 1019L215 1023L215 1027M260 1010L256 1009L252 1008L248 1007M439 1036L437 1039L437 1043L438 1047L440 1050L444 1051L448 1051L452 1052L455 1054L459 1056M491 943L494 940L498 939L502 937L505 935L507 934M327 991L323 992L319 992L316 994L314 994M399 980L395 980L391 979L388 977L385 974L382 972L379 969L377 966L374 962L374 961M465 970L465 966L465 962L464 958L466 954L466 950M255 1118L252 1121L249 1123L246 1126L243 1128L239 1129L235 1130L231 1131L229 1131M454 950L452 946L451 942L451 940M467 1033L467 1037L467 1041L468 1045L471 1048L474 1050L476 1051M321 949L317 947L314 946L310 945M484 1057L487 1060L489 1063L490 1067L492 1070L493 1074L495 1078L497 1081L499 1084M386 998L383 1000L380 1003L379 1005M467 1037L470 1039L473 1042L476 1045L478 1046M520 955L523 957L527 959L530 961L534 963M528 1008L532 1008L536 1009L539 1011L543 1012L547 1012M405 1041L401 1041L397 1042L393 1044L389 1045L388 1046M195 1193L191 1191L187 1190L184 1188L181 1185L178 1182L176 1181M191 1136L192 1140L191 1144L192 1148M290 1042L289 1045L288 1049L288 1053L289 1057" stroke="#b234b2" stroke-width="3.6"/>
<path d="M407 1026L403 1027L400 1028L396 1028L392 1028M513 910L511 907L509 903L505 902L501 902L497 901L493 902M436 923L436 919L435 915L434 911L433 907L431 903L428 900L426 897L425 894L425 890M426 992L424 989L421 986L418 984L415 981L412 979L409 976L406 973M390 861L392 858L393 854L394 850L395 846L397 843L398 839L400 835L402 832L403 830M460 1014L464 1017L467 1019L469 1022L472 1025L475 1028L477 1031L479 1035L480 1039M531 953L532 949L533 945L533 941L537 939M229 1132L227 1136L224 1139L220 1139L216 1140L213 1141L209 1143L206 1145L204 1145M376 1152L374 1155L373 1158L373 1162L374 1166L375 1170L378 1173M519 993L523 993L527 992L530 991L533 988L535 985L536 983M492 763L495 760L497 757L496 753M546 949L550 950L554 951L557 953L559 953M485 980L489 981L493 982L496 983L500 984L504 982L506 979L509 976L511 975M509 1024L512 1022L516 1022L520 1022L524 1021L527 1018L530 1016L532 1013L535 1009M358 964L355 961L352 960L348 960L346 963L346 967L348 971M371 842L368 842L364 842L360 842L357 839L355 838M411 945L411 941L412 937L412 933L413 929L415 926L417 922L418 918L418 914M280 1113L278 1116L274 1119L271 1121M346 990L343 988L340 985L337 983L336 981M449 936L447 933L447 929L447 925M299 1068L300 1072L300 1076L300 1080L300 1084L299 1088L298 1090M373 1041L369 1041L366 1043L363 1045L360 1049L359 1052L357 1056M379 994L375 996L373 1000L371 1003L368 1006L367 1007M262 1100L260 1104L258 1107L256 1111L253 1113L250 1116M560 1056L562 1059L563 1063L565 1067L565 1071L566 1073M316 1115L313 1119L313 1123L316 1125L319 1127L321 1129M540 1073L544 1074L547 1076L551 1076L555 1077L559 1077L562 1074L564 1073M344 987L340 985L337 984L333 983L331 983M418 991L414 990L411 988L408 986L404 983L402 981L398 978L395 976M492 987L494 984L497 982L501 980L503 977L506 974L509 972L512 973L514 974M378 965L374 965L371 963L368 960L364 959L362 958M281 1058L277 1058L274 1059L270 1059L266 1059L262 1059L258 1058L254 1058L250 1059M411 954L411 950L411 946L412 942L415 939M312 1027L309 1029L306 1031L303 1034L299 1036L296 1037L292 1038L288 1039M471 971L471 967L472 963L473 959L473 957M388 1048L387 1052L386 1056L385 1060L386 1064L387 1068L388 1071L389 1075L390 1077M493 1021L496 1022L500 1023L504 1025L507 1024L511 1023L514 1020L516 1019M396 1016L392 1016L389 1015L385 1013L383 1012M496 869L496 865L496 861L495 857L493 854L493 850L495 847L499 846L502 843L506 843M467 950L471 949L475 949L479 948L483 947L486 945L490 944L494 945L498 946L500 946M404 1016L401 1017L397 1018L393 1018L389 1019L385 1018L383 1017M458 959L458 955L459 951L460 947L460 945M359 1015L355 1014L351 1012L347 1012L343 1011L340 1012L338 1012M382 1046L381 1049L380 1053L380 1057L381 1061L383 1065L383 1069L383 1073M398 1039L394 1041L392 1044L389 1047L386 1050L385 1051M401 1095L398 1097L394 1098L390 1099L386 1099L382 1098L378 1098L374 1099L371 1098L369 1096M331 1107L327 1109L324 1111L320 1112L316 1113L314 1116L310 1119L308 1122L305 1125L302 1126M298 1077L294 1078L291 1079L287 1078L283 1076L282 1075M179 1056L179 1060L179 1064L179 1068L182 1071L185 1074L188 1076L192 1077M474 1014L478 1015L482 1016L486 1017L490 1017L494 1018M531 886L534 888L537 891L540 894L541 895M494 1039L498 1037L501 1036L505 1035M414 1000L410 1001L406 1004L403 1006L399 1005L395 1005L393 1006M418 966L416 963L414 959L414 955M510 770L511 766L511 762L512 759L513 755M431 882L431 878L432 874L434 870L435 867L436 863L436 859L434 856L432 852L429 849M469 903L473 903L477 902L480 904L484 905L488 904L492 903L496 902M358 964L354 962L351 961L349 961M423 910L424 906L424 902L423 898L421 894L419 891L417 888L415 884L413 881M461 1018L460 1022L460 1026L459 1030L457 1034L457 1038L457 1040M434 791L436 787L438 784L439 780L441 777L444 774L447 772L451 769L452 768M436 779L439 778L443 778L447 778L449 779M479 986L482 987L486 988L490 989L494 991L497 993L501 994L505 994L507 994M393 1062L389 1063L385 1064L381 1065L378 1066L374 1068L373 1070M251 1110L247 1110L244 1112L242 1115L239 1119L237 1122L234 1124L230 1126L226 1126L224 1126M81 1115L78 1118L76 1121L74 1124L72 1128L71 1132L70 1136L66 1137L62 1139L60 1142M323 1081L320 1083L317 1085L314 1087L311 1090L309 1094L310 1098L312 1101M403 1114L399 1113L395 1112L391 1111L387 1110L384 1107L381 1105M423 906L420 903L418 899L417 895L416 891L416 888L415 884L415 880L415 876L415 874M309 1043L306 1045L302 1047L298 1049L295 1051L292 1054L291 1056M379 884L377 881L373 879L371 875L371 872L371 868L371 866M298 1058L294 1058L290 1058L286 1058L282 1058L278 1056L275 1055L271 1053L268 1051M211 1111L208 1114L206 1117L204 1121L200 1123L197 1125L193 1126L189 1128L187 1128M375 1046L371 1044L368 1042L364 1040L362 1037L359 1035L355 1033L352 1030M714 879L718 879L722 880L726 882L729 884L732 886L736 888L738 891L741 894L743 895M497 964L500 966L504 967L508 968L512 970L515 972L517 975L521 977L524 979L526 979M517 978L521 977L524 979L527 982L530 984L533 987M518 967L521 965L524 963L528 962L530 962M402 928L404 924L406 920L406 916L404 913L403 911M314 1115L311 1118L309 1122L307 1125L306 1129L305 1132L303 1136L302 1140L301 1144L301 1146M548 966L551 964L554 961L557 958L558 957M482 1028L485 1030L488 1033L489 1037L489 1041L490 1045M380 991L376 991L373 993L370 996L367 999L366 1003L366 1007L366 1009M225 1127L222 1125L219 1122L219 1118L219 1114M367 972L364 973L360 974L356 976L353 978L349 980L345 980L342 981L338 981L334 982M319 982L315 981L311 980L308 978L306 975L305 971L304 967L301 965L299 964M556 1018L559 1015L562 1013L566 1011L570 1011L572 1010M561 1051L563 1055L564 1058L566 1062L568 1063M290 1033L288 1030L285 1027L284 1023L283 1020L282 1016L282 1012L282 1010M357 1093L353 1092L350 1090L346 1090L342 1088L339 1085M537 928L538 924L537 920L538 916M517 1052L519 1055L519 1059L519 1063L521 1067L522 1071L524 1074M537 936L539 939L542 942L544 945L548 947L550 947M322 1063L319 1065L316 1068L315 1072L314 1076L312 1080L311 1083L309 1087L307 1088M370 991L366 990L362 991L359 993L356 996L353 999M460 1019L461 1023L462 1027L464 1030L466 1034L468 1037M536 935L539 933L543 934L546 937L550 938L552 939M385 1068L386 1072L387 1076L388 1079L391 1082L393 1083M510 1013L510 1017L510 1021L509 1025L508 1029L510 1033L511 1034M483 1028L487 1030L490 1032L493 1034M235 1026L233 1023L231 1019L227 1018L224 1016L221 1013L219 1010L216 1007L212 1005M340 1080L336 1081L332 1082L329 1084L325 1086L322 1087L319 1090L318 1092M224 1116L221 1119L218 1121L217 1123M433 1019L429 1018L425 1018L421 1017L417 1017L414 1017L410 1017L406 1015L402 1014L400 1013M305 1115L308 1117L312 1119L315 1121L319 1121L322 1118L325 1115L326 1114M479 948L476 945L472 945L469 943L466 941L463 938L460 935M542 1019L544 1023L546 1025L550 1027L554 1028L558 1029L561 1030L565 1033L567 1036M461 930L459 926L459 922L458 918L457 914L458 911L459 907L459 903L460 899L459 897M381 1157L378 1159L374 1159L370 1160L366 1160L362 1161M383 966L380 969L378 972L375 975L372 977L369 980M584 1034L588 1034L592 1034L595 1032L597 1031M358 984L356 981L352 979L348 979L344 978L340 978L337 978L333 978L329 976L327 975M373 987L369 985L366 983L363 981L360 978L356 977M250 1129L251 1132L251 1136L252 1140L253 1144L254 1148L254 1152M592 1005L594 1002L596 998L598 995L600 991L602 990M524 991L526 994L528 997L528 1001L527 1005L525 1009L524 1012L523 1016L522 1020M297 994L293 995L289 995L286 994L282 992L278 993L274 993M524 943L528 943L532 942L536 940L539 940L543 939L547 939L551 940L555 942M391 903L390 900L389 896L390 892L389 888M407 992L403 994L400 996L396 997L392 997L388 996L384 996L382 997M342 1038L340 1042L337 1044L334 1047L334 1051M361 1057L357 1056L353 1055L351 1054M486 963L490 962L493 960L497 959L501 958L504 956M610 1024L614 1025L618 1026L622 1026L625 1028L628 1031L632 1033L636 1034L639 1035M468 797L468 793L466 789L465 785L465 781L466 777L467 773L468 770L469 768M261 1106L261 1110L260 1114L259 1118L257 1122L256 1125L255 1129M384 971L384 967L382 963L379 960L376 957L374 954L371 951M409 922L406 918L404 915L403 912L401 908M413 1068L416 1070L420 1071L423 1073L427 1075L430 1077M484 1045L487 1048L490 1050L493 1053L495 1056L498 1059M479 1014L483 1016L486 1019L489 1021M623 970L627 968L631 968L635 968L637 969M369 1032L367 1036L365 1039L364 1043L362 1047L363 1051L365 1054L367 1055M422 1005L419 1004L415 1002L412 999L409 997L406 995L403 992L402 988L402 984L403 982M378 1047L378 1051L379 1055L379 1059L380 1063L381 1067L383 1070L385 1074L385 1077L387 1081M412 907L413 903L414 899L414 895L413 891L414 888M447 908L446 904L445 901L443 897L440 895L436 895L434 896M371 1054L369 1058L368 1061L367 1065L366 1067M475 910L472 907L469 905L466 902L465 898L465 894L465 890L464 886L463 884M370 1095L373 1096L376 1099L378 1102L380 1106L380 1110L381 1114L381 1118L381 1120M441 1059L443 1062L446 1065L449 1068L452 1070L456 1072L458 1075L460 1078L461 1082M422 1043L422 1047L421 1051L421 1055L421 1059L421 1063M170 1070L166 1069L162 1070L158 1069L155 1068L151 1066L148 1064M445 941L442 939L438 938L434 938L430 938L426 939L423 940M540 967L541 963L541 959L541 955L541 953M543 968L546 965L549 963L552 960L556 960L560 962L563 964L567 966L570 967L572 968M380 972L376 973L374 976L372 979L369 982L366 985L363 987L361 988M628 1035L631 1034L635 1032L639 1031L643 1030L646 1029L649 1026L651 1022L652 1020M369 1118L365 1119L361 1121L358 1123L356 1124M344 1088L344 1092L346 1096L348 1099L349 1103L351 1106L353 1109L356 1113L359 1115M466 992L470 992L474 993L477 995L480 998L484 999L488 1000L492 1001L495 1003M543 949L546 946L549 944L552 941L556 940M238 980L239 976L240 972L242 969L245 967L249 967L253 967M397 989L393 991L390 994L388 997L385 1000L382 1003L380 1004M307 1024L303 1023L299 1023L295 1023L291 1023L287 1024L285 1025M533 933L537 932L540 931L544 929L547 926L550 924L553 922L555 921M554 1048L558 1049L562 1049L566 1050L570 1051L574 1052L577 1051L581 1050L585 1050L587 1050M310 987L306 989L303 990L300 993L297 996L293 998L290 1000L289 1002M520 947L524 947L528 947L532 946L536 945L539 942L542 941L546 940M470 972L474 974L477 976L479 980L481 983L483 984M416 1046L417 1050L417 1054L420 1057L422 1060M401 969L400 965L400 962L401 958M439 907L443 908L446 909L450 909L454 910L458 910M322 1078L319 1076L315 1074L312 1072L308 1070L304 1069L301 1068L297 1066L295 1065M510 1043L514 1044L518 1044L522 1046L524 1049L525 1053M457 786L454 783L450 784L446 784L442 786L438 787L434 787L431 790L429 793L428 795M296 1120L295 1123L295 1127L293 1131L291 1134L291 1136M340 1032L338 1029L335 1026L331 1024L328 1023L324 1022L320 1022L316 1022L314 1022M302 1001L300 1005L299 1009L299 1013L300 1016L300 1020L300 1022M352 1059L348 1059L345 1062L341 1064L339 1067L336 1070L333 1072M296 1001L292 1003L289 1006L287 1009L285 1012L284 1014M519 960L521 956L523 953L525 949L526 946L527 942L525 938L524 934L521 932L518 929M610 1041L614 1043L618 1043L621 1042L625 1040L627 1039M376 1064L377 1068L379 1072L380 1076L383 1078M439 1016L438 1019L436 1023L435 1027L434 1030L431 1034L428 1036M396 858L392 858L388 857L384 856L380 855L379 854M456 1046L460 1048L464 1048L468 1048L471 1049L475 1051M554 1020L558 1019L562 1019L566 1019L570 1020L574 1020L578 1020L582 1020L586 1019L588 1018M525 984L528 986L531 989L533 991M398 1064L398 1068L395 1072L392 1074L389 1076L385 1078L382 1080L380 1083M227 1013L224 1015L220 1016L217 1019L215 1023L215 1027M439 1036L437 1039L437 1043L438 1047L440 1050L444 1051L448 1051L452 1052L455 1054L459 1056M327 991L323 992L319 992L316 994L314 994M465 970L465 966L465 962L464 958L466 954L466 950M454 950L452 946L451 942L451 940M321 949L317 947L314 946L310 945M386 998L383 1000L380 1003L379 1005M520 955L523 957L527 959L530 961L534 963M405 1041L401 1041L397 1042L393 1044L389 1045L388 1046M191 1136L192 1140L191 1144L192 1148" stroke="#eec4ee" stroke-width="1.5" opacity="0.85"/>
</g>
<path d="M307 1043h0.1M304 1046h0.1M301 1048h0.1M297 1049h0.1M295 1052h0.1M292 1055h0.1M290 1059h0.1M348 1161h0.1M348 1165h0.1M347 1168h0.1M348 1172h0.1M271 1076h0.1M271 1080h0.1M271 1084h0.1M297 1124h0.1M293 1124h0.1M289 1124h0.1M285 1125h0.1M282 1127h0.1M280 1130h0.1M279 1134h0.1M278 1138h0.1M279 1142h0.1M228 1134h0.1M226 1137h0.1M222 1139h0.1M218 1139h0.1M214 1140h0.1M211 1142h0.1M207 1144h0.1M204 1145h0.1M375 1153h0.1M373 1156h0.1M373 1160h0.1M373 1164h0.1M374 1168h0.1M377 1171h0.1M334 1027h0.1M330 1025h0.1M327 1022h0.1M326 1019h0.1M326 1015h0.1M327 1011h0.1M326 1007h0.1M327 1003h0.1M328 999h0.1M313 992h0.1M309 992h0.1M305 992h0.1M301 993h0.1M298 994h0.1M357 963h0.1M354 960h0.1M350 960h0.1M346 961h0.1M346 965h0.1M347 969h0.1M297 1038h0.1M293 1037h0.1M289 1035h0.1M285 1034h0.1M282 1033h0.1M278 1031h0.1M279 1115h0.1M276 1117h0.1M273 1120h0.1M377 1018h0.1M373 1019h0.1M370 1022h0.1M369 1026h0.1M366 1029h0.1M366 1033h0.1M367 1037h0.1M299 1070h0.1M300 1074h0.1M300 1078h0.1M300 1082h0.1M299 1086h0.1M298 1090h0.1M237 1133h0.1M235 1130h0.1M233 1126h0.1M233 1122h0.1M235 1118h0.1M236 1115h0.1M377 996h0.1M374 998h0.1M372 1001h0.1M369 1005h0.1M367 1007h0.1M261 1102h0.1M259 1106h0.1M257 1109h0.1M255 1112h0.1M252 1115h0.1M315 1117h0.1M313 1121h0.1M314 1124h0.1M318 1126h0.1M321 1129h0.1M376 1159h0.1M378 1162h0.1M382 1164h0.1M385 1167h0.1M389 1168h0.1M392 1171h0.1M393 1174h0.1M279 1058h0.1M275 1059h0.1M272 1060h0.1M268 1058h0.1M264 1059h0.1M260 1058h0.1M256 1058h0.1M252 1058h0.1M178 1100h0.1M177 1103h0.1M178 1107h0.1M178 1111h0.1M178 1115h0.1M178 1119h0.1M178 1123h0.1M176 1127h0.1M311 1072h0.1M308 1075h0.1M305 1077h0.1M352 1060h0.1M348 1058h0.1M345 1056h0.1M343 1053h0.1M341 1049h0.1M342 1045h0.1M329 1108h0.1M326 1110h0.1M322 1111h0.1M318 1112h0.1M315 1115h0.1M312 1117h0.1M309 1120h0.1M307 1124h0.1M304 1125h0.1M296 1077h0.1M293 1078h0.1M289 1079h0.1M285 1077h0.1M282 1075h0.1M377 999h0.1M374 1001h0.1M370 1002h0.1M366 1002h0.1M362 1002h0.1M304 1043h0.1M301 1045h0.1M297 1047h0.1M294 1048h0.1M290 1050h0.1M286 1052h0.1M283 1054h0.1M279 1056h0.1M276 1056h0.1M250 1107h0.1M246 1106h0.1M242 1105h0.1M239 1103h0.1M235 1101h0.1M232 1100h0.1M372 1010h0.1M368 1009h0.1M364 1010h0.1M360 1009h0.1M227 1082h0.1M224 1085h0.1M222 1088h0.1M220 1091h0.1M217 1094h0.1M249 1110h0.1M245 1111h0.1M242 1114h0.1M241 1117h0.1M238 1120h0.1M235 1123h0.1M232 1125h0.1M228 1127h0.1M224 1126h0.1M80 1116h0.1M77 1119h0.1M75 1123h0.1M73 1126h0.1M71 1130h0.1M71 1134h0.1M68 1136h0.1M64 1138h0.1M61 1140h0.1M237 1132h0.1M236 1136h0.1M236 1140h0.1M237 1143h0.1M239 1147h0.1M241 1150h0.1M243 1153h0.1M245 1157h0.1M284 1100h0.1M281 1103h0.1M278 1106h0.1M277 1109h0.1M277 1113h0.1M366 1110h0.1M362 1109h0.1M358 1108h0.1M296 1058h0.1M292 1058h0.1M288 1058h0.1M284 1058h0.1M280 1057h0.1M277 1055h0.1M273 1054h0.1M269 1052h0.1M356 1021h0.1M352 1020h0.1M348 1020h0.1M344 1018h0.1M341 1017h0.1M337 1018h0.1M333 1017h0.1M373 1045h0.1M369 1044h0.1M366 1041h0.1M363 1039h0.1M360 1036h0.1M357 1034h0.1M354 1031h0.1M312 1117h0.1M310 1120h0.1M308 1123h0.1M306 1127h0.1M305 1131h0.1M304 1134h0.1M303 1138h0.1M302 1142h0.1M301 1146h0.1M316 1027h0.1M314 1031h0.1M313 1034h0.1M312 1038h0.1M310 1042h0.1M306 1044h0.1M304 1047h0.1M301 1050h0.1M299 1053h0.1M378 991h0.1M374 992h0.1M371 995h0.1M369 998h0.1M367 1001h0.1M366 1005h0.1M366 1009h0.1M223 1126h0.1M220 1123h0.1M219 1120h0.1M218 1116h0.1M317 982h0.1M313 981h0.1M309 979h0.1M307 977h0.1M305 973h0.1M305 969h0.1M302 966h0.1M299 964h0.1M308 1033h0.1M305 1035h0.1M302 1037h0.1M300 1041h0.1M300 1045h0.1M298 1048h0.1M297 1052h0.1M289 1031h0.1M286 1029h0.1M284 1025h0.1M283 1021h0.1M282 1018h0.1M282 1014h0.1M282 1010h0.1M355 1093h0.1M351 1091h0.1M348 1090h0.1M344 1089h0.1M340 1087h0.1M368 990h0.1M364 991h0.1M360 992h0.1M357 995h0.1M354 998h0.1M295 1082h0.1M296 1086h0.1M295 1089h0.1M295 1093h0.1M295 1097h0.1M295 1101h0.1M252 1087h0.1M254 1091h0.1M256 1094h0.1M258 1098h0.1M258 1102h0.1M260 1105h0.1M260 1109h0.1M260 1113h0.1M234 1024h0.1M232 1021h0.1M229 1019h0.1M225 1017h0.1M223 1014h0.1M221 1011h0.1M217 1008h0.1M214 1006h0.1M338 1080h0.1M334 1081h0.1M331 1083h0.1M327 1085h0.1M324 1087h0.1M320 1089h0.1M318 1092h0.1M307 1116h0.1M310 1118h0.1M313 1120h0.1M317 1121h0.1M321 1119h0.1M323 1116h0.1M326 1114h0.1M371 987h0.1M368 984h0.1M365 982h0.1M361 979h0.1M358 977h0.1M251 1130h0.1M251 1134h0.1M252 1138h0.1M252 1142h0.1M253 1146h0.1M254 1150h0.1M357 1136h0.1M353 1137h0.1M349 1137h0.1M295 995h0.1M291 996h0.1M287 995h0.1M284 993h0.1M280 992h0.1M276 993h0.1M316 1147h0.1M314 1144h0.1M313 1140h0.1M313 1136h0.1M313 1132h0.1M359 1056h0.1M355 1055h0.1M351 1054h0.1M121 1043h0.1M125 1045h0.1M128 1046h0.1M132 1047h0.1M136 1048h0.1M138 1051h0.1M141 1054h0.1M261 1108h0.1M260 1112h0.1M259 1116h0.1M258 1120h0.1M257 1124h0.1M256 1127h0.1M278 1076h0.1M276 1079h0.1M273 1082h0.1M340 1162h0.1M337 1164h0.1M333 1165h0.1M329 1165h0.1M325 1164h0.1M322 1162h0.1M318 1162h0.1M120 1045h0.1M116 1043h0.1M114 1040h0.1M360 999h0.1M356 999h0.1M352 999h0.1M348 998h0.1M344 999h0.1M341 1001h0.1M378 1049h0.1M379 1053h0.1M379 1057h0.1M379 1061h0.1M380 1065h0.1M382 1068h0.1M384 1072h0.1M385 1075h0.1M386 1079h0.1M370 1056h0.1M369 1059h0.1M367 1063h0.1M366 1067h0.1M256 1056h0.1M253 1059h0.1M250 1061h0.1M247 1064h0.1M245 1067h0.1M243 1071h0.1M240 1074h0.1M237 1076h0.1M234 1078h0.1M371 1096h0.1M375 1097h0.1M377 1101h0.1M379 1104h0.1M380 1108h0.1M381 1112h0.1M381 1116h0.1M381 1120h0.1M316 1061h0.1M313 1064h0.1M310 1066h0.1M168 1069h0.1M164 1070h0.1M160 1070h0.1M157 1068h0.1M153 1067h0.1M149 1065h0.1M316 1143h0.1M318 1146h0.1M322 1147h0.1M326 1149h0.1M330 1149h0.1M378 972h0.1M375 974h0.1M373 977h0.1M370 981h0.1M367 984h0.1M365 986h0.1M361 988h0.1M174 1109h0.1M172 1112h0.1M171 1116h0.1M170 1120h0.1M367 1119h0.1M363 1120h0.1M359 1122h0.1M356 1124h0.1M344 1090h0.1M345 1094h0.1M347 1097h0.1M348 1101h0.1M350 1104h0.1M352 1108h0.1M354 1111h0.1M357 1114h0.1M238 978h0.1M239 974h0.1M241 971h0.1M243 968h0.1M247 967h0.1M251 967h0.1M305 1024h0.1M301 1023h0.1M297 1023h0.1M293 1023h0.1M289 1024h0.1M285 1025h0.1M356 1038h0.1M353 1040h0.1M349 1042h0.1M345 1042h0.1M342 1044h0.1M308 988h0.1M305 990h0.1M301 992h0.1M298 995h0.1M295 996h0.1M292 999h0.1M289 1002h0.1M211 1083h0.1M208 1086h0.1M206 1089h0.1M203 1092h0.1M200 1094h0.1M198 1098h0.1M195 1100h0.1M193 1104h0.1M191 1107h0.1M320 1077h0.1M317 1075h0.1M314 1073h0.1M310 1071h0.1M306 1070h0.1M302 1069h0.1M299 1067h0.1M295 1065h0.1M295 1122h0.1M295 1125h0.1M294 1129h0.1M292 1133h0.1M291 1136h0.1M339 1030h0.1M337 1027h0.1M333 1025h0.1M330 1023h0.1M326 1023h0.1M322 1022h0.1M318 1022h0.1M314 1022h0.1M299 1022h0.1M295 1020h0.1M291 1019h0.1M350 1059h0.1M346 1061h0.1M343 1063h0.1M340 1066h0.1M338 1069h0.1M334 1071h0.1M294 1002h0.1M291 1004h0.1M288 1007h0.1M286 1011h0.1M284 1014h0.1M341 1017h0.1M337 1017h0.1M333 1017h0.1M330 1015h0.1M326 1014h0.1M322 1013h0.1M318 1013h0.1M314 1014h0.1M310 1015h0.1M377 1066h0.1M378 1070h0.1M379 1074h0.1M381 1077h0.1M347 1031h0.1M343 1030h0.1M339 1032h0.1M359 1080h0.1M357 1084h0.1M357 1088h0.1M357 1092h0.1M357 1096h0.1M356 1099h0.1M355 1103h0.1M355 1107h0.1M305 1068h0.1M301 1069h0.1M298 1068h0.1M294 1066h0.1M292 1063h0.1M290 1060h0.1M258 1010h0.1M254 1009h0.1M250 1008h0.1M325 992h0.1M321 992h0.1M317 993h0.1M314 994h0.1M253 1119h0.1M251 1122h0.1M248 1125h0.1M244 1127h0.1M241 1129h0.1M237 1130h0.1M233 1131h0.1M229 1131h0.1M319 948h0.1M315 947h0.1M312 945h0.1M193 1192h0.1M189 1191h0.1M186 1189h0.1M182 1187h0.1M180 1184h0.1M176 1181h0.1M289 1043h0.1M288 1047h0.1M288 1051h0.1M288 1055h0.1" stroke="#46d446" stroke-width="2.6" stroke-linecap="round" opacity="0.9"/>
<path d="M452.4 1082.0h0.1M409.4 866.4h0.1M536.3 802.8h0.1M398.5 1002.3h0.1M288.8 1100.3h0.1M485.5 942.5h0.1M623.1 981.4h0.1M427.1 1006.7h0.1M389.8 1083.2h0.1M444.5 1030.6h0.1M391.1 970.7h0.1M388.4 1000.7h0.1M373.3 1012.2h0.1M279.5 1168.4h0.1M435.1 892.4h0.1M302.1 1010.3h0.1M406.6 1138.5h0.1M347.9 1006.1h0.1M149.7 998.4h0.1M423.7 984.7h0.1M439.7 1027.4h0.1M477.1 1005.8h0.1M221.4 1028.3h0.1M416.2 1116.1h0.1M191.5 1040.3h0.1M353.2 1070.3h0.1M463.2 859.9h0.1M313.0 1013.9h0.1M372.4 1100.0h0.1M272.0 1129.8h0.1M127.8 1026.0h0.1M319.4 999.5h0.1M501.2 802.1h0.1M516.2 907.4h0.1M187.1 1057.6h0.1M392.1 1055.5h0.1M338.2 935.6h0.1M399.8 1013.4h0.1M280.8 1040.3h0.1M447.2 987.4h0.1M608.9 998.6h0.1M597.0 976.5h0.1M367.5 841.0h0.1M666.3 887.0h0.1M535.5 1006.5h0.1M399.5 1050.8h0.1M684.1 820.7h0.1M421.9 903.6h0.1M424.0 1046.4h0.1M385.9 1003.5h0.1M455.2 1064.9h0.1M205.0 997.6h0.1M366.9 1066.5h0.1M477.3 1028.6h0.1M523.9 1040.5h0.1M265.6 1068.7h0.1M421.4 1080.1h0.1M374.0 909.8h0.1M378.4 977.0h0.1M683.8 855.4h0.1M47.6 1051.2h0.1M471.6 953.4h0.1M441.8 944.3h0.1M201.1 1025.1h0.1M452.4 1066.8h0.1M517.5 963.9h0.1M595.1 799.5h0.1M164.8 1032.2h0.1M602.8 932.4h0.1M547.2 957.1h0.1M617.7 945.2h0.1M287.1 1034.6h0.1M557.3 806.0h0.1M579.4 1065.0h0.1M482.7 898.1h0.1M369.0 881.5h0.1M534.0 1020.2h0.1M573.7 996.9h0.1M404.7 1048.3h0.1M530.8 813.8h0.1M352.5 1209.7h0.1M523.9 763.6h0.1M628.2 890.4h0.1M432.1 1120.6h0.1M477.8 1008.2h0.1M192.2 1057.6h0.1M633.3 978.4h0.1M495.9 894.1h0.1M606.3 984.3h0.1M702.0 954.7h0.1M135.0 1076.2h0.1M224.5 1062.0h0.1M526.5 1089.4h0.1M651.0 946.2h0.1M410.9 991.6h0.1M413.9 955.2h0.1M267.8 1151.1h0.1M520.0 956.2h0.1M521.2 992.8h0.1M369.4 1019.4h0.1M375.0 1004.2h0.1M267.0 1119.6h0.1M413.0 933.1h0.1M380.9 970.8h0.1M275.8 1048.6h0.1M621.4 981.2h0.1M584.9 1074.9h0.1M355.2 1196.0h0.1M540.6 950.2h0.1M306.5 1143.7h0.1M457.7 776.0h0.1M441.7 948.5h0.1M319.2 1100.0h0.1M361.8 1116.4h0.1M405.1 1034.3h0.1M249.5 1074.3h0.1M360.6 983.8h0.1M648.6 871.2h0.1M105.7 1012.4h0.1M425.3 938.8h0.1M254.0 1055.3h0.1M329.4 988.0h0.1M420.3 1008.3h0.1M676.8 810.3h0.1M584.6 797.9h0.1M623.8 996.5h0.1M429.2 958.0h0.1M582.8 893.0h0.1M565.2 1054.4h0.1M523.1 1059.7h0.1M479.9 920.8h0.1M473.1 909.4h0.1M569.1 772.6h0.1M440.7 884.8h0.1M445.4 912.7h0.1M373.4 1046.9h0.1M439.0 1158.9h0.1M561.5 763.5h0.1M525.6 850.1h0.1M391.1 1006.6h0.1M345.7 1144.0h0.1M428.1 1053.1h0.1M701.5 893.4h0.1M396.7 947.8h0.1M310.3 964.1h0.1M513.2 1116.1h0.1M322.3 1012.7h0.1M342.6 955.1h0.1M462.7 922.4h0.1M325.3 1139.3h0.1M486.5 1016.6h0.1M347.0 1140.8h0.1M402.2 1024.0h0.1M610.5 973.7h0.1M488.3 798.9h0.1M570.1 815.1h0.1M639.0 879.5h0.1M521.0 847.8h0.1M448.0 1100.6h0.1M414.6 1061.5h0.1" stroke="#c030c0" stroke-width="4" stroke-linecap="round" opacity="0.85"/>
<path d="M209.3 1007.6l1.8 -1.8M213.2 1003.7l1.8 -1.8M217.0 999.8l1.8 -1.8M220.9 995.9l1.8 -1.8M224.8 992.0l1.8 -1.8M325.8 1058.3l1.7 -1.8M329.6 1054.4l1.7 -1.8M245.3 1077.0l2.5 -0.3M250.7 1076.4l2.5 -0.3M256.2 1075.8l2.5 -0.3M261.7 1075.2l2.5 -0.3M267.1 1074.6l2.5 -0.3M158.7 1127.1l1.8 -1.8M162.6 1123.2l1.8 -1.8M169.5 1090.5l2.5 -0.2M175.0 1090.1l2.5 -0.2M180.4 1089.7l2.5 -0.2M190.8 1108.7l1.6 -1.9M194.4 1104.5l1.6 -1.9M197.9 1100.4l1.6 -1.9M295.3 1045.4l1.7 -1.8M299.0 1041.3l1.7 -1.8M232.8 1028.0l-1.0 2.3M230.6 1033.0l-1.0 2.3M228.4 1038.0l-1.0 2.3M226.2 1043.0l-1.0 2.3M320.6 934.9l2.2 -1.1M325.5 932.5l2.2 -1.1M330.5 930.1l2.2 -1.1M335.4 927.7l2.2 -1.1M340.4 925.3l2.2 -1.1M144.9 1088.7l2.4 -0.6M150.2 1087.4l2.4 -0.6M155.6 1086.1l2.4 -0.6M160.9 1084.7l2.4 -0.6M166.3 1083.4l2.4 -0.6M306.6 996.6l1.9 -1.6M310.8 993.0l1.9 -1.6M314.9 989.4l1.9 -1.6M176.1 1062.8l2.0 -1.5M180.4 1059.4l2.0 -1.5M184.8 1056.1l2.0 -1.5M189.2 1052.7l2.0 -1.5M193.5 1049.4l2.0 -1.5M284.9 1041.3l2.5 -0.2M290.4 1040.9l2.5 -0.2M134.1 1068.6l2.1 -1.3M138.7 1065.7l2.1 -1.3M223.5 1176.6l2.4 -0.6M228.8 1175.2l2.4 -0.6M234.1 1173.8l2.4 -0.6M325.7 1069.8l2.5 -0.1M331.2 1069.5l2.5 -0.1M336.7 1069.2l2.5 -0.1M342.2 1068.9l2.5 -0.1M347.7 1068.5l2.5 -0.1M207.5 1034.0l2.0 1.5M211.8 1037.4l2.0 1.5M319.2 1035.1l-0.2 2.5M318.7 1040.5l-0.2 2.5M318.2 1046.0l-0.2 2.5M225.7 1055.5l2.0 -1.5M230.1 1052.2l2.0 -1.5M234.5 1048.8l2.0 -1.5M238.8 1045.5l2.0 -1.5M212.1 1065.2l1.8 -1.7M216.1 1061.4l1.8 -1.7M220.1 1057.6l1.8 -1.7M224.1 1053.8l1.8 -1.7M287.9 1033.8l2.3 -0.9M293.0 1031.8l2.3 -0.9M298.1 1029.8l2.3 -0.9M303.3 1027.8l2.3 -0.9M308.4 1025.8l2.3 -0.9M270.3 1105.6l2.5 0.3M275.8 1106.3l2.5 0.3M295.8 1091.8l2.2 -1.2M300.6 1089.1l2.2 -1.2M243.3 1055.8l2.5 0.3M248.7 1056.5l2.5 0.3M249.9 984.3l2.5 -0.1M255.4 984.2l2.5 -0.1M227.0 1020.2l1.5 2.0M230.2 1024.7l1.5 2.0M233.3 1029.2l1.5 2.0M236.5 1033.6l1.5 2.0M252.3 1091.2l2.5 -0.2M257.8 1090.7l2.5 -0.2M263.3 1090.2l2.5 -0.2M237.8 1100.0l2.0 -1.5M242.2 1096.7l2.0 -1.5M246.7 1093.5l2.0 -1.5M251.1 1090.3l2.0 -1.5M255.6 1087.1l2.0 -1.5M97.5 1088.1l1.9 -1.6M101.7 1084.5l1.9 -1.6M105.9 1081.0l1.9 -1.6M110.2 1077.5l1.9 -1.6M124.4 1126.4l1.6 -1.9M127.9 1122.1l1.6 -1.9M315.0 990.2l-0.7 2.4M313.5 995.5l-0.7 2.4M312.0 1000.8l-0.7 2.4M310.5 1006.1l-0.7 2.4M309.0 1011.4l-0.7 2.4M314.8 982.7l2.5 0.1M320.3 982.8l2.5 0.1M325.8 983.0l2.5 0.1M322.7 1052.1l2.5 -0.0M328.2 1052.0l2.5 -0.0M333.7 1051.9l2.5 -0.0M339.2 1051.8l2.5 -0.0M344.7 1051.7l2.5 -0.0M225.5 1053.4l1.7 1.9M229.1 1057.5l1.7 1.9M232.8 1061.6l1.7 1.9M236.5 1065.7l1.7 1.9M258.5 1060.2l2.5 -0.5M263.9 1059.1l2.5 -0.5M253.2 1042.8l2.0 -1.5M257.6 1039.5l2.0 -1.5M175.8 1086.7l2.3 -1.0M180.9 1084.6l2.3 -1.0M186.0 1082.4l2.3 -1.0M191.0 1080.3l2.3 -1.0M245.6 1092.0l2.5 0.1M251.1 1092.3l2.5 0.1M256.6 1092.6l2.5 0.1M262.1 1092.9l2.5 0.1M267.6 1093.3l2.5 0.1M298.1 1096.4l-2.1 1.4M293.6 1099.4l-2.1 1.4M289.0 1102.4l-2.1 1.4M284.4 1105.5l-2.1 1.4M216.0 1050.7l2.5 -0.3M221.5 1050.0l2.5 -0.3M226.9 1049.3l2.5 -0.3M232.4 1048.7l2.5 -0.3M237.8 1048.0l2.5 -0.3M177.2 979.2l-2.4 0.8M171.9 980.8l-2.4 0.8M166.7 982.5l-2.4 0.8M261.1 1031.9l2.2 1.3M265.9 1034.7l2.2 1.3M270.6 1037.5l2.2 1.3M275.4 1040.3l2.2 1.3M324.5 1116.5l1.7 -1.8M328.3 1112.4l1.7 -1.8M332.0 1108.3l1.7 -1.8M335.7 1104.3l1.7 -1.8M339.4 1100.2l1.7 -1.8M250.9 1023.1l2.5 0.3M256.4 1023.8l2.5 0.3M261.8 1024.5l2.5 0.3M222.0 1093.4l2.5 -0.2M227.5 1092.9l2.5 -0.2M233.0 1092.3l2.5 -0.2" stroke="#3ccc3c" stroke-width="2.4" stroke-linecap="round" fill="none" opacity="0.9"/>
<circle cx="366.6" cy="1101.8" r="2.1" fill="#44dd44"/><circle cx="373.0" cy="1006.8" r="2.4" fill="#44dd44"/><circle cx="374.8" cy="1025.1" r="2.6" fill="#44dd44"/><circle cx="364.3" cy="1026.4" r="1.8" fill="#44dd44"/><circle cx="554.0" cy="1059.5" r="2.8" fill="#44dd44"/><circle cx="379.2" cy="965.1" r="1.9" fill="#44dd44"/><circle cx="555.8" cy="995.4" r="2.0" fill="#44dd44"/><circle cx="501.8" cy="919.7" r="2.6" fill="#44dd44"/><circle cx="335.2" cy="947.5" r="2.5" fill="#44dd44"/><circle cx="386.0" cy="1034.2" r="1.8" fill="#44dd44"/><circle cx="382.8" cy="1068.6" r="2.6" fill="#44dd44"/><circle cx="402.4" cy="1056.6" r="2.2" fill="#44dd44"/><circle cx="479.7" cy="1027.5" r="3.1" fill="#44dd44"/><circle cx="352.4" cy="1018.2" r="2.4" fill="#44dd44"/><circle cx="313.6" cy="1061.7" r="1.8" fill="#44dd44"/><circle cx="594.6" cy="1006.7" r="1.9" fill="#44dd44"/><circle cx="440.9" cy="988.7" r="2.7" fill="#44dd44"/><circle cx="391.6" cy="1041.5" r="1.9" fill="#44dd44"/><circle cx="493.6" cy="917.8" r="3.2" fill="#44dd44"/><circle cx="444.1" cy="1115.7" r="2.1" fill="#44dd44"/><circle cx="357.1" cy="987.8" r="2.7" fill="#44dd44"/><circle cx="493.8" cy="962.7" r="2.4" fill="#44dd44"/><circle cx="364.9" cy="1105.6" r="3.0" fill="#44dd44"/><circle cx="460.8" cy="1019.7" r="2.5" fill="#44dd44"/><circle cx="436.0" cy="987.5" r="3.0" fill="#44dd44"/><circle cx="463.4" cy="870.5" r="2.5" fill="#44dd44"/><circle cx="362.2" cy="881.6" r="3.1" fill="#44dd44"/><circle cx="368.4" cy="865.8" r="2.9" fill="#44dd44"/><circle cx="448.6" cy="1051.4" r="2.1" fill="#44dd44"/><circle cx="458.4" cy="966.4" r="2.4" fill="#44dd44"/><circle cx="574.5" cy="1018.9" r="2.9" fill="#44dd44"/><circle cx="506.4" cy="953.5" r="2.0" fill="#44dd44"/><circle cx="438.9" cy="1039.0" r="2.8" fill="#44dd44"/><circle cx="508.6" cy="1059.5" r="2.0" fill="#44dd44"/><circle cx="449.5" cy="1055.7" r="3.0" fill="#44dd44"/><circle cx="544.3" cy="1001.6" r="2.3" fill="#44dd44"/><circle cx="417.0" cy="1035.3" r="1.8" fill="#44dd44"/><circle cx="342.6" cy="1006.8" r="2.6" fill="#44dd44"/><circle cx="541.0" cy="993.1" r="2.9" fill="#44dd44"/><circle cx="385.5" cy="1041.3" r="1.8" fill="#44dd44"/><circle cx="378.6" cy="963.6" r="2.3" fill="#44dd44"/><circle cx="553.7" cy="994.6" r="2.1" fill="#44dd44"/><circle cx="632.1" cy="987.0" r="3.1" fill="#44dd44"/><circle cx="456.5" cy="1051.0" r="3.1" fill="#44dd44"/><circle cx="456.8" cy="981.3" r="2.8" fill="#44dd44"/>
<path d="M498 854 C510 835 530 815 545 800 C552 793 558 789 566 786" fill="none" stroke="#d030d0" stroke-width="4.2" stroke-linecap="round"/><path d="M498 854 C510 835 530 815 545 800 C552 793 558 789 566 786" fill="none" stroke="#f6c8f6" stroke-width="1.5" stroke-linecap="round"/>
<path d="M470 812 C485 806 500 800 512 792 C520 786 526 782 534 780" fill="none" stroke="#d030d0" stroke-width="3.8" stroke-linecap="round"/><path d="M470 812 C485 806 500 800 512 792 C520 786 526 782 534 780" fill="none" stroke="#f6c8f6" stroke-width="1.3" stroke-linecap="round"/>
<path d="M475 772 C485 768 494 764 503 761" fill="none" stroke="#d030d0" stroke-width="4" stroke-linecap="round"/><path d="M475 772 C485 768 494 764 503 761" fill="none" stroke="#f6c8f6" stroke-width="1.4" stroke-linecap="round"/>
<path d="M512 800 C520 796 528 790 530 784" fill="none" stroke="#d030d0" stroke-width="3.4" stroke-linecap="round"/><path d="M512 800 C520 796 528 790 530 784" fill="none" stroke="#f6c8f6" stroke-width="1.2" stroke-linecap="round"/>
<path d="M540 790 C555 786 565 784 575 783" fill="none" stroke="#d030d0" stroke-width="3.8" stroke-linecap="round"/><path d="M540 790 C555 786 565 784 575 783" fill="none" stroke="#f6c8f6" stroke-width="1.3" stroke-linecap="round"/>
<path d="M428 830 C434 826 438 824 444 822" fill="none" stroke="#d030d0" stroke-width="3.8" stroke-linecap="round"/><path d="M428 830 C434 826 438 824 444 822" fill="none" stroke="#f6c8f6" stroke-width="1.3" stroke-linecap="round"/>
<path d="M357 872 C352 850 360 834 377 832 C395 833 405 840 416 850" fill="none" stroke="#d030d0" stroke-width="3" stroke-linecap="round"/><path d="M357 872 C352 850 360 834 377 832 C395 833 405 840 416 850" fill="none" stroke="#f6c8f6" stroke-width="1.0" stroke-linecap="round"/>
<ellipse cx="571" cy="786" rx="3" ry="2" fill="#40e040"/><ellipse cx="486" cy="808" rx="2.5" ry="2" fill="#40e040"/>
<circle cx="389" cy="852" r="6.5" fill="none" stroke="#d8d8d8" stroke-width="2.5"/>
<circle cx="358" cy="880" r="3" fill="none" stroke="#eeeeee" stroke-width="1.6"/></g></g>
<g clip-path="url(#cIn)"><rect x="7" y="756" width="287" height="168" fill="#000"/><use href="#cellF" transform="translate(7 756) scale(1.64 1.66) translate(-423 -758)"/></g>
<rect x="7" y="756" width="287" height="168" fill="none" stroke="#fff" stroke-width="1.6"/>
<rect x="172" y="906" width="111" height="4" fill="#fff"/>
<g fill="none" stroke="#e8e8e8" stroke-width="2" stroke-dasharray="5 3"><rect x="423" y="758" width="175" height="101"/><path d="M294 924 L423 859"/><path d="M294 757 L423 757"/></g>
<rect x="699.2" y="1215" width="67" height="5.7" fill="#fff"/>
<text x="19" y="1161.5" font-size="20.2" text-anchor="start" fill="#cf36d3" color="#cf36d3" >TOMM20-Halo-M175L-SiR</text>
<text x="19" y="1193" font-size="20.2" text-anchor="start" fill="#3cdc3c" color="#3cdc3c" >PKMO</text>
<text x="19" y="1222" font-size="20.2" text-anchor="start" fill="#ffffff" color="#ffffff" >mStayGold(J)-SEC61β</text>
<text x="780.6" y="752.2" font-size="27" text-anchor="start" fill="#000" >G</text>
<path d="M878.8 777.4 L878.8 1119.4 L1220.7 1119.4" fill="none" stroke="#000" stroke-width="3.4"/>
<text x="858.6" y="1128.3000000000002" font-size="24.5" text-anchor="end" fill="#000" >0.5</text>
<text x="858.6" y="1062.9" font-size="24.5" text-anchor="end" fill="#000" >0.6</text>
<text x="858.6" y="997.5" font-size="24.5" text-anchor="end" fill="#000" >0.7</text>
<text x="858.6" y="932.0999999999999" font-size="24.5" text-anchor="end" fill="#000" >0.8</text>
<text x="858.6" y="866.6999999999999" font-size="24.5" text-anchor="end" fill="#000" >0.9</text>
<text x="858.6" y="801.3" font-size="24.5" text-anchor="end" fill="#000" >1.0</text>
<path d="M864.4 1119.4 L878.8 1119.4 M864.4 1054.0 L878.8 1054.0 M864.4 988.6 L878.8 988.6 M864.4 923.2 L878.8 923.2 M864.4 857.8 L878.8 857.8 M864.4 792.4 L878.8 792.4 M878.8 1119.4 L878.8 1133.4 M921.3 1119.4 L921.3 1127.4 M963.9 1119.4 L963.9 1133.4 M1006.4 1119.4 L1006.4 1127.4 M1049.0 1119.4 L1049.0 1133.4 M1091.5 1119.4 L1091.5 1127.4 M1134.1 1119.4 L1134.1 1133.4 M1176.6 1119.4 L1176.6 1127.4 M1219.2 1119.4 L1219.2 1133.4" stroke="#000" stroke-width="3"/>
<text x="0" y="0" font-size="23" text-anchor="end" transform="translate(885.2 1163.6) rotate(-45)">0</text>
<text x="0" y="0" font-size="23" text-anchor="end" transform="translate(970.3 1163.6) rotate(-45)">200</text>
<text x="0" y="0" font-size="23" text-anchor="end" transform="translate(1055.4 1163.6) rotate(-45)">400</text>
<text x="0" y="0" font-size="23" text-anchor="end" transform="translate(1140.5 1163.6) rotate(-45)">600</text>
<text x="0" y="0" font-size="23" text-anchor="end" transform="translate(1225.6 1163.6) rotate(-45)">800</text>
<text x="1048" y="1229" font-size="28.4" text-anchor="middle" fill="#000" >Time/s</text>
<text x="0" y="0" font-size="28" text-anchor="middle" transform="translate(807.5 951.5) rotate(-90)">Normalized intensity</text>
<polyline points="878.8,793.7 879.2,796.2 879.7,799.1 880.1,802.4 880.5,806.0 881.0,810.0 881.4,814.5 881.8,819.3 882.3,824.5 882.7,831.0 883.1,838.3 883.6,845.7 884.0,851.9 884.4,857.2 884.9,862.3 885.3,867.2 885.7,871.8 886.2,876.1 886.6,880.1 887.0,883.9 887.5,887.3 887.9,890.3 888.3,893.1 888.8,895.8 889.2,898.4 889.6,900.9 890.1,903.2 890.5,905.4 890.9,907.5 891.3,909.5 891.8,911.4 892.2,913.1 892.6,914.8 893.1,916.3 893.5,917.7 893.9,919.0 894.4,920.4 894.8,921.7 895.2,922.9 895.7,924.1 896.1,925.3 896.5,926.5 897.0,927.6 897.4,928.7 897.8,929.8 898.3,930.8 898.7,931.8 899.1,932.7 899.6,933.7 900.0,934.6 900.4,935.4 900.9,936.3 901.3,937.1 901.7,937.9 902.2,938.6 902.6,939.3 903.0,940.0 903.5,940.6 903.9,941.2 904.3,941.8 905.6,943.4 906.8,944.8 908.1,946.1 909.3,947.3 910.5,948.4 911.8,949.4 913.0,950.4 914.3,951.4 915.5,952.3 916.7,953.2 918.0,954.1 919.2,955.0 920.5,955.9 921.7,956.7 922.9,957.5 924.2,958.3 925.4,959.1 926.7,960.0 927.9,960.9 929.1,961.7 930.4,962.6 931.6,963.5 932.9,964.4 934.1,965.3 935.3,966.3 936.6,967.2 937.8,968.1 939.1,969.0 940.3,970.0 941.5,970.9 942.8,971.9 944.0,972.8 945.3,973.8 946.5,974.7 947.7,975.7 949.0,976.6 950.2,977.6 951.5,978.6 952.7,979.5 954.0,980.5 955.2,981.4 956.4,982.4 957.7,983.3 958.9,984.3 960.2,985.2 961.4,986.2 962.6,987.1 963.9,988.1 965.1,989.0 966.4,989.9 967.6,990.8 968.8,991.7 970.1,992.6 971.3,993.5 972.6,994.4 973.8,995.3 975.0,996.2 976.3,997.0 977.5,997.9 978.8,998.7 980.0,999.6 981.2,1000.4 982.5,1001.2 983.7,1002.0 985.0,1002.8 986.2,1003.6 987.4,1004.4 988.7,1005.1 989.9,1005.9 991.2,1006.6 992.4,1007.4 993.6,1008.1 994.9,1008.9 996.1,1009.6 997.4,1010.3 998.6,1011.0 999.9,1011.7 1001.1,1012.4 1002.3,1013.0 1003.6,1013.7 1004.8,1014.4 1006.1,1015.1 1007.3,1015.7 1008.5,1016.4 1009.8,1017.0 1011.0,1017.7 1012.3,1018.3 1013.5,1019.0 1014.7,1019.6 1016.0,1020.3 1017.2,1020.9 1018.5,1021.5 1019.7,1022.1 1020.9,1022.8 1022.2,1023.4 1023.4,1024.0 1024.7,1024.6 1025.9,1025.2 1027.1,1025.8 1028.4,1026.4 1029.6,1027.0 1030.9,1027.7 1032.1,1028.3 1033.3,1028.9 1034.6,1029.4 1035.8,1030.0 1037.1,1030.6 1038.3,1031.2 1039.5,1031.8 1040.8,1032.4 1042.0,1033.0 1043.3,1033.6 1044.5,1034.2 1045.8,1034.8 1047.0,1035.4 1048.2,1036.0 1049.5,1036.6 1050.7,1037.1 1052.0,1037.7 1053.2,1038.3 1054.4,1038.9 1055.7,1039.5 1056.9,1040.1 1058.2,1040.7 1059.4,1041.3 1060.6,1041.9 1061.9,1042.5 1063.1,1043.1 1064.4,1043.7 1065.6,1044.3 1066.8,1044.9 1068.1,1045.5 1069.3,1046.1 1070.6,1046.7 1071.8,1047.3 1073.0,1048.0 1074.3,1048.6 1075.5,1049.2 1076.8,1049.8 1078.0,1050.4 1079.2,1051.0 1080.5,1051.6 1081.7,1052.2 1083.0,1052.8 1084.2,1053.5 1085.4,1054.1 1086.7,1054.7 1087.9,1055.3 1089.2,1055.9 1090.4,1056.5 1091.7,1057.1 1092.9,1057.7 1094.1,1058.3 1095.4,1058.9 1096.6,1059.5 1097.9,1060.1 1099.1,1060.7 1100.3,1061.3 1101.6,1061.9 1102.8,1062.5 1104.1,1063.1 1105.3,1063.7 1106.5,1064.3 1107.8,1064.9 1109.0,1065.5 1110.3,1066.1 1111.5,1066.7 1112.7,1067.3 1114.0,1067.9 1115.2,1068.6 1116.5,1069.2 1117.7,1069.8 1118.9,1070.4 1120.2,1071.0 1121.4,1071.6 1122.7,1072.3 1123.9,1072.9 1125.1,1073.5 1126.4,1074.1 1127.6,1074.8 1128.9,1075.4 1130.1,1076.0 1131.3,1076.7 1132.6,1077.3 1133.8,1078.0 1135.1,1078.6 1136.3,1079.3 1137.6,1079.9 1138.8,1080.6 1140.0,1081.2 1141.3,1081.9 1142.5,1082.6 1143.8,1083.2 1145.0,1083.9 1146.2,1084.6 1147.5,1085.3 1148.7,1086.0 1150.0,1086.7 1151.2,1087.4 1152.4,1088.1 1153.7,1088.8 1154.9,1089.5 1156.2,1090.2 1157.4,1090.9 1158.6,1091.6 1159.9,1092.3 1161.1,1093.0 1162.4,1093.7 1163.6,1094.5 1164.8,1095.2 1166.1,1095.9 1167.3,1096.7 1168.6,1097.4 1169.8,1098.1 1171.0,1098.9 1172.3,1099.6 1173.5,1100.4 1174.8,1101.1 1176.0,1101.9 1177.2,1102.6 1178.5,1103.4 1179.7,1104.1 1181.0,1104.9 1182.2,1105.7 1183.5,1106.4 1184.7,1107.2 1185.9,1108.0 1187.2,1108.8 1188.4,1109.5 1189.7,1110.3 1190.9,1111.1 1192.1,1111.9 1193.4,1112.7 1194.6,1113.5 1195.9,1114.3 1197.1,1115.0 1198.3,1115.8 1199.6,1116.6 1200.8,1117.4" fill="none" stroke="#f3b6cf" stroke-width="6" stroke-linejoin="round" stroke-linecap="round" opacity="0.9"/>
<polyline points="878.8,793.7 879.2,796.2 879.7,799.1 880.1,802.4 880.5,806.0 881.0,810.0 881.4,814.5 881.8,819.3 882.3,824.5 882.7,831.0 883.1,838.3 883.6,845.7 884.0,851.9 884.4,857.2 884.9,862.3 885.3,867.2 885.7,871.8 886.2,876.1 886.6,880.1 887.0,883.9 887.5,887.3 887.9,890.3 888.3,893.1 888.8,895.8 889.2,898.4 889.6,900.9 890.1,903.2 890.5,905.4 890.9,907.5 891.3,909.5 891.8,911.4 892.2,913.1 892.6,914.8 893.1,916.3 893.5,917.7 893.9,919.0 894.4,920.4 894.8,921.7 895.2,922.9 895.7,924.1 896.1,925.3 896.5,926.5 897.0,927.6 897.4,928.7 897.8,929.8 898.3,930.8 898.7,931.8 899.1,932.7 899.6,933.7 900.0,934.6 900.4,935.4 900.9,936.3 901.3,937.1 901.7,937.9 902.2,938.6 902.6,939.3 903.0,940.0 903.5,940.6 903.9,941.2 904.3,941.8 905.6,943.4 906.8,944.8 908.1,946.1 909.3,947.3 910.5,948.4 911.8,949.4 913.0,950.4 914.3,951.4 915.5,952.3 916.7,953.2 918.0,954.1 919.2,955.0 920.5,955.9 921.7,956.7 922.9,957.5 924.2,958.3 925.4,959.1 926.7,960.0 927.9,960.9 929.1,961.7 930.4,962.6 931.6,963.5 932.9,964.4 934.1,965.3 935.3,966.3 936.6,967.2 937.8,968.1 939.1,969.0 940.3,970.0 941.5,970.9 942.8,971.9 944.0,972.8 945.3,973.8 946.5,974.7 947.7,975.7 949.0,976.6 950.2,977.6 951.5,978.6 952.7,979.5 954.0,980.5 955.2,981.4 956.4,982.4 957.7,983.3 958.9,984.3 960.2,985.2 961.4,986.2 962.6,987.1 963.9,988.1 965.1,989.0 966.4,989.9 967.6,990.8 968.8,991.7 970.1,992.6 971.3,993.5 972.6,994.4 973.8,995.3 975.0,996.2 976.3,997.0 977.5,997.9 978.8,998.7 980.0,999.6 981.2,1000.4 982.5,1001.2 983.7,1002.0 985.0,1002.8 986.2,1003.6 987.4,1004.4 988.7,1005.1 989.9,1005.9 991.2,1006.6 992.4,1007.4 993.6,1008.1 994.9,1008.9 996.1,1009.6 997.4,1010.3 998.6,1011.0 999.9,1011.7 1001.1,1012.4 1002.3,1013.0 1003.6,1013.7 1004.8,1014.4 1006.1,1015.1 1007.3,1015.7 1008.5,1016.4 1009.8,1017.0 1011.0,1017.7 1012.3,1018.3 1013.5,1019.0 1014.7,1019.6 1016.0,1020.3 1017.2,1020.9 1018.5,1021.5 1019.7,1022.1 1020.9,1022.8 1022.2,1023.4 1023.4,1024.0 1024.7,1024.6 1025.9,1025.2 1027.1,1025.8 1028.4,1026.4 1029.6,1027.0 1030.9,1027.7 1032.1,1028.3 1033.3,1028.9 1034.6,1029.4 1035.8,1030.0 1037.1,1030.6 1038.3,1031.2 1039.5,1031.8 1040.8,1032.4 1042.0,1033.0 1043.3,1033.6 1044.5,1034.2 1045.8,1034.8 1047.0,1035.4 1048.2,1036.0 1049.5,1036.6 1050.7,1037.1 1052.0,1037.7 1053.2,1038.3 1054.4,1038.9 1055.7,1039.5 1056.9,1040.1 1058.2,1040.7 1059.4,1041.3 1060.6,1041.9 1061.9,1042.5 1063.1,1043.1 1064.4,1043.7 1065.6,1044.3 1066.8,1044.9 1068.1,1045.5 1069.3,1046.1 1070.6,1046.7 1071.8,1047.3 1073.0,1048.0 1074.3,1048.6 1075.5,1049.2 1076.8,1049.8 1078.0,1050.4 1079.2,1051.0 1080.5,1051.6 1081.7,1052.2 1083.0,1052.8 1084.2,1053.5 1085.4,1054.1 1086.7,1054.7 1087.9,1055.3 1089.2,1055.9 1090.4,1056.5 1091.7,1057.1 1092.9,1057.7 1094.1,1058.3 1095.4,1058.9 1096.6,1059.5 1097.9,1060.1 1099.1,1060.7 1100.3,1061.3 1101.6,1061.9 1102.8,1062.5 1104.1,1063.1 1105.3,1063.7 1106.5,1064.3 1107.8,1064.9 1109.0,1065.5 1110.3,1066.1 1111.5,1066.7 1112.7,1067.3 1114.0,1067.9 1115.2,1068.6 1116.5,1069.2 1117.7,1069.8 1118.9,1070.4 1120.2,1071.0 1121.4,1071.6 1122.7,1072.3 1123.9,1072.9 1125.1,1073.5 1126.4,1074.1 1127.6,1074.8 1128.9,1075.4 1130.1,1076.0 1131.3,1076.7 1132.6,1077.3 1133.8,1078.0 1135.1,1078.6 1136.3,1079.3 1137.6,1079.9 1138.8,1080.6 1140.0,1081.2 1141.3,1081.9 1142.5,1082.6 1143.8,1083.2 1145.0,1083.9 1146.2,1084.6 1147.5,1085.3 1148.7,1086.0 1150.0,1086.7 1151.2,1087.4 1152.4,1088.1 1153.7,1088.8 1154.9,1089.5 1156.2,1090.2 1157.4,1090.9 1158.6,1091.6 1159.9,1092.3 1161.1,1093.0 1162.4,1093.7 1163.6,1094.5 1164.8,1095.2 1166.1,1095.9 1167.3,1096.7 1168.6,1097.4 1169.8,1098.1 1171.0,1098.9 1172.3,1099.6 1173.5,1100.4 1174.8,1101.1 1176.0,1101.9 1177.2,1102.6 1178.5,1103.4 1179.7,1104.1 1181.0,1104.9 1182.2,1105.7 1183.5,1106.4 1184.7,1107.2 1185.9,1108.0 1187.2,1108.8 1188.4,1109.5 1189.7,1110.3 1190.9,1111.1 1192.1,1111.9 1193.4,1112.7 1194.6,1113.5 1195.9,1114.3 1197.1,1115.0 1198.3,1115.8 1199.6,1116.6 1200.8,1117.4" fill="none" stroke="#e8739c" stroke-width="3.6" stroke-linejoin="round"/>
<polyline points="878.8,792.4 880.4,795.8 881.9,799.2 883.5,802.5 885.1,805.8 886.6,809.0 888.2,812.2 889.7,815.3 891.3,818.4 892.9,821.4 894.4,824.4 896.0,827.3 897.6,830.2 899.1,833.1 900.7,835.9 902.2,838.7 903.8,841.4 905.4,844.1 906.9,846.7 908.5,849.4 910.1,851.9 911.6,854.5 913.2,857.0 914.7,859.5 916.3,861.9 917.9,864.4 919.4,866.8 921.0,869.1 922.6,871.4 924.1,873.8 925.7,876.0 927.3,878.3 928.8,880.5 930.4,882.7 931.9,884.9 933.5,887.0 935.1,889.1 936.6,891.2 938.2,893.3 939.8,895.4 941.3,897.4 942.9,899.4 944.4,901.4 946.0,903.4 947.6,905.4 949.1,907.3 950.7,909.2 952.3,911.1 953.8,913.0 955.4,914.9 957.0,916.7 958.5,918.6 960.1,920.4 961.6,922.2 963.2,924.0 964.8,925.8 966.3,927.5 967.9,929.3 969.5,931.0 971.0,932.8 972.6,934.5 974.1,936.2 975.7,937.8 977.3,939.5 978.8,941.2 980.4,942.8 982.0,944.5 983.5,946.1 985.1,947.7 986.6,949.3 988.2,950.9 989.8,952.5 991.3,954.1 992.9,955.7 994.5,957.2 996.0,958.8 997.6,960.3 999.2,961.9 1000.7,963.4 1002.3,964.9 1003.8,966.4 1005.4,968.0 1007.0,969.4 1008.5,970.9 1010.1,972.4 1011.7,973.9 1013.2,975.4 1014.8,976.8 1016.3,978.3 1017.9,979.8 1019.5,981.2 1021.0,982.6 1022.6,984.1 1024.2,985.5 1025.7,986.9 1027.3,988.4 1028.8,989.8 1030.4,991.2 1032.0,992.6 1033.5,994.0 1035.1,995.4 1036.7,996.8 1038.2,998.2 1039.8,999.6 1041.4,1000.9 1042.9,1002.3 1044.5,1003.7 1046.0,1005.0 1047.6,1006.4 1049.2,1007.8 1050.7,1009.1 1052.3,1010.5 1053.9,1011.8 1055.4,1013.2 1057.0,1014.5 1058.5,1015.9 1060.1,1017.2 1061.7,1018.5 1063.2,1019.9 1064.8,1021.2 1066.4,1022.5 1067.9,1023.8 1069.5,1025.2 1071.1,1026.5 1072.6,1027.8 1074.2,1029.1 1075.7,1030.4 1077.3,1031.7 1078.9,1033.0 1080.4,1034.3 1082.0,1035.6 1083.6,1036.9 1085.1,1038.2 1086.7,1039.5 1088.2,1040.8 1089.8,1042.1 1091.4,1043.4 1092.9,1044.7 1094.5,1046.0 1096.1,1047.3 1097.6,1048.6 1099.2,1049.8 1100.7,1051.1 1102.3,1052.4 1103.9,1053.7 1105.4,1055.0 1107.0,1056.2 1108.6,1057.5 1110.1,1058.8 1111.7,1060.0 1113.3,1061.3 1114.8,1062.6 1116.4,1063.9 1117.9,1065.1 1119.5,1066.4 1121.1,1067.6 1122.6,1068.9 1124.2,1070.2 1125.8,1071.4 1127.3,1072.7 1128.9,1073.9 1130.4,1075.2 1132.0,1076.5 1133.6,1077.7 1135.1,1079.0 1136.7,1080.2 1138.3,1081.5 1139.8,1082.7 1141.4,1084.0 1142.9,1085.2 1144.5,1086.5 1146.1,1087.7 1147.6,1089.0 1149.2,1090.2 1150.8,1091.5 1152.3,1092.7 1153.9,1094.0 1155.5,1095.2 1157.0,1096.5 1158.6,1097.7 1160.1,1098.9 1161.7,1100.2 1163.3,1101.4 1164.8,1102.7 1166.4,1103.9 1168.0,1105.2 1169.5,1106.4 1171.1,1107.6 1172.6,1108.9 1174.2,1110.1 1175.8,1111.3 1177.3,1112.6 1178.9,1113.8 1180.5,1115.1 1182.0,1116.3 1183.6,1117.5 1185.2,1118.8 1186.7,1120.0 1188.3,1121.2 1189.8,1122.5" fill="none" stroke="#ee9ec0" stroke-width="5.5" stroke-linejoin="round" opacity="0.6"/>
<polyline points="878.8,792.4 880.4,795.8 881.9,799.2 883.5,802.5 885.1,805.8 886.6,809.0 888.2,812.2 889.7,815.3 891.3,818.4 892.9,821.4 894.4,824.4 896.0,827.3 897.6,830.2 899.1,833.1 900.7,835.9 902.2,838.7 903.8,841.4 905.4,844.1 906.9,846.7 908.5,849.4 910.1,851.9 911.6,854.5 913.2,857.0 914.7,859.5 916.3,861.9 917.9,864.4 919.4,866.8 921.0,869.1 922.6,871.4 924.1,873.8 925.7,876.0 927.3,878.3 928.8,880.5 930.4,882.7 931.9,884.9 933.5,887.0 935.1,889.1 936.6,891.2 938.2,893.3 939.8,895.4 941.3,897.4 942.9,899.4 944.4,901.4 946.0,903.4 947.6,905.4 949.1,907.3 950.7,909.2 952.3,911.1 953.8,913.0 955.4,914.9 957.0,916.7 958.5,918.6 960.1,920.4 961.6,922.2 963.2,924.0 964.8,925.8 966.3,927.5 967.9,929.3 969.5,931.0 971.0,932.8 972.6,934.5 974.1,936.2 975.7,937.8 977.3,939.5 978.8,941.2 980.4,942.8 982.0,944.5 983.5,946.1 985.1,947.7 986.6,949.3 988.2,950.9 989.8,952.5 991.3,954.1 992.9,955.7 994.5,957.2 996.0,958.8 997.6,960.3 999.2,961.9 1000.7,963.4 1002.3,964.9 1003.8,966.4 1005.4,968.0 1007.0,969.4 1008.5,970.9 1010.1,972.4 1011.7,973.9 1013.2,975.4 1014.8,976.8 1016.3,978.3 1017.9,979.8 1019.5,981.2 1021.0,982.6 1022.6,984.1 1024.2,985.5 1025.7,986.9 1027.3,988.4 1028.8,989.8 1030.4,991.2 1032.0,992.6 1033.5,994.0 1035.1,995.4 1036.7,996.8 1038.2,998.2 1039.8,999.6 1041.4,1000.9 1042.9,1002.3 1044.5,1003.7 1046.0,1005.0 1047.6,1006.4 1049.2,1007.8 1050.7,1009.1 1052.3,1010.5 1053.9,1011.8 1055.4,1013.2 1057.0,1014.5 1058.5,1015.9 1060.1,1017.2 1061.7,1018.5 1063.2,1019.9 1064.8,1021.2 1066.4,1022.5 1067.9,1023.8 1069.5,1025.2 1071.1,1026.5 1072.6,1027.8 1074.2,1029.1 1075.7,1030.4 1077.3,1031.7 1078.9,1033.0 1080.4,1034.3 1082.0,1035.6 1083.6,1036.9 1085.1,1038.2 1086.7,1039.5 1088.2,1040.8 1089.8,1042.1 1091.4,1043.4 1092.9,1044.7 1094.5,1046.0 1096.1,1047.3 1097.6,1048.6 1099.2,1049.8 1100.7,1051.1 1102.3,1052.4 1103.9,1053.7 1105.4,1055.0 1107.0,1056.2 1108.6,1057.5 1110.1,1058.8 1111.7,1060.0 1113.3,1061.3 1114.8,1062.6 1116.4,1063.9 1117.9,1065.1 1119.5,1066.4 1121.1,1067.6 1122.6,1068.9 1124.2,1070.2 1125.8,1071.4 1127.3,1072.7 1128.9,1073.9 1130.4,1075.2 1132.0,1076.5 1133.6,1077.7 1135.1,1079.0 1136.7,1080.2 1138.3,1081.5 1139.8,1082.7 1141.4,1084.0 1142.9,1085.2 1144.5,1086.5 1146.1,1087.7 1147.6,1089.0 1149.2,1090.2 1150.8,1091.5 1152.3,1092.7 1153.9,1094.0 1155.5,1095.2 1157.0,1096.5 1158.6,1097.7 1160.1,1098.9 1161.7,1100.2 1163.3,1101.4 1164.8,1102.7 1166.4,1103.9 1168.0,1105.2 1169.5,1106.4 1171.1,1107.6 1172.6,1108.9 1174.2,1110.1 1175.8,1111.3 1177.3,1112.6 1178.9,1113.8 1180.5,1115.1 1182.0,1116.3 1183.6,1117.5 1185.2,1118.8 1186.7,1120.0 1188.3,1121.2 1189.8,1122.5" fill="none" stroke="#b3155f" stroke-width="3.6" stroke-linejoin="round"/>
<rect x="904.6" y="789.2" width="37.4" height="4.6" fill="#b3155f"/>
<rect x="904.6" y="835" width="37.4" height="4.6" fill="#e8739c"/>
<text x="963.5" y="798.9" font-size="21.3" text-anchor="start" fill="#000" >TOMM20-Halo-M175L</text>
<text x="963.5" y="844.7" font-size="21.3" text-anchor="start" fill="#000" >TOMM20-Halo-WT(175M)</text>
</svg>
</body></html>
